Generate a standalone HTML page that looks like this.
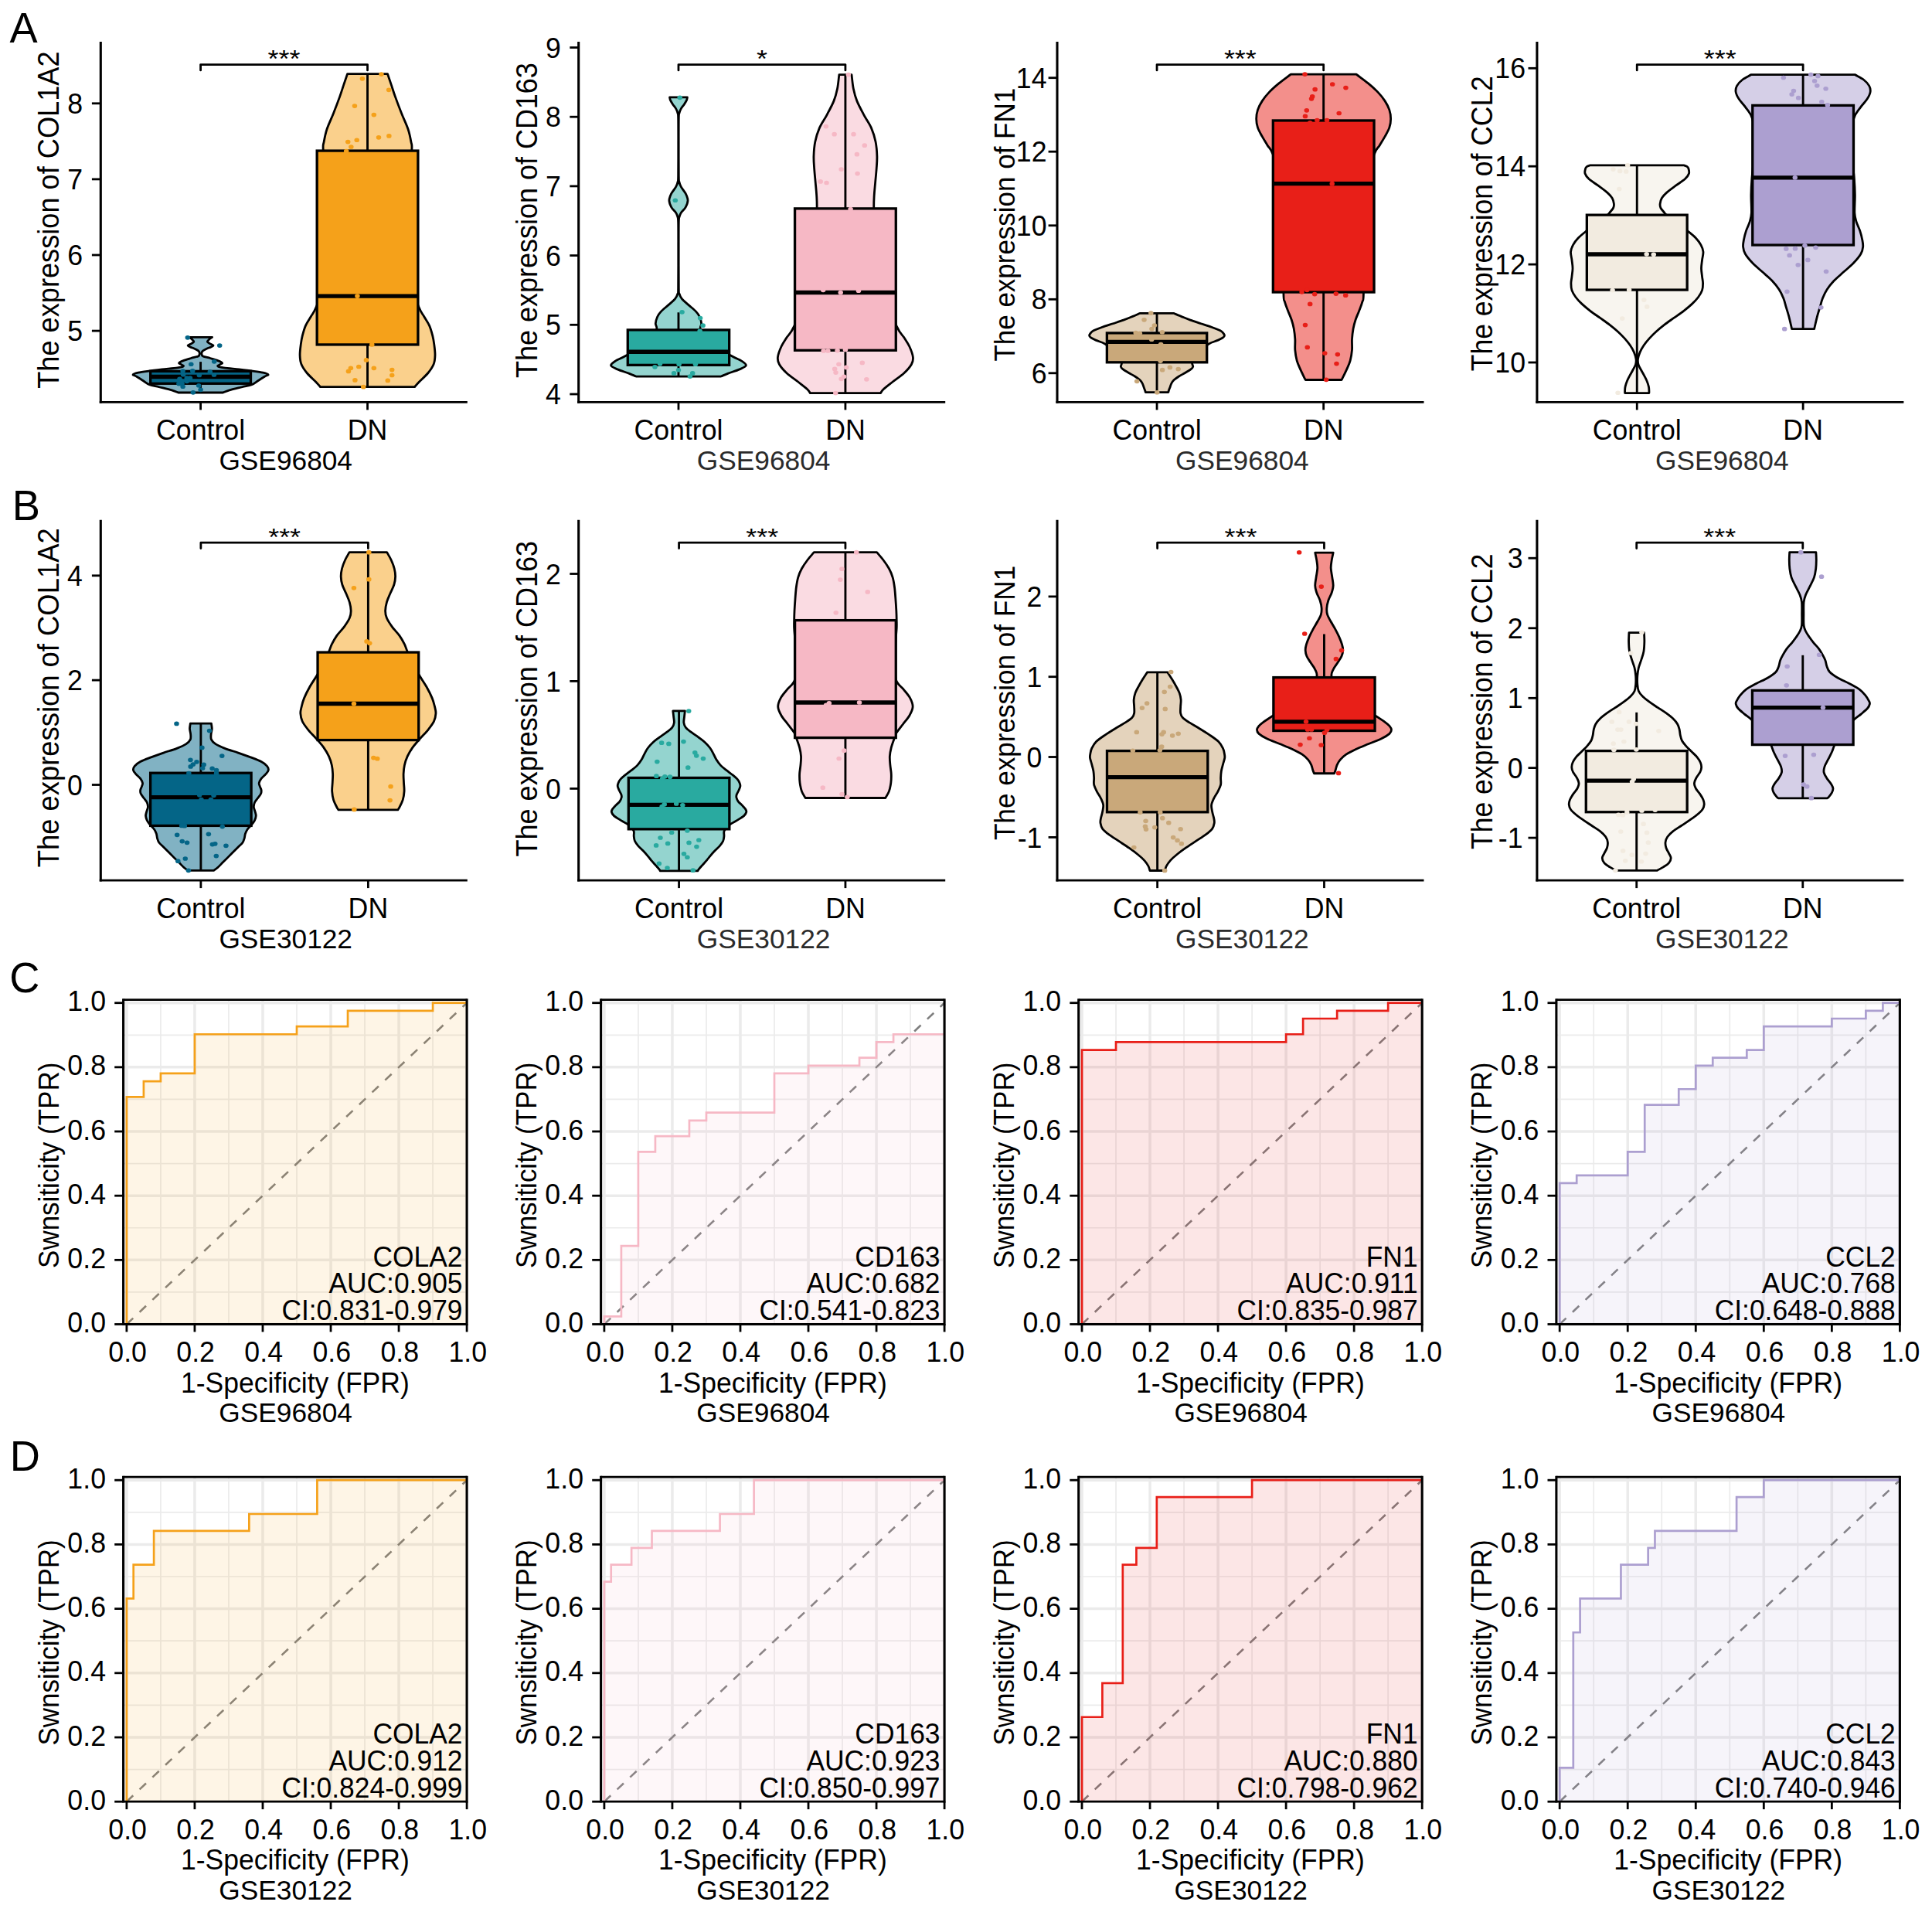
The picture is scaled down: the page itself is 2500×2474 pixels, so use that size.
<!DOCTYPE html>
<html><head><meta charset="utf-8"><title>Figure</title>
<style>html,body{margin:0;padding:0;background:#fff}svg{display:block}text{white-space:pre}</style></head><body>
<svg width="2500" height="2474" viewBox="0 0 2500 2474" font-family="Liberation Sans, Arial, Helvetica, sans-serif">
<rect width="2500" height="2474" fill="#fff"/>
<g id="A1">
<path d="M244.58 436.36 L274.6 436.36 C273.66 436.94 272.53 437.56 271.8 438.12 C271.08 438.67 270.82 438.98 270.25 439.67 C269.68 440.36 268.09 441.39 268.39 442.26 C268.68 443.12 270.71 444.03 272.01 444.84 C273.3 445.66 276.06 446.4 276.15 447.12 C276.24 447.85 273.91 448.54 272.53 449.19 C271.15 449.85 269.59 450.23 267.87 451.06 C266.14 451.88 263.33 453.04 262.17 454.16 C261.02 455.28 260.85 456.66 260.93 457.78 C261.02 458.91 260.85 459.94 262.69 460.89 C264.54 461.84 268.82 462.53 272.01 463.48 C275.2 464.43 279.25 465.55 281.84 466.58 C284.43 467.62 287.1 468.83 287.54 469.69 C287.97 470.55 285.38 471.07 284.43 471.76 C283.48 472.45 280.98 473.14 281.84 473.83 C282.71 474.52 285.03 475.21 289.61 475.9 C294.18 476.59 303.06 477.28 309.28 477.97 C315.49 478.66 321.7 479.35 326.87 480.04 C332.05 480.73 336.97 481.34 340.33 482.11 C343.7 482.89 346.71 483.84 347.06 484.7 C347.41 485.56 344.56 485.99 342.4 487.29 C340.24 488.58 336.88 490.74 334.12 492.46 C331.36 494.19 329.29 496.26 325.84 497.64 C322.39 499.02 318.25 499.54 313.42 500.75 C308.59 501.95 300.99 503.68 296.85 504.89 C292.71 506.09 291.33 506.96 288.57 507.99 L230.6 507.99 C227.84 506.96 226.46 506.09 222.32 504.89 C218.18 503.68 210.59 501.95 205.76 500.75 C200.92 499.54 196.78 499.02 193.33 497.64 C189.88 496.26 187.81 494.19 185.05 492.46 C182.29 490.74 178.93 488.58 176.77 487.29 C174.61 485.99 171.77 485.56 172.11 484.7 C172.46 483.84 175.48 482.89 178.84 482.11 C182.2 481.34 187.12 480.73 192.3 480.04 C197.47 479.35 203.69 478.66 209.9 477.97 C216.11 477.28 224.99 476.59 229.57 475.9 C234.14 475.21 236.47 474.52 237.33 473.83 C238.19 473.14 235.69 472.45 234.74 471.76 C233.79 471.07 231.2 470.55 231.64 469.69 C232.07 468.83 234.74 467.62 237.33 466.58 C239.92 465.55 243.97 464.43 247.16 463.48 C250.36 462.53 254.63 461.84 256.48 460.89 C258.33 459.94 258.15 458.91 258.24 457.78 C258.33 456.66 258.15 455.28 257 454.16 C255.84 453.04 253.03 451.88 251.3 451.06 C249.58 450.23 248.03 449.85 246.65 449.19 C245.27 448.54 242.94 447.85 243.02 447.12 C243.11 446.4 245.87 445.66 247.16 444.84 C248.46 444.03 250.49 443.12 250.79 442.26 C251.08 441.39 249.49 440.36 248.92 439.67 C248.35 438.98 248.1 438.67 247.37 438.12 C246.65 437.56 245.51 436.94 244.58 436.36 Z" fill="#046587" fill-opacity="0.5" stroke="none"/>
<path d="M244.58 436.36 L274.6 436.36 C273.66 436.94 272.53 437.56 271.8 438.12 C271.08 438.67 270.82 438.98 270.25 439.67 C269.68 440.36 268.09 441.39 268.39 442.26 C268.68 443.12 270.71 444.03 272.01 444.84 C273.3 445.66 276.06 446.4 276.15 447.12 C276.24 447.85 273.91 448.54 272.53 449.19 C271.15 449.85 269.59 450.23 267.87 451.06 C266.14 451.88 263.33 453.04 262.17 454.16 C261.02 455.28 260.85 456.66 260.93 457.78 C261.02 458.91 260.85 459.94 262.69 460.89 C264.54 461.84 268.82 462.53 272.01 463.48 C275.2 464.43 279.25 465.55 281.84 466.58 C284.43 467.62 287.1 468.83 287.54 469.69 C287.97 470.55 285.38 471.07 284.43 471.76 C283.48 472.45 280.98 473.14 281.84 473.83 C282.71 474.52 285.03 475.21 289.61 475.9 C294.18 476.59 303.06 477.28 309.28 477.97 C315.49 478.66 321.7 479.35 326.87 480.04 C332.05 480.73 336.97 481.34 340.33 482.11 C343.7 482.89 346.71 483.84 347.06 484.7 C347.41 485.56 344.56 485.99 342.4 487.29 C340.24 488.58 336.88 490.74 334.12 492.46 C331.36 494.19 329.29 496.26 325.84 497.64 C322.39 499.02 318.25 499.54 313.42 500.75 C308.59 501.95 300.99 503.68 296.85 504.89 C292.71 506.09 291.33 506.96 288.57 507.99 L230.6 507.99 C227.84 506.96 226.46 506.09 222.32 504.89 C218.18 503.68 210.59 501.95 205.76 500.75 C200.92 499.54 196.78 499.02 193.33 497.64 C189.88 496.26 187.81 494.19 185.05 492.46 C182.29 490.74 178.93 488.58 176.77 487.29 C174.61 485.99 171.77 485.56 172.11 484.7 C172.46 483.84 175.48 482.89 178.84 482.11 C182.2 481.34 187.12 480.73 192.3 480.04 C197.47 479.35 203.69 478.66 209.9 477.97 C216.11 477.28 224.99 476.59 229.57 475.9 C234.14 475.21 236.47 474.52 237.33 473.83 C238.19 473.14 235.69 472.45 234.74 471.76 C233.79 471.07 231.2 470.55 231.64 469.69 C232.07 468.83 234.74 467.62 237.33 466.58 C239.92 465.55 243.97 464.43 247.16 463.48 C250.36 462.53 254.63 461.84 256.48 460.89 C258.33 459.94 258.15 458.91 258.24 457.78 C258.33 456.66 258.15 455.28 257 454.16 C255.84 453.04 253.03 451.88 251.3 451.06 C249.58 450.23 248.03 449.85 246.65 449.19 C245.27 448.54 242.94 447.85 243.02 447.12 C243.11 446.4 245.87 445.66 247.16 444.84 C248.46 444.03 250.49 443.12 250.79 442.26 C251.08 441.39 249.49 440.36 248.92 439.67 C248.35 438.98 248.1 438.67 247.37 438.12 C246.65 437.56 245.51 436.94 244.58 436.36 Z" fill="none" stroke="#000" stroke-width="2.8" stroke-linejoin="round"/>
<line x1="259.59" y1="468.14" x2="259.59" y2="480.35" stroke="#000" stroke-width="2.9" stroke-linecap="butt" />
<line x1="259.59" y1="496.29" x2="259.59" y2="507.99" stroke="#000" stroke-width="2.9" stroke-linecap="butt" />
<rect x="194.68" y="480.35" width="129.81" height="15.94" fill="#046587" stroke="#000" stroke-width="3.3"/>
<line x1="194.68" y1="487.49" x2="324.49" y2="487.49" stroke="#000" stroke-width="5.3" stroke-linecap="butt" />
<g fill="#046587">
<ellipse cx="242.82" cy="436.87" rx="3.25" ry="2.85"/>
<ellipse cx="284.22" cy="447.12" rx="3.25" ry="2.85"/>
<ellipse cx="277.18" cy="467.83" rx="3.25" ry="2.85"/>
<ellipse cx="247.27" cy="471.24" rx="3.25" ry="2.85"/>
<ellipse cx="236.6" cy="480.04" rx="3.25" ry="2.85"/>
<ellipse cx="249.23" cy="479.83" rx="3.25" ry="2.85"/>
<ellipse cx="271.8" cy="481.08" rx="3.25" ry="2.85"/>
<ellipse cx="237.12" cy="484.7" rx="3.25" ry="2.85"/>
<ellipse cx="257.83" cy="485.42" rx="3.25" ry="2.85"/>
<ellipse cx="276.98" cy="485.01" rx="3.25" ry="2.85"/>
<ellipse cx="232.46" cy="490.39" rx="3.25" ry="2.85"/>
<ellipse cx="241.78" cy="489.15" rx="3.25" ry="2.85"/>
<ellipse cx="245.92" cy="489.15" rx="3.25" ry="2.85"/>
<ellipse cx="234.53" cy="492.98" rx="3.25" ry="2.85"/>
<ellipse cx="241.78" cy="493.29" rx="3.25" ry="2.85"/>
<ellipse cx="231.43" cy="496.6" rx="3.25" ry="2.85"/>
<ellipse cx="235.57" cy="496.6" rx="3.25" ry="2.85"/>
<ellipse cx="236.6" cy="500.23" rx="3.25" ry="2.85"/>
<ellipse cx="257.1" cy="498.88" rx="3.25" ry="2.85"/>
<ellipse cx="259.59" cy="504.37" rx="3.25" ry="2.85"/>
<ellipse cx="249.86" cy="507.78" rx="3.25" ry="2.85"/>
</g>
<path d="M449.53 95.65 L501.54 95.65 C503.15 100.41 504.73 105.01 506.38 109.92 C508.02 114.83 509.21 118.93 511.44 125.11 C513.66 131.29 516.96 139.99 519.72 146.97 C522.49 153.95 525.98 160.9 528.01 167 C530.04 173.1 531.12 178.96 531.92 183.57 C532.73 188.17 533.42 185.02 532.84 194.61 C532.27 204.2 529.77 221.85 528.47 241.1 C527.17 260.36 524.44 289.05 525.02 310.15 C525.59 331.25 529.04 353.03 531.92 367.69 C534.8 382.34 539.48 391.09 542.28 398.07 C545.08 405.05 546.5 405.7 548.72 409.57 C550.95 413.45 553.79 417.17 555.63 421.31 C557.47 425.45 558.73 430.33 559.77 434.43 C560.81 438.53 561.3 441.72 561.84 445.94 C562.38 450.16 563.11 455.53 562.99 459.75 C562.88 463.97 562.69 467.42 561.15 471.25 C559.62 475.09 556.93 478.93 553.79 482.76 C550.64 486.6 545.16 491.28 542.28 494.27 C539.4 497.26 538.44 498.57 536.52 500.71 L414.55 500.71 C412.63 498.57 411.67 497.26 408.79 494.27 C405.91 491.28 400.43 486.6 397.28 482.76 C394.14 478.93 391.45 475.09 389.92 471.25 C388.39 467.42 388.19 463.97 388.08 459.75 C387.96 455.53 388.69 450.16 389.23 445.94 C389.77 441.72 390.26 438.53 391.3 434.43 C392.34 430.33 393.6 425.45 395.44 421.31 C397.28 417.17 400.12 413.45 402.35 409.57 C404.57 405.7 405.99 405.05 408.79 398.07 C411.59 391.09 416.27 382.34 419.15 367.69 C422.03 353.03 425.48 331.25 426.05 310.15 C426.63 289.05 423.9 260.36 422.6 241.1 C421.3 221.85 418.8 204.2 418.23 194.61 C417.65 185.02 418.34 188.17 419.15 183.57 C419.95 178.96 421.03 173.1 423.06 167 C425.09 160.9 428.58 153.95 431.35 146.97 C434.11 139.99 437.41 131.29 439.63 125.11 C441.86 118.93 443.05 114.83 444.7 109.92 C446.34 105.01 447.92 100.41 449.53 95.65 Z" fill="#F5A11A" fill-opacity="0.5" stroke="none"/>
<path d="M449.53 95.65 L501.54 95.65 C503.15 100.41 504.73 105.01 506.38 109.92 C508.02 114.83 509.21 118.93 511.44 125.11 C513.66 131.29 516.96 139.99 519.72 146.97 C522.49 153.95 525.98 160.9 528.01 167 C530.04 173.1 531.12 178.96 531.92 183.57 C532.73 188.17 533.42 185.02 532.84 194.61 C532.27 204.2 529.77 221.85 528.47 241.1 C527.17 260.36 524.44 289.05 525.02 310.15 C525.59 331.25 529.04 353.03 531.92 367.69 C534.8 382.34 539.48 391.09 542.28 398.07 C545.08 405.05 546.5 405.7 548.72 409.57 C550.95 413.45 553.79 417.17 555.63 421.31 C557.47 425.45 558.73 430.33 559.77 434.43 C560.81 438.53 561.3 441.72 561.84 445.94 C562.38 450.16 563.11 455.53 562.99 459.75 C562.88 463.97 562.69 467.42 561.15 471.25 C559.62 475.09 556.93 478.93 553.79 482.76 C550.64 486.6 545.16 491.28 542.28 494.27 C539.4 497.26 538.44 498.57 536.52 500.71 L414.55 500.71 C412.63 498.57 411.67 497.26 408.79 494.27 C405.91 491.28 400.43 486.6 397.28 482.76 C394.14 478.93 391.45 475.09 389.92 471.25 C388.39 467.42 388.19 463.97 388.08 459.75 C387.96 455.53 388.69 450.16 389.23 445.94 C389.77 441.72 390.26 438.53 391.3 434.43 C392.34 430.33 393.6 425.45 395.44 421.31 C397.28 417.17 400.12 413.45 402.35 409.57 C404.57 405.7 405.99 405.05 408.79 398.07 C411.59 391.09 416.27 382.34 419.15 367.69 C422.03 353.03 425.48 331.25 426.05 310.15 C426.63 289.05 423.9 260.36 422.6 241.1 C421.3 221.85 418.8 204.2 418.23 194.61 C417.65 185.02 418.34 188.17 419.15 183.57 C419.95 178.96 421.03 173.1 423.06 167 C425.09 160.9 428.58 153.95 431.35 146.97 C434.11 139.99 437.41 131.29 439.63 125.11 C441.86 118.93 443.05 114.83 444.7 109.92 C446.34 105.01 447.92 100.41 449.53 95.65 Z" fill="none" stroke="#000" stroke-width="2.8" stroke-linejoin="round"/>
<line x1="475.54" y1="95.65" x2="475.54" y2="195.07" stroke="#000" stroke-width="2.9" stroke-linecap="butt" />
<line x1="475.54" y1="445.94" x2="475.54" y2="500.71" stroke="#000" stroke-width="2.9" stroke-linecap="butt" />
<rect x="410.17" y="195.07" width="130.72" height="250.86" fill="#F5A11A" stroke="#000" stroke-width="3.3"/>
<line x1="410.17" y1="383.11" x2="540.9" y2="383.11" stroke="#000" stroke-width="5.3" stroke-linecap="butt" />
<g fill="#F5A11A">
<ellipse cx="468.86" cy="101.86" rx="3.25" ry="2.85"/>
<ellipse cx="493.49" cy="96.11" rx="3.25" ry="2.85"/>
<ellipse cx="503.15" cy="116.36" rx="3.25" ry="2.85"/>
<ellipse cx="458.96" cy="137.08" rx="3.25" ry="2.85"/>
<ellipse cx="483.82" cy="148.58" rx="3.25" ry="2.85"/>
<ellipse cx="503.38" cy="175.97" rx="3.25" ry="2.85"/>
<ellipse cx="490.03" cy="177.81" rx="3.25" ry="2.85"/>
<ellipse cx="461.73" cy="181.27" rx="3.25" ry="2.85"/>
<ellipse cx="450.22" cy="183.57" rx="3.25" ry="2.85"/>
<ellipse cx="454.36" cy="190.01" rx="3.25" ry="2.85"/>
<ellipse cx="448.15" cy="195.54" rx="3.25" ry="2.85"/>
<ellipse cx="462.42" cy="383.11" rx="3.25" ry="2.85"/>
<ellipse cx="481.29" cy="445.94" rx="3.25" ry="2.85"/>
<ellipse cx="473.92" cy="465.96" rx="3.25" ry="2.85"/>
<ellipse cx="464.26" cy="474.48" rx="3.25" ry="2.85"/>
<ellipse cx="453.9" cy="476.32" rx="3.25" ry="2.85"/>
<ellipse cx="450.91" cy="480.46" rx="3.25" ry="2.85"/>
<ellipse cx="483.82" cy="476.32" rx="3.25" ry="2.85"/>
<ellipse cx="507.3" cy="478.62" rx="3.25" ry="2.85"/>
<ellipse cx="507.3" cy="485.52" rx="3.25" ry="2.85"/>
<ellipse cx="459.42" cy="491.97" rx="3.25" ry="2.85"/>
<ellipse cx="501.77" cy="492.43" rx="3.25" ry="2.85"/>
<ellipse cx="470.24" cy="500.71" rx="3.25" ry="2.85"/>
</g>
<line x1="130.3" y1="54.1" x2="130.3" y2="521.8" stroke="#000" stroke-width="3.1" stroke-linecap="butt" />
<line x1="128.75" y1="520.4" x2="604.8" y2="520.4" stroke="#000" stroke-width="2.8" stroke-linecap="butt" />
<line x1="118.9" y1="133.8" x2="130.3" y2="133.8" stroke="#000" stroke-width="2.8" stroke-linecap="butt" />
<text transform="translate(107,146.9) scale(1.02,1.04)" font-size="35" text-anchor="end" fill="#000" >8</text>
<line x1="118.9" y1="231.9" x2="130.3" y2="231.9" stroke="#000" stroke-width="2.8" stroke-linecap="butt" />
<text transform="translate(107,245) scale(1.02,1.04)" font-size="35" text-anchor="end" fill="#000" >7</text>
<line x1="118.9" y1="330" x2="130.3" y2="330" stroke="#000" stroke-width="2.8" stroke-linecap="butt" />
<text transform="translate(107,343.1) scale(1.02,1.04)" font-size="35" text-anchor="end" fill="#000" >6</text>
<line x1="118.9" y1="428.1" x2="130.3" y2="428.1" stroke="#000" stroke-width="2.8" stroke-linecap="butt" />
<text transform="translate(107,441.2) scale(1.02,1.04)" font-size="35" text-anchor="end" fill="#000" >5</text>
<line x1="259.59" y1="520.4" x2="259.59" y2="530.4" stroke="#000" stroke-width="2.8" stroke-linecap="butt" />
<text transform="translate(259.59,569.2) scale(1.02,1.04)" font-size="35" text-anchor="middle" fill="#000" >Control</text>
<line x1="475.54" y1="520.4" x2="475.54" y2="530.4" stroke="#000" stroke-width="2.8" stroke-linecap="butt" />
<text transform="translate(475.54,569.2) scale(1.02,1.04)" font-size="35" text-anchor="middle" fill="#000" >DN</text>
<text transform="translate(76.3,502.8) rotate(-90) scale(1,1.07)" font-size="36.19" text-anchor="start" fill="#000" >The expression of COL1A2</text>
<text transform="translate(369.7,608.2) scale(1.02,1.04)" font-size="34.6" text-anchor="middle" fill="#000" >GSE96804</text>
<path d="M259.59 90.9 V83.6 H475.54 V90.9" fill="none" stroke="#000" stroke-width="2.8" stroke-linecap="round" stroke-linejoin="round"/>
<text transform="translate(367.56,87.1) scale(1.02,0.91)" font-size="35.2" text-anchor="middle" fill="#000" >***</text>
</g>
<g id="A2">
<path d="M866.55 125.92 L889.39 125.92 C889.1 127.17 889.21 128.12 888.51 129.66 C887.82 131.2 886.43 133.32 885.22 135.15 C884.01 136.98 882.29 138.81 881.27 140.64 C880.24 142.47 879.56 144.12 879.07 146.13 C878.57 148.15 878.45 145.77 878.3 152.72 C878.15 159.68 878.19 175.42 878.19 187.87 C878.19 200.32 878.19 219.54 878.3 227.42 C878.41 235.29 878.35 232.73 878.85 235.11 C879.34 237.49 879.87 239.13 881.27 241.7 C882.66 244.26 885.73 247.55 887.2 250.48 C888.66 253.41 890.05 256.34 890.05 259.27 C890.05 262.2 888.62 265.42 887.2 268.06 C885.77 270.69 882.84 273 881.49 275.09 C880.13 277.17 879.6 278.46 879.07 280.58 C878.54 282.7 878.45 281.31 878.3 287.83 C878.15 294.35 878.19 305.59 878.19 319.68 C878.19 333.78 878.15 362.34 878.3 372.41 C878.45 382.48 878.39 377.72 879.07 380.1 C879.75 382.48 880.42 384.31 882.36 386.69 C884.3 389.07 887.67 391.63 890.71 394.38 C893.75 397.12 898.18 400.6 900.6 403.16 C903.01 405.73 904.04 407.19 905.21 409.75 C906.38 412.32 907.41 415.69 907.63 418.54 C907.85 421.4 904.88 422.86 906.53 426.89 C908.18 430.92 910.92 437.14 917.51 442.71 C924.1 448.27 939.12 456.25 946.07 460.28 C953.03 464.31 956.03 464.78 959.25 466.87 C962.48 468.96 965.77 470.97 965.4 472.8 C965.04 474.63 961.01 476.1 957.06 477.86 C953.1 479.61 945.71 481.81 941.68 483.35 C937.65 484.89 935.82 485.84 932.89 487.08 L823.05 487.08 C820.12 485.84 818.29 484.89 814.26 483.35 C810.23 481.81 802.84 479.61 798.88 477.86 C794.93 476.1 790.9 474.63 790.54 472.8 C790.17 470.97 793.47 468.96 796.69 466.87 C799.91 464.78 802.91 464.31 809.87 460.28 C816.82 456.25 831.84 448.27 838.43 442.71 C845.02 437.14 847.76 430.92 849.41 426.89 C851.06 422.86 848.09 421.4 848.31 418.54 C848.53 415.69 849.56 412.32 850.73 409.75 C851.9 407.19 852.93 405.73 855.34 403.16 C857.76 400.6 862.19 397.12 865.23 394.38 C868.27 391.63 871.64 389.07 873.58 386.69 C875.52 384.31 876.19 382.48 876.87 380.1 C877.55 377.72 877.49 382.48 877.64 372.41 C877.79 362.34 877.75 333.78 877.75 319.68 C877.75 305.59 877.79 294.35 877.64 287.83 C877.49 281.31 877.4 282.7 876.87 280.58 C876.34 278.46 875.81 277.17 874.46 275.09 C873.1 273 870.17 270.69 868.74 268.06 C867.32 265.42 865.89 262.2 865.89 259.27 C865.89 256.34 867.28 253.41 868.74 250.48 C870.21 247.55 873.28 244.26 874.67 241.7 C876.07 239.13 876.6 237.49 877.09 235.11 C877.59 232.73 877.53 235.29 877.64 227.42 C877.75 219.54 877.75 200.32 877.75 187.87 C877.75 175.42 877.79 159.68 877.64 152.72 C877.49 145.77 877.37 148.15 876.87 146.13 C876.38 144.12 875.7 142.47 874.67 140.64 C873.65 138.81 871.93 136.98 870.72 135.15 C869.51 133.32 868.12 131.2 867.43 129.66 C866.73 128.12 866.84 127.17 866.55 125.92 Z" fill="#29AAA0" fill-opacity="0.5" stroke="none"/>
<path d="M866.55 125.92 L889.39 125.92 C889.1 127.17 889.21 128.12 888.51 129.66 C887.82 131.2 886.43 133.32 885.22 135.15 C884.01 136.98 882.29 138.81 881.27 140.64 C880.24 142.47 879.56 144.12 879.07 146.13 C878.57 148.15 878.45 145.77 878.3 152.72 C878.15 159.68 878.19 175.42 878.19 187.87 C878.19 200.32 878.19 219.54 878.3 227.42 C878.41 235.29 878.35 232.73 878.85 235.11 C879.34 237.49 879.87 239.13 881.27 241.7 C882.66 244.26 885.73 247.55 887.2 250.48 C888.66 253.41 890.05 256.34 890.05 259.27 C890.05 262.2 888.62 265.42 887.2 268.06 C885.77 270.69 882.84 273 881.49 275.09 C880.13 277.17 879.6 278.46 879.07 280.58 C878.54 282.7 878.45 281.31 878.3 287.83 C878.15 294.35 878.19 305.59 878.19 319.68 C878.19 333.78 878.15 362.34 878.3 372.41 C878.45 382.48 878.39 377.72 879.07 380.1 C879.75 382.48 880.42 384.31 882.36 386.69 C884.3 389.07 887.67 391.63 890.71 394.38 C893.75 397.12 898.18 400.6 900.6 403.16 C903.01 405.73 904.04 407.19 905.21 409.75 C906.38 412.32 907.41 415.69 907.63 418.54 C907.85 421.4 904.88 422.86 906.53 426.89 C908.18 430.92 910.92 437.14 917.51 442.71 C924.1 448.27 939.12 456.25 946.07 460.28 C953.03 464.31 956.03 464.78 959.25 466.87 C962.48 468.96 965.77 470.97 965.4 472.8 C965.04 474.63 961.01 476.1 957.06 477.86 C953.1 479.61 945.71 481.81 941.68 483.35 C937.65 484.89 935.82 485.84 932.89 487.08 L823.05 487.08 C820.12 485.84 818.29 484.89 814.26 483.35 C810.23 481.81 802.84 479.61 798.88 477.86 C794.93 476.1 790.9 474.63 790.54 472.8 C790.17 470.97 793.47 468.96 796.69 466.87 C799.91 464.78 802.91 464.31 809.87 460.28 C816.82 456.25 831.84 448.27 838.43 442.71 C845.02 437.14 847.76 430.92 849.41 426.89 C851.06 422.86 848.09 421.4 848.31 418.54 C848.53 415.69 849.56 412.32 850.73 409.75 C851.9 407.19 852.93 405.73 855.34 403.16 C857.76 400.6 862.19 397.12 865.23 394.38 C868.27 391.63 871.64 389.07 873.58 386.69 C875.52 384.31 876.19 382.48 876.87 380.1 C877.55 377.72 877.49 382.48 877.64 372.41 C877.79 362.34 877.75 333.78 877.75 319.68 C877.75 305.59 877.79 294.35 877.64 287.83 C877.49 281.31 877.4 282.7 876.87 280.58 C876.34 278.46 875.81 277.17 874.46 275.09 C873.1 273 870.17 270.69 868.74 268.06 C867.32 265.42 865.89 262.2 865.89 259.27 C865.89 256.34 867.28 253.41 868.74 250.48 C870.21 247.55 873.28 244.26 874.67 241.7 C876.07 239.13 876.6 237.49 877.09 235.11 C877.59 232.73 877.53 235.29 877.64 227.42 C877.75 219.54 877.75 200.32 877.75 187.87 C877.75 175.42 877.79 159.68 877.64 152.72 C877.49 145.77 877.37 148.15 876.87 146.13 C876.38 144.12 875.7 142.47 874.67 140.64 C873.65 138.81 871.93 136.98 870.72 135.15 C869.51 133.32 868.12 131.2 867.43 129.66 C866.73 128.12 866.84 127.17 866.55 125.92 Z" fill="none" stroke="#000" stroke-width="2.8" stroke-linejoin="round"/>
<line x1="877.97" y1="404.26" x2="877.97" y2="426.89" stroke="#000" stroke-width="2.9" stroke-linecap="butt" />
<line x1="877.97" y1="472.36" x2="877.97" y2="487.08" stroke="#000" stroke-width="2.9" stroke-linecap="butt" />
<rect x="812.28" y="426.89" width="131.37" height="45.47" fill="#29AAA0" stroke="#000" stroke-width="3.3"/>
<line x1="812.28" y1="455.23" x2="943.66" y2="455.23" stroke="#000" stroke-width="5.3" stroke-linecap="butt" />
<g fill="#29AAA0">
<ellipse cx="879.73" cy="126.36" rx="3.25" ry="2.85"/>
<ellipse cx="873.8" cy="259.27" rx="3.25" ry="2.85"/>
<ellipse cx="882.58" cy="403.82" rx="3.25" ry="2.85"/>
<ellipse cx="906.09" cy="411.51" rx="3.25" ry="2.85"/>
<ellipse cx="909.6" cy="421.18" rx="3.25" ry="2.85"/>
<ellipse cx="905.65" cy="428.43" rx="3.25" ry="2.85"/>
<ellipse cx="847.43" cy="474.78" rx="3.25" ry="2.85"/>
<ellipse cx="854.02" cy="470.83" rx="3.25" ry="2.85"/>
<ellipse cx="878.63" cy="471.27" rx="3.25" ry="2.85"/>
<ellipse cx="899.94" cy="471.27" rx="3.25" ry="2.85"/>
<ellipse cx="877.97" cy="478.73" rx="3.25" ry="2.85"/>
<ellipse cx="872.04" cy="482.91" rx="3.25" ry="2.85"/>
<ellipse cx="896.2" cy="482.91" rx="3.25" ry="2.85"/>
<ellipse cx="892.91" cy="487.08" rx="3.25" ry="2.85"/>
</g>
<path d="M1085.87 96.57 L1101.98 96.57 C1102.75 102.55 1103.13 108.85 1104.28 114.52 C1105.43 120.2 1106.58 124.88 1108.88 130.63 C1111.19 136.39 1115.02 143.29 1118.09 149.04 C1121.16 154.8 1124.8 159.4 1127.3 165.16 C1129.79 170.91 1131.78 177.43 1133.05 183.57 C1134.32 189.7 1134.7 196.23 1134.89 201.98 C1135.08 207.73 1134.58 212.34 1134.2 218.09 C1133.82 223.84 1133.09 230.75 1132.59 236.5 C1132.09 242.26 1131.52 247.05 1131.21 252.61 C1130.9 258.17 1130.63 260.28 1130.75 269.87 C1130.86 279.46 1129.6 291.93 1131.9 310.15 C1134.2 328.37 1139.76 360.4 1144.56 379.19 C1149.35 397.99 1156.45 413.33 1160.67 422.92 C1164.89 432.51 1167.19 432.51 1169.87 436.73 C1172.56 440.95 1174.86 444.02 1176.78 448.24 C1178.7 452.46 1180.92 458.21 1181.38 462.05 C1181.84 465.88 1181.46 467.8 1179.54 471.25 C1177.62 474.71 1173.98 478.93 1169.87 482.76 C1165.77 486.6 1159.32 490.82 1154.91 494.27 C1150.5 497.72 1145.98 501.1 1143.41 503.48 C1140.84 505.85 1140.8 506.85 1139.49 508.54 L1048.35 508.54 C1047.05 506.85 1047.01 505.85 1044.44 503.48 C1041.87 501.1 1037.35 497.72 1032.93 494.27 C1028.52 490.82 1022.08 486.6 1017.97 482.76 C1013.87 478.93 1010.23 474.71 1008.31 471.25 C1006.39 467.8 1006.01 465.88 1006.47 462.05 C1006.93 458.21 1009.15 452.46 1011.07 448.24 C1012.99 444.02 1015.29 440.95 1017.97 436.73 C1020.66 432.51 1022.96 432.51 1027.18 422.92 C1031.4 413.33 1038.5 397.99 1043.29 379.19 C1048.09 360.4 1053.65 328.37 1055.95 310.15 C1058.25 291.93 1056.99 279.46 1057.1 269.87 C1057.22 260.28 1056.95 258.17 1056.64 252.61 C1056.33 247.05 1055.76 242.26 1055.26 236.5 C1054.76 230.75 1054.03 223.84 1053.65 218.09 C1053.26 212.34 1052.77 207.73 1052.96 201.98 C1053.15 196.23 1053.53 189.7 1054.8 183.57 C1056.06 177.43 1058.06 170.91 1060.55 165.16 C1063.05 159.4 1066.69 154.8 1069.76 149.04 C1072.83 143.29 1076.66 136.39 1078.96 130.63 C1081.27 124.88 1082.42 120.2 1083.57 114.52 C1084.72 108.85 1085.1 102.55 1085.87 96.57 Z" fill="#F6B8C5" fill-opacity="0.5" stroke="none"/>
<path d="M1085.87 96.57 L1101.98 96.57 C1102.75 102.55 1103.13 108.85 1104.28 114.52 C1105.43 120.2 1106.58 124.88 1108.88 130.63 C1111.19 136.39 1115.02 143.29 1118.09 149.04 C1121.16 154.8 1124.8 159.4 1127.3 165.16 C1129.79 170.91 1131.78 177.43 1133.05 183.57 C1134.32 189.7 1134.7 196.23 1134.89 201.98 C1135.08 207.73 1134.58 212.34 1134.2 218.09 C1133.82 223.84 1133.09 230.75 1132.59 236.5 C1132.09 242.26 1131.52 247.05 1131.21 252.61 C1130.9 258.17 1130.63 260.28 1130.75 269.87 C1130.86 279.46 1129.6 291.93 1131.9 310.15 C1134.2 328.37 1139.76 360.4 1144.56 379.19 C1149.35 397.99 1156.45 413.33 1160.67 422.92 C1164.89 432.51 1167.19 432.51 1169.87 436.73 C1172.56 440.95 1174.86 444.02 1176.78 448.24 C1178.7 452.46 1180.92 458.21 1181.38 462.05 C1181.84 465.88 1181.46 467.8 1179.54 471.25 C1177.62 474.71 1173.98 478.93 1169.87 482.76 C1165.77 486.6 1159.32 490.82 1154.91 494.27 C1150.5 497.72 1145.98 501.1 1143.41 503.48 C1140.84 505.85 1140.8 506.85 1139.49 508.54 L1048.35 508.54 C1047.05 506.85 1047.01 505.85 1044.44 503.48 C1041.87 501.1 1037.35 497.72 1032.93 494.27 C1028.52 490.82 1022.08 486.6 1017.97 482.76 C1013.87 478.93 1010.23 474.71 1008.31 471.25 C1006.39 467.8 1006.01 465.88 1006.47 462.05 C1006.93 458.21 1009.15 452.46 1011.07 448.24 C1012.99 444.02 1015.29 440.95 1017.97 436.73 C1020.66 432.51 1022.96 432.51 1027.18 422.92 C1031.4 413.33 1038.5 397.99 1043.29 379.19 C1048.09 360.4 1053.65 328.37 1055.95 310.15 C1058.25 291.93 1056.99 279.46 1057.1 269.87 C1057.22 260.28 1056.95 258.17 1056.64 252.61 C1056.33 247.05 1055.76 242.26 1055.26 236.5 C1054.76 230.75 1054.03 223.84 1053.65 218.09 C1053.26 212.34 1052.77 207.73 1052.96 201.98 C1053.15 196.23 1053.53 189.7 1054.8 183.57 C1056.06 177.43 1058.06 170.91 1060.55 165.16 C1063.05 159.4 1066.69 154.8 1069.76 149.04 C1072.83 143.29 1076.66 136.39 1078.96 130.63 C1081.27 124.88 1082.42 120.2 1083.57 114.52 C1084.72 108.85 1085.1 102.55 1085.87 96.57 Z" fill="none" stroke="#000" stroke-width="2.8" stroke-linejoin="round"/>
<line x1="1093.92" y1="96.57" x2="1093.92" y2="269.87" stroke="#000" stroke-width="2.9" stroke-linecap="butt" />
<line x1="1093.92" y1="453.3" x2="1093.92" y2="508.54" stroke="#000" stroke-width="2.9" stroke-linecap="butt" />
<rect x="1028.56" y="269.87" width="130.72" height="183.43" fill="#F6B8C5" stroke="#000" stroke-width="3.3"/>
<line x1="1028.56" y1="378.5" x2="1159.29" y2="378.5" stroke="#000" stroke-width="5.3" stroke-linecap="butt" />
<g fill="#F6B8C5">
<ellipse cx="1097.84" cy="96.57" rx="3.25" ry="2.85"/>
<ellipse cx="1068.84" cy="163.54" rx="3.25" ry="2.85"/>
<ellipse cx="1079.65" cy="173.67" rx="3.25" ry="2.85"/>
<ellipse cx="1104.51" cy="173.67" rx="3.25" ry="2.85"/>
<ellipse cx="1118.78" cy="188.17" rx="3.25" ry="2.85"/>
<ellipse cx="1108.88" cy="199.68" rx="3.25" ry="2.85"/>
<ellipse cx="1088.63" cy="219.01" rx="3.25" ry="2.85"/>
<ellipse cx="1109.57" cy="224.53" rx="3.25" ry="2.85"/>
<ellipse cx="1061.7" cy="234.89" rx="3.25" ry="2.85"/>
<ellipse cx="1069.53" cy="236.5" rx="3.25" ry="2.85"/>
<ellipse cx="1100.6" cy="270.56" rx="3.25" ry="2.85"/>
<ellipse cx="1065.16" cy="375.28" rx="3.25" ry="2.85"/>
<ellipse cx="1087.71" cy="378.5" rx="3.25" ry="2.85"/>
<ellipse cx="1110.96" cy="376.2" rx="3.25" ry="2.85"/>
<ellipse cx="1065.62" cy="453.99" rx="3.25" ry="2.85"/>
<ellipse cx="1071.37" cy="453.99" rx="3.25" ry="2.85"/>
<ellipse cx="1083.57" cy="453.53" rx="3.25" ry="2.85"/>
<ellipse cx="1093.92" cy="452.38" rx="3.25" ry="2.85"/>
<ellipse cx="1115.79" cy="469.41" rx="3.25" ry="2.85"/>
<ellipse cx="1085.41" cy="471.25" rx="3.25" ry="2.85"/>
<ellipse cx="1080.12" cy="477.47" rx="3.25" ry="2.85"/>
<ellipse cx="1095.07" cy="475.4" rx="3.25" ry="2.85"/>
<ellipse cx="1081.5" cy="482.07" rx="3.25" ry="2.85"/>
<ellipse cx="1092.08" cy="487.36" rx="3.25" ry="2.85"/>
<ellipse cx="1088.63" cy="490.36" rx="3.25" ry="2.85"/>
<ellipse cx="1121.31" cy="490.82" rx="3.25" ry="2.85"/>
<ellipse cx="1081.27" cy="508.54" rx="3.25" ry="2.85"/>
</g>
<line x1="748.7" y1="54.1" x2="748.7" y2="521.8" stroke="#000" stroke-width="3.1" stroke-linecap="butt" />
<line x1="747.15" y1="520.4" x2="1223.2" y2="520.4" stroke="#000" stroke-width="2.8" stroke-linecap="butt" />
<line x1="737.3" y1="61.5" x2="748.7" y2="61.5" stroke="#000" stroke-width="2.8" stroke-linecap="butt" />
<text transform="translate(725.8,74.6) scale(1.02,1.04)" font-size="35" text-anchor="end" fill="#000" >9</text>
<line x1="737.3" y1="151.2" x2="748.7" y2="151.2" stroke="#000" stroke-width="2.8" stroke-linecap="butt" />
<text transform="translate(725.8,164.3) scale(1.02,1.04)" font-size="35" text-anchor="end" fill="#000" >8</text>
<line x1="737.3" y1="240.9" x2="748.7" y2="240.9" stroke="#000" stroke-width="2.8" stroke-linecap="butt" />
<text transform="translate(725.8,254) scale(1.02,1.04)" font-size="35" text-anchor="end" fill="#000" >7</text>
<line x1="737.3" y1="330.6" x2="748.7" y2="330.6" stroke="#000" stroke-width="2.8" stroke-linecap="butt" />
<text transform="translate(725.8,343.7) scale(1.02,1.04)" font-size="35" text-anchor="end" fill="#000" >6</text>
<line x1="737.3" y1="420.3" x2="748.7" y2="420.3" stroke="#000" stroke-width="2.8" stroke-linecap="butt" />
<text transform="translate(725.8,433.4) scale(1.02,1.04)" font-size="35" text-anchor="end" fill="#000" >5</text>
<line x1="737.3" y1="510" x2="748.7" y2="510" stroke="#000" stroke-width="2.8" stroke-linecap="butt" />
<text transform="translate(725.8,523.1) scale(1.02,1.04)" font-size="35" text-anchor="end" fill="#000" >4</text>
<line x1="877.97" y1="520.4" x2="877.97" y2="530.4" stroke="#000" stroke-width="2.8" stroke-linecap="butt" />
<text transform="translate(877.97,569.2) scale(1.02,1.04)" font-size="35" text-anchor="middle" fill="#000" >Control</text>
<line x1="1093.92" y1="520.4" x2="1093.92" y2="530.4" stroke="#000" stroke-width="2.8" stroke-linecap="butt" />
<text transform="translate(1093.92,569.2) scale(1.02,1.04)" font-size="35" text-anchor="middle" fill="#000" >DN</text>
<text transform="translate(695.2,489) rotate(-90) scale(1,1.07)" font-size="35.97" text-anchor="start" fill="#000" >The expression of CD163</text>
<text transform="translate(988.1,608.2) scale(1.02,1.04)" font-size="34.6" text-anchor="middle" fill="#2b2b2b" >GSE96804</text>
<path d="M877.97 90.9 V83.6 H1093.92 V90.9" fill="none" stroke="#000" stroke-width="2.8" stroke-linecap="round" stroke-linejoin="round"/>
<text transform="translate(985.95,87.1) scale(1.02,0.91)" font-size="35.2" text-anchor="middle" fill="#000" >*</text>
</g>
<g id="A3">
<path d="M1475.4 405.28 L1518.67 405.28 C1522.09 406.72 1525.31 408.13 1528.92 409.61 C1532.53 411.09 1536.13 412.64 1540.31 414.16 C1544.48 415.68 1549.42 417.2 1553.97 418.72 C1558.53 420.23 1563.46 421.75 1567.64 423.27 C1571.81 424.79 1576.46 426.5 1579.02 427.83 C1581.59 429.15 1582.1 430.2 1583.01 431.24 C1583.92 432.28 1584.58 433.14 1584.49 434.09 C1584.39 435.04 1583.92 435.89 1582.44 436.93 C1580.96 437.98 1578.64 439.02 1575.61 440.35 C1572.57 441.68 1568.21 442.63 1564.22 444.91 C1560.23 447.18 1555.11 450.79 1551.69 454.02 C1548.28 457.24 1545.24 461.61 1543.72 464.26 C1542.21 466.92 1542.58 468.25 1542.58 469.96 C1542.58 471.66 1544.01 473.18 1543.72 474.51 C1543.44 475.84 1542.58 476.6 1540.88 477.93 C1539.17 479.26 1536.04 480.96 1533.48 482.48 C1530.91 484 1527.88 485.52 1525.5 487.04 C1523.13 488.56 1520.85 490.07 1519.24 491.59 C1517.63 493.11 1516.68 494.63 1515.83 496.15 C1514.97 497.66 1514.69 499.18 1514.12 500.7 C1513.55 502.22 1512.79 504.12 1512.41 505.26 C1512.03 506.39 1512.03 506.77 1511.84 507.53 L1482.23 507.53 C1482.04 506.77 1482.04 506.39 1481.66 505.26 C1481.29 504.12 1480.53 502.22 1479.96 500.7 C1479.39 499.18 1479.1 497.66 1478.25 496.15 C1477.39 494.63 1476.45 493.11 1474.83 491.59 C1473.22 490.07 1470.94 488.56 1468.57 487.04 C1466.2 485.52 1463.16 484 1460.6 482.48 C1458.04 480.96 1454.91 479.26 1453.2 477.93 C1451.49 476.6 1450.64 475.84 1450.35 474.51 C1450.07 473.18 1451.49 471.66 1451.49 469.96 C1451.49 468.25 1451.87 466.92 1450.35 464.26 C1448.83 461.61 1445.8 457.24 1442.38 454.02 C1438.96 450.79 1433.84 447.18 1429.85 444.91 C1425.87 442.63 1421.5 441.68 1418.47 440.35 C1415.43 439.02 1413.12 437.98 1411.64 436.93 C1410.15 435.89 1409.68 435.04 1409.59 434.09 C1409.49 433.14 1410.15 432.28 1411.07 431.24 C1411.98 430.2 1412.49 429.15 1415.05 427.83 C1417.61 426.5 1422.26 424.79 1426.44 423.27 C1430.61 421.75 1435.55 420.23 1440.1 418.72 C1444.66 417.2 1449.59 415.68 1453.77 414.16 C1457.94 412.64 1461.55 411.09 1465.15 409.61 C1468.76 408.13 1471.99 406.72 1475.4 405.28 Z" fill="#C9A87A" fill-opacity="0.5" stroke="none"/>
<path d="M1475.4 405.28 L1518.67 405.28 C1522.09 406.72 1525.31 408.13 1528.92 409.61 C1532.53 411.09 1536.13 412.64 1540.31 414.16 C1544.48 415.68 1549.42 417.2 1553.97 418.72 C1558.53 420.23 1563.46 421.75 1567.64 423.27 C1571.81 424.79 1576.46 426.5 1579.02 427.83 C1581.59 429.15 1582.1 430.2 1583.01 431.24 C1583.92 432.28 1584.58 433.14 1584.49 434.09 C1584.39 435.04 1583.92 435.89 1582.44 436.93 C1580.96 437.98 1578.64 439.02 1575.61 440.35 C1572.57 441.68 1568.21 442.63 1564.22 444.91 C1560.23 447.18 1555.11 450.79 1551.69 454.02 C1548.28 457.24 1545.24 461.61 1543.72 464.26 C1542.21 466.92 1542.58 468.25 1542.58 469.96 C1542.58 471.66 1544.01 473.18 1543.72 474.51 C1543.44 475.84 1542.58 476.6 1540.88 477.93 C1539.17 479.26 1536.04 480.96 1533.48 482.48 C1530.91 484 1527.88 485.52 1525.5 487.04 C1523.13 488.56 1520.85 490.07 1519.24 491.59 C1517.63 493.11 1516.68 494.63 1515.83 496.15 C1514.97 497.66 1514.69 499.18 1514.12 500.7 C1513.55 502.22 1512.79 504.12 1512.41 505.26 C1512.03 506.39 1512.03 506.77 1511.84 507.53 L1482.23 507.53 C1482.04 506.77 1482.04 506.39 1481.66 505.26 C1481.29 504.12 1480.53 502.22 1479.96 500.7 C1479.39 499.18 1479.1 497.66 1478.25 496.15 C1477.39 494.63 1476.45 493.11 1474.83 491.59 C1473.22 490.07 1470.94 488.56 1468.57 487.04 C1466.2 485.52 1463.16 484 1460.6 482.48 C1458.04 480.96 1454.91 479.26 1453.2 477.93 C1451.49 476.6 1450.64 475.84 1450.35 474.51 C1450.07 473.18 1451.49 471.66 1451.49 469.96 C1451.49 468.25 1451.87 466.92 1450.35 464.26 C1448.83 461.61 1445.8 457.24 1442.38 454.02 C1438.96 450.79 1433.84 447.18 1429.85 444.91 C1425.87 442.63 1421.5 441.68 1418.47 440.35 C1415.43 439.02 1413.12 437.98 1411.64 436.93 C1410.15 435.89 1409.68 435.04 1409.59 434.09 C1409.49 433.14 1410.15 432.28 1411.07 431.24 C1411.98 430.2 1412.49 429.15 1415.05 427.83 C1417.61 426.5 1422.26 424.79 1426.44 423.27 C1430.61 421.75 1435.55 420.23 1440.1 418.72 C1444.66 417.2 1449.59 415.68 1453.77 414.16 C1457.94 412.64 1461.55 411.09 1465.15 409.61 C1468.76 408.13 1471.99 406.72 1475.4 405.28 Z" fill="none" stroke="#000" stroke-width="2.8" stroke-linejoin="round"/>
<line x1="1497.04" y1="405.28" x2="1497.04" y2="430.9" stroke="#000" stroke-width="2.9" stroke-linecap="butt" />
<line x1="1497.04" y1="468.82" x2="1497.04" y2="507.53" stroke="#000" stroke-width="2.9" stroke-linecap="butt" />
<rect x="1432.36" y="430.9" width="129.36" height="37.92" fill="#C9A87A" stroke="#000" stroke-width="3.3"/>
<line x1="1432.36" y1="442.29" x2="1561.71" y2="442.29" stroke="#000" stroke-width="5.3" stroke-linecap="butt" />
<g fill="#C9A87A">
<ellipse cx="1489.29" cy="405.05" rx="3.25" ry="2.85"/>
<ellipse cx="1480.53" cy="413.82" rx="3.25" ry="2.85"/>
<ellipse cx="1493.85" cy="420.99" rx="3.25" ry="2.85"/>
<ellipse cx="1490.43" cy="425.55" rx="3.25" ry="2.85"/>
<ellipse cx="1469.71" cy="430.67" rx="3.25" ry="2.85"/>
<ellipse cx="1474.83" cy="431.24" rx="3.25" ry="2.85"/>
<ellipse cx="1503.87" cy="429.76" rx="3.25" ry="2.85"/>
<ellipse cx="1490.2" cy="439.21" rx="3.25" ry="2.85"/>
<ellipse cx="1502.16" cy="445.7" rx="3.25" ry="2.85"/>
<ellipse cx="1501.59" cy="467.11" rx="3.25" ry="2.85"/>
<ellipse cx="1513.89" cy="475.42" rx="3.25" ry="2.85"/>
<ellipse cx="1504.1" cy="478.72" rx="3.25" ry="2.85"/>
<ellipse cx="1524.71" cy="477.59" rx="3.25" ry="2.85"/>
<ellipse cx="1471.19" cy="493.3" rx="3.25" ry="2.85"/>
<ellipse cx="1497.26" cy="507.76" rx="3.25" ry="2.85"/>
</g>
<path d="M1670.32 96.11 L1755.02 96.11 C1760.08 99.95 1765.57 103.78 1770.21 107.62 C1774.85 111.45 1779.22 115.29 1782.87 119.13 C1786.51 122.96 1789.58 126.8 1792.07 130.63 C1794.56 134.47 1796.56 138.3 1797.83 142.14 C1799.09 145.98 1799.67 149.81 1799.67 153.65 C1799.67 157.48 1799.09 161.32 1797.83 165.16 C1796.56 168.99 1794.18 172.83 1792.07 176.66 C1789.96 180.5 1787.47 184.33 1785.17 188.17 C1782.87 192.01 1781.14 190.86 1778.26 199.68 C1775.39 208.5 1770.21 222.69 1767.91 241.1 C1765.6 259.52 1765.03 287.13 1764.45 310.15 C1763.88 333.16 1764.72 365.77 1764.45 379.19 C1764.18 392.62 1763.8 386.87 1762.84 390.7 C1761.88 394.54 1760.16 398.37 1758.7 402.21 C1757.24 406.05 1755.36 409.88 1754.1 413.72 C1752.83 417.55 1751.87 421 1751.1 425.22 C1750.34 429.44 1749.76 434.43 1749.49 439.03 C1749.23 443.64 1749.88 448.24 1749.49 452.84 C1749.11 457.45 1748.34 462.43 1747.19 466.65 C1746.04 470.87 1744.43 474.02 1742.59 478.16 C1740.75 482.3 1738.29 487.06 1736.14 491.51 L1689.19 491.51 C1687.05 487.06 1684.59 482.3 1682.75 478.16 C1680.91 474.02 1679.3 470.87 1678.15 466.65 C1677 462.43 1676.23 457.45 1675.85 452.84 C1675.46 448.24 1676.11 443.64 1675.85 439.03 C1675.58 434.43 1675 429.44 1674.23 425.22 C1673.47 421 1672.51 417.55 1671.24 413.72 C1669.98 409.88 1668.1 406.05 1666.64 402.21 C1665.18 398.37 1663.46 394.54 1662.5 390.7 C1661.54 386.87 1661.15 392.62 1660.89 379.19 C1660.62 365.77 1661.46 333.16 1660.89 310.15 C1660.31 287.13 1659.74 259.52 1657.43 241.1 C1655.13 222.69 1649.95 208.5 1647.08 199.68 C1644.2 190.86 1642.47 192.01 1640.17 188.17 C1637.87 184.33 1635.38 180.5 1633.27 176.66 C1631.16 172.83 1628.78 168.99 1627.51 165.16 C1626.25 161.32 1625.67 157.48 1625.67 153.65 C1625.67 149.81 1626.25 145.98 1627.51 142.14 C1628.78 138.3 1630.77 134.47 1633.27 130.63 C1635.76 126.8 1638.83 122.96 1642.47 119.13 C1646.12 115.29 1650.49 111.45 1655.13 107.62 C1659.77 103.78 1665.26 99.95 1670.32 96.11 Z" fill="#E81F18" fill-opacity="0.5" stroke="none"/>
<path d="M1670.32 96.11 L1755.02 96.11 C1760.08 99.95 1765.57 103.78 1770.21 107.62 C1774.85 111.45 1779.22 115.29 1782.87 119.13 C1786.51 122.96 1789.58 126.8 1792.07 130.63 C1794.56 134.47 1796.56 138.3 1797.83 142.14 C1799.09 145.98 1799.67 149.81 1799.67 153.65 C1799.67 157.48 1799.09 161.32 1797.83 165.16 C1796.56 168.99 1794.18 172.83 1792.07 176.66 C1789.96 180.5 1787.47 184.33 1785.17 188.17 C1782.87 192.01 1781.14 190.86 1778.26 199.68 C1775.39 208.5 1770.21 222.69 1767.91 241.1 C1765.6 259.52 1765.03 287.13 1764.45 310.15 C1763.88 333.16 1764.72 365.77 1764.45 379.19 C1764.18 392.62 1763.8 386.87 1762.84 390.7 C1761.88 394.54 1760.16 398.37 1758.7 402.21 C1757.24 406.05 1755.36 409.88 1754.1 413.72 C1752.83 417.55 1751.87 421 1751.1 425.22 C1750.34 429.44 1749.76 434.43 1749.49 439.03 C1749.23 443.64 1749.88 448.24 1749.49 452.84 C1749.11 457.45 1748.34 462.43 1747.19 466.65 C1746.04 470.87 1744.43 474.02 1742.59 478.16 C1740.75 482.3 1738.29 487.06 1736.14 491.51 L1689.19 491.51 C1687.05 487.06 1684.59 482.3 1682.75 478.16 C1680.91 474.02 1679.3 470.87 1678.15 466.65 C1677 462.43 1676.23 457.45 1675.85 452.84 C1675.46 448.24 1676.11 443.64 1675.85 439.03 C1675.58 434.43 1675 429.44 1674.23 425.22 C1673.47 421 1672.51 417.55 1671.24 413.72 C1669.98 409.88 1668.1 406.05 1666.64 402.21 C1665.18 398.37 1663.46 394.54 1662.5 390.7 C1661.54 386.87 1661.15 392.62 1660.89 379.19 C1660.62 365.77 1661.46 333.16 1660.89 310.15 C1660.31 287.13 1659.74 259.52 1657.43 241.1 C1655.13 222.69 1649.95 208.5 1647.08 199.68 C1644.2 190.86 1642.47 192.01 1640.17 188.17 C1637.87 184.33 1635.38 180.5 1633.27 176.66 C1631.16 172.83 1628.78 168.99 1627.51 165.16 C1626.25 161.32 1625.67 157.48 1625.67 153.65 C1625.67 149.81 1626.25 145.98 1627.51 142.14 C1628.78 138.3 1630.77 134.47 1633.27 130.63 C1635.76 126.8 1638.83 122.96 1642.47 119.13 C1646.12 115.29 1650.49 111.45 1655.13 107.62 C1659.77 103.78 1665.26 99.95 1670.32 96.11 Z" fill="none" stroke="#000" stroke-width="2.8" stroke-linejoin="round"/>
<line x1="1712.67" y1="96.11" x2="1712.67" y2="155.95" stroke="#000" stroke-width="2.9" stroke-linecap="butt" />
<line x1="1712.67" y1="378.04" x2="1712.67" y2="491.51" stroke="#000" stroke-width="2.9" stroke-linecap="butt" />
<rect x="1647.31" y="155.95" width="130.72" height="222.09" fill="#E81F18" stroke="#000" stroke-width="3.3"/>
<line x1="1647.31" y1="237.65" x2="1778.03" y2="237.65" stroke="#000" stroke-width="5.3" stroke-linecap="butt" />
<g fill="#E81F18">
<ellipse cx="1688.5" cy="96.11" rx="3.25" ry="2.85"/>
<ellipse cx="1724.18" cy="109" rx="3.25" ry="2.85"/>
<ellipse cx="1741.44" cy="113.6" rx="3.25" ry="2.85"/>
<ellipse cx="1701.62" cy="115.67" rx="3.25" ry="2.85"/>
<ellipse cx="1698.17" cy="124.88" rx="3.25" ry="2.85"/>
<ellipse cx="1697.02" cy="127.87" rx="3.25" ry="2.85"/>
<ellipse cx="1690.81" cy="142.83" rx="3.25" ry="2.85"/>
<ellipse cx="1732.69" cy="146.51" rx="3.25" ry="2.85"/>
<ellipse cx="1688.96" cy="150.43" rx="3.25" ry="2.85"/>
<ellipse cx="1704.38" cy="155.49" rx="3.25" ry="2.85"/>
<ellipse cx="1717.04" cy="155.49" rx="3.25" ry="2.85"/>
<ellipse cx="1695.18" cy="158.94" rx="3.25" ry="2.85"/>
<ellipse cx="1723.72" cy="237.65" rx="3.25" ry="2.85"/>
<ellipse cx="1684.59" cy="377.81" rx="3.25" ry="2.85"/>
<ellipse cx="1691.27" cy="375.28" rx="3.25" ry="2.85"/>
<ellipse cx="1701.16" cy="380.58" rx="3.25" ry="2.85"/>
<ellipse cx="1728.78" cy="380.12" rx="3.25" ry="2.85"/>
<ellipse cx="1741.21" cy="382.19" rx="3.25" ry="2.85"/>
<ellipse cx="1695.18" cy="393.46" rx="3.25" ry="2.85"/>
<ellipse cx="1688.96" cy="420.62" rx="3.25" ry="2.85"/>
<ellipse cx="1691.73" cy="449.39" rx="3.25" ry="2.85"/>
<ellipse cx="1714.28" cy="456.99" rx="3.25" ry="2.85"/>
<ellipse cx="1730.85" cy="458.6" rx="3.25" ry="2.85"/>
<ellipse cx="1729.47" cy="470.56" rx="3.25" ry="2.85"/>
<ellipse cx="1716.12" cy="491.28" rx="3.25" ry="2.85"/>
</g>
<line x1="1368" y1="54.1" x2="1368" y2="521.8" stroke="#000" stroke-width="3.1" stroke-linecap="butt" />
<line x1="1366.45" y1="520.4" x2="1842.5" y2="520.4" stroke="#000" stroke-width="2.8" stroke-linecap="butt" />
<line x1="1356.6" y1="100.7" x2="1368" y2="100.7" stroke="#000" stroke-width="2.8" stroke-linecap="butt" />
<text transform="translate(1354.5,113.8) scale(1.02,1.04)" font-size="35" text-anchor="end" fill="#000" >14</text>
<line x1="1356.6" y1="196.2" x2="1368" y2="196.2" stroke="#000" stroke-width="2.8" stroke-linecap="butt" />
<text transform="translate(1354.5,209.3) scale(1.02,1.04)" font-size="35" text-anchor="end" fill="#000" >12</text>
<line x1="1356.6" y1="291.8" x2="1368" y2="291.8" stroke="#000" stroke-width="2.8" stroke-linecap="butt" />
<text transform="translate(1354.5,304.9) scale(1.02,1.04)" font-size="35" text-anchor="end" fill="#000" >10</text>
<line x1="1356.6" y1="387.3" x2="1368" y2="387.3" stroke="#000" stroke-width="2.8" stroke-linecap="butt" />
<text transform="translate(1354.5,400.4) scale(1.02,1.04)" font-size="35" text-anchor="end" fill="#000" >8</text>
<line x1="1356.6" y1="482.8" x2="1368" y2="482.8" stroke="#000" stroke-width="2.8" stroke-linecap="butt" />
<text transform="translate(1354.5,495.9) scale(1.02,1.04)" font-size="35" text-anchor="end" fill="#000" >6</text>
<line x1="1497.04" y1="520.4" x2="1497.04" y2="530.4" stroke="#000" stroke-width="2.8" stroke-linecap="butt" />
<text transform="translate(1497.04,569.2) scale(1.02,1.04)" font-size="35" text-anchor="middle" fill="#000" >Control</text>
<line x1="1712.67" y1="520.4" x2="1712.67" y2="530.4" stroke="#000" stroke-width="2.8" stroke-linecap="butt" />
<text transform="translate(1712.67,569.2) scale(1.02,1.04)" font-size="35" text-anchor="middle" fill="#000" >DN</text>
<text transform="translate(1312.9,467.6) rotate(-90) scale(1,1.07)" font-size="34.99" text-anchor="start" fill="#000" >The expression of FN1</text>
<text transform="translate(1607.4,608.2) scale(1.02,1.04)" font-size="34.6" text-anchor="middle" fill="#2b2b2b" >GSE96804</text>
<path d="M1497.04 90.9 V83.6 H1712.67 V90.9" fill="none" stroke="#000" stroke-width="2.8" stroke-linecap="round" stroke-linejoin="round"/>
<text transform="translate(1604.85,87.1) scale(1.02,0.91)" font-size="35.2" text-anchor="middle" fill="#000" >***</text>
</g>
<g id="A4">
<path d="M2057.79 213.79 L2178.71 213.79 C2180.2 214.38 2182.12 214.82 2183.16 215.57 C2184.2 216.31 2184.55 216.75 2184.94 218.23 C2185.32 219.71 2186.21 222.23 2185.47 224.46 C2184.73 226.68 2183.4 228.9 2180.49 231.57 C2177.59 234.24 2172.05 237.5 2168.04 240.46 C2164.04 243.42 2159.45 246.68 2156.49 249.35 C2153.52 252.02 2151.66 254.09 2150.26 256.46 C2148.87 258.84 2148.37 261.5 2148.13 263.58 C2147.89 265.65 2148.04 267.13 2148.84 268.91 C2149.64 270.69 2151.66 272.71 2152.93 274.25 C2154.2 275.79 2153.67 275.79 2156.49 278.16 C2159.3 280.53 2165.23 284.98 2169.82 288.47 C2174.42 291.97 2179.96 295.88 2184.05 299.14 C2188.14 302.4 2191.55 305.07 2194.36 308.03 C2197.18 311 2199.34 313.96 2200.94 316.93 C2202.54 319.89 2203.7 322.56 2203.97 325.82 C2204.23 329.08 2202.96 332.93 2202.54 336.49 C2202.13 340.04 2201.48 343.6 2201.48 347.16 C2201.48 350.71 2202.19 354.57 2202.54 357.83 C2202.9 361.09 2203.61 363.75 2203.61 366.72 C2203.61 369.68 2203.55 372.64 2202.54 375.61 C2201.54 378.57 2199.76 381.54 2197.56 384.5 C2195.37 387.46 2192.53 390.43 2189.38 393.39 C2186.24 396.35 2182.57 399.32 2178.71 402.28 C2174.86 405.25 2170.42 408.21 2166.27 411.17 C2162.12 414.14 2157.67 417.1 2153.82 420.06 C2149.97 423.03 2146.41 425.99 2143.15 428.96 C2139.89 431.92 2136.93 434.88 2134.26 437.85 C2131.59 440.81 2129.16 443.77 2127.15 446.74 C2125.13 449.7 2123.44 452.67 2122.17 455.63 C2120.89 458.59 2119.85 461.85 2119.5 464.52 C2119.14 467.19 2119.35 469.26 2120.03 471.63 C2120.71 474 2122.34 476.38 2123.59 478.75 C2124.83 481.12 2126.26 483.49 2127.5 485.86 C2128.75 488.23 2130.08 490.6 2131.06 492.97 C2132.04 495.34 2132.89 498.01 2133.37 500.09 C2133.84 502.16 2133.81 504 2133.9 505.42 C2133.99 506.84 2133.9 507.55 2133.9 508.62 L2102.61 508.62 C2102.61 507.55 2102.52 506.84 2102.61 505.42 C2102.69 504 2102.66 502.16 2103.14 500.09 C2103.61 498.01 2104.47 495.34 2105.45 492.97 C2106.43 490.6 2107.76 488.23 2109.01 485.86 C2110.25 483.49 2111.67 481.12 2112.92 478.75 C2114.16 476.38 2115.79 474 2116.48 471.63 C2117.16 469.26 2117.36 467.19 2117.01 464.52 C2116.65 461.85 2115.62 458.59 2114.34 455.63 C2113.07 452.67 2111.38 449.7 2109.36 446.74 C2107.35 443.77 2104.92 440.81 2102.25 437.85 C2099.58 434.88 2096.62 431.92 2093.36 428.96 C2090.1 425.99 2086.54 423.03 2082.69 420.06 C2078.84 417.1 2074.39 414.14 2070.24 411.17 C2066.09 408.21 2061.65 405.25 2057.79 402.28 C2053.94 399.32 2050.27 396.35 2047.12 393.39 C2043.98 390.43 2041.14 387.46 2038.94 384.5 C2036.75 381.54 2034.97 378.57 2033.96 375.61 C2032.96 372.64 2032.9 369.68 2032.9 366.72 C2032.9 363.75 2033.61 361.09 2033.96 357.83 C2034.32 354.57 2035.03 350.71 2035.03 347.16 C2035.03 343.6 2034.38 340.04 2033.96 336.49 C2033.55 332.93 2032.28 329.08 2032.54 325.82 C2032.81 322.56 2033.96 319.89 2035.57 316.93 C2037.17 313.96 2039.33 311 2042.14 308.03 C2044.96 305.07 2048.37 302.4 2052.46 299.14 C2056.55 295.88 2062.09 291.97 2066.68 288.47 C2071.28 284.98 2077.21 280.53 2080.02 278.16 C2082.84 275.79 2082.3 275.79 2083.58 274.25 C2084.85 272.71 2086.87 270.69 2087.67 268.91 C2088.47 267.13 2088.62 265.65 2088.38 263.58 C2088.14 261.5 2087.64 258.84 2086.25 256.46 C2084.85 254.09 2082.99 252.02 2080.02 249.35 C2077.06 246.68 2072.46 243.42 2068.46 240.46 C2064.46 237.5 2058.92 234.24 2056.01 231.57 C2053.11 228.9 2051.78 226.68 2051.04 224.46 C2050.29 222.23 2051.18 219.71 2051.57 218.23 C2051.95 216.75 2052.31 216.31 2053.35 215.57 C2054.38 214.82 2056.31 214.38 2057.79 213.79 Z" fill="#F2EBE0" fill-opacity="0.5" stroke="none"/>
<path d="M2057.79 213.79 L2178.71 213.79 C2180.2 214.38 2182.12 214.82 2183.16 215.57 C2184.2 216.31 2184.55 216.75 2184.94 218.23 C2185.32 219.71 2186.21 222.23 2185.47 224.46 C2184.73 226.68 2183.4 228.9 2180.49 231.57 C2177.59 234.24 2172.05 237.5 2168.04 240.46 C2164.04 243.42 2159.45 246.68 2156.49 249.35 C2153.52 252.02 2151.66 254.09 2150.26 256.46 C2148.87 258.84 2148.37 261.5 2148.13 263.58 C2147.89 265.65 2148.04 267.13 2148.84 268.91 C2149.64 270.69 2151.66 272.71 2152.93 274.25 C2154.2 275.79 2153.67 275.79 2156.49 278.16 C2159.3 280.53 2165.23 284.98 2169.82 288.47 C2174.42 291.97 2179.96 295.88 2184.05 299.14 C2188.14 302.4 2191.55 305.07 2194.36 308.03 C2197.18 311 2199.34 313.96 2200.94 316.93 C2202.54 319.89 2203.7 322.56 2203.97 325.82 C2204.23 329.08 2202.96 332.93 2202.54 336.49 C2202.13 340.04 2201.48 343.6 2201.48 347.16 C2201.48 350.71 2202.19 354.57 2202.54 357.83 C2202.9 361.09 2203.61 363.75 2203.61 366.72 C2203.61 369.68 2203.55 372.64 2202.54 375.61 C2201.54 378.57 2199.76 381.54 2197.56 384.5 C2195.37 387.46 2192.53 390.43 2189.38 393.39 C2186.24 396.35 2182.57 399.32 2178.71 402.28 C2174.86 405.25 2170.42 408.21 2166.27 411.17 C2162.12 414.14 2157.67 417.1 2153.82 420.06 C2149.97 423.03 2146.41 425.99 2143.15 428.96 C2139.89 431.92 2136.93 434.88 2134.26 437.85 C2131.59 440.81 2129.16 443.77 2127.15 446.74 C2125.13 449.7 2123.44 452.67 2122.17 455.63 C2120.89 458.59 2119.85 461.85 2119.5 464.52 C2119.14 467.19 2119.35 469.26 2120.03 471.63 C2120.71 474 2122.34 476.38 2123.59 478.75 C2124.83 481.12 2126.26 483.49 2127.5 485.86 C2128.75 488.23 2130.08 490.6 2131.06 492.97 C2132.04 495.34 2132.89 498.01 2133.37 500.09 C2133.84 502.16 2133.81 504 2133.9 505.42 C2133.99 506.84 2133.9 507.55 2133.9 508.62 L2102.61 508.62 C2102.61 507.55 2102.52 506.84 2102.61 505.42 C2102.69 504 2102.66 502.16 2103.14 500.09 C2103.61 498.01 2104.47 495.34 2105.45 492.97 C2106.43 490.6 2107.76 488.23 2109.01 485.86 C2110.25 483.49 2111.67 481.12 2112.92 478.75 C2114.16 476.38 2115.79 474 2116.48 471.63 C2117.16 469.26 2117.36 467.19 2117.01 464.52 C2116.65 461.85 2115.62 458.59 2114.34 455.63 C2113.07 452.67 2111.38 449.7 2109.36 446.74 C2107.35 443.77 2104.92 440.81 2102.25 437.85 C2099.58 434.88 2096.62 431.92 2093.36 428.96 C2090.1 425.99 2086.54 423.03 2082.69 420.06 C2078.84 417.1 2074.39 414.14 2070.24 411.17 C2066.09 408.21 2061.65 405.25 2057.79 402.28 C2053.94 399.32 2050.27 396.35 2047.12 393.39 C2043.98 390.43 2041.14 387.46 2038.94 384.5 C2036.75 381.54 2034.97 378.57 2033.96 375.61 C2032.96 372.64 2032.9 369.68 2032.9 366.72 C2032.9 363.75 2033.61 361.09 2033.96 357.83 C2034.32 354.57 2035.03 350.71 2035.03 347.16 C2035.03 343.6 2034.38 340.04 2033.96 336.49 C2033.55 332.93 2032.28 329.08 2032.54 325.82 C2032.81 322.56 2033.96 319.89 2035.57 316.93 C2037.17 313.96 2039.33 311 2042.14 308.03 C2044.96 305.07 2048.37 302.4 2052.46 299.14 C2056.55 295.88 2062.09 291.97 2066.68 288.47 C2071.28 284.98 2077.21 280.53 2080.02 278.16 C2082.84 275.79 2082.3 275.79 2083.58 274.25 C2084.85 272.71 2086.87 270.69 2087.67 268.91 C2088.47 267.13 2088.62 265.65 2088.38 263.58 C2088.14 261.5 2087.64 258.84 2086.25 256.46 C2084.85 254.09 2082.99 252.02 2080.02 249.35 C2077.06 246.68 2072.46 243.42 2068.46 240.46 C2064.46 237.5 2058.92 234.24 2056.01 231.57 C2053.11 228.9 2051.78 226.68 2051.04 224.46 C2050.29 222.23 2051.18 219.71 2051.57 218.23 C2051.95 216.75 2052.31 216.31 2053.35 215.57 C2054.38 214.82 2056.31 214.38 2057.79 213.79 Z" fill="none" stroke="#000" stroke-width="2.8" stroke-linejoin="round"/>
<line x1="2118.25" y1="213.79" x2="2118.25" y2="278.16" stroke="#000" stroke-width="2.9" stroke-linecap="butt" />
<line x1="2118.25" y1="375.07" x2="2118.25" y2="508.62" stroke="#000" stroke-width="2.9" stroke-linecap="butt" />
<rect x="2053.35" y="278.16" width="129.81" height="96.91" fill="#F2EBE0" stroke="#000" stroke-width="3.3"/>
<line x1="2053.35" y1="329.02" x2="2183.16" y2="329.02" stroke="#000" stroke-width="5.3" stroke-linecap="butt" />
<g fill="#F2EBE0">
<ellipse cx="2106.16" cy="213.79" rx="3.25" ry="2.85"/>
<ellipse cx="2087.49" cy="219.12" rx="3.25" ry="2.85"/>
<ellipse cx="2096.2" cy="221.43" rx="3.25" ry="2.85"/>
<ellipse cx="2104.21" cy="221.97" rx="3.25" ry="2.85"/>
<ellipse cx="2095.31" cy="244.55" rx="3.25" ry="2.85"/>
<ellipse cx="2130.7" cy="328.84" rx="3.25" ry="2.85"/>
<ellipse cx="2139.77" cy="329.37" rx="3.25" ry="2.85"/>
<ellipse cx="2086.6" cy="375.61" rx="3.25" ry="2.85"/>
<ellipse cx="2108.12" cy="375.07" rx="3.25" ry="2.85"/>
<ellipse cx="2127.32" cy="388.06" rx="3.25" ry="2.85"/>
<ellipse cx="2131.23" cy="396.95" rx="3.25" ry="2.85"/>
<ellipse cx="2099.23" cy="412.06" rx="3.25" ry="2.85"/>
<ellipse cx="2093.54" cy="508.27" rx="3.25" ry="2.85"/>
</g>
<path d="M2266.16 96.57 L2400.1 96.57 C2403.86 98.72 2408.27 100.6 2411.38 103.01 C2414.49 105.43 2417.29 108.39 2418.75 111.07 C2420.2 113.76 2420.59 116.25 2420.13 119.13 C2419.67 122 2418.21 124.88 2415.98 128.33 C2413.76 131.78 2409.65 135.62 2406.78 139.84 C2403.9 144.06 2400.64 146.36 2398.72 153.65 C2396.8 160.94 2395.16 170.53 2395.27 183.57 C2395.39 196.61 2398.57 220.39 2399.41 231.9 C2400.26 243.41 2400.26 245.32 2400.33 252.61 C2400.41 259.9 2399.57 269.87 2399.87 275.63 C2400.18 281.38 2401.02 283.3 2402.17 287.13 C2403.33 290.97 2405.51 294.81 2406.78 298.64 C2408.04 302.48 2409.12 306.7 2409.77 310.15 C2410.42 313.6 2411 316.29 2410.69 319.36 C2410.38 322.42 2409.92 325.11 2407.93 328.56 C2405.93 332.01 2402.37 336.23 2398.72 340.07 C2395.08 343.9 2390.28 347.74 2386.06 351.58 C2381.85 355.41 2377.05 359.25 2373.41 363.08 C2369.76 366.92 2366.69 370.76 2364.2 374.59 C2361.71 378.43 2359.98 382.26 2358.45 386.1 C2356.91 389.93 2356.14 393.77 2354.99 397.61 C2353.84 401.44 2352.58 405.28 2351.54 409.11 C2350.51 412.95 2349.43 417.86 2348.78 420.62 C2348.13 423.38 2348.01 424 2347.63 425.68 L2318.63 425.68 C2318.25 424 2318.13 423.38 2317.48 420.62 C2316.83 417.86 2315.75 412.95 2314.72 409.11 C2313.68 405.28 2312.42 401.44 2311.27 397.61 C2310.12 393.77 2309.35 389.93 2307.81 386.1 C2306.28 382.26 2304.55 378.43 2302.06 374.59 C2299.57 370.76 2296.5 366.92 2292.85 363.08 C2289.21 359.25 2284.42 355.41 2280.2 351.58 C2275.98 347.74 2271.18 343.9 2267.54 340.07 C2263.89 336.23 2260.33 332.01 2258.33 328.56 C2256.34 325.11 2255.88 322.42 2255.57 319.36 C2255.26 316.29 2255.84 313.6 2256.49 310.15 C2257.14 306.7 2258.22 302.48 2259.48 298.64 C2260.75 294.81 2262.93 290.97 2264.09 287.13 C2265.24 283.3 2266.08 281.38 2266.39 275.63 C2266.69 269.87 2265.85 259.9 2265.93 252.61 C2266 245.32 2266 243.41 2266.85 231.9 C2267.69 220.39 2270.87 196.61 2270.99 183.57 C2271.1 170.53 2269.46 160.94 2267.54 153.65 C2265.62 146.36 2262.36 144.06 2259.48 139.84 C2256.61 135.62 2252.5 131.78 2250.28 128.33 C2248.05 124.88 2246.59 122 2246.13 119.13 C2245.67 116.25 2246.06 113.76 2247.51 111.07 C2248.97 108.39 2251.77 105.43 2254.88 103.01 C2257.99 100.6 2262.4 98.72 2266.16 96.57 Z" fill="#AC9FD0" fill-opacity="0.5" stroke="none"/>
<path d="M2266.16 96.57 L2400.1 96.57 C2403.86 98.72 2408.27 100.6 2411.38 103.01 C2414.49 105.43 2417.29 108.39 2418.75 111.07 C2420.2 113.76 2420.59 116.25 2420.13 119.13 C2419.67 122 2418.21 124.88 2415.98 128.33 C2413.76 131.78 2409.65 135.62 2406.78 139.84 C2403.9 144.06 2400.64 146.36 2398.72 153.65 C2396.8 160.94 2395.16 170.53 2395.27 183.57 C2395.39 196.61 2398.57 220.39 2399.41 231.9 C2400.26 243.41 2400.26 245.32 2400.33 252.61 C2400.41 259.9 2399.57 269.87 2399.87 275.63 C2400.18 281.38 2401.02 283.3 2402.17 287.13 C2403.33 290.97 2405.51 294.81 2406.78 298.64 C2408.04 302.48 2409.12 306.7 2409.77 310.15 C2410.42 313.6 2411 316.29 2410.69 319.36 C2410.38 322.42 2409.92 325.11 2407.93 328.56 C2405.93 332.01 2402.37 336.23 2398.72 340.07 C2395.08 343.9 2390.28 347.74 2386.06 351.58 C2381.85 355.41 2377.05 359.25 2373.41 363.08 C2369.76 366.92 2366.69 370.76 2364.2 374.59 C2361.71 378.43 2359.98 382.26 2358.45 386.1 C2356.91 389.93 2356.14 393.77 2354.99 397.61 C2353.84 401.44 2352.58 405.28 2351.54 409.11 C2350.51 412.95 2349.43 417.86 2348.78 420.62 C2348.13 423.38 2348.01 424 2347.63 425.68 L2318.63 425.68 C2318.25 424 2318.13 423.38 2317.48 420.62 C2316.83 417.86 2315.75 412.95 2314.72 409.11 C2313.68 405.28 2312.42 401.44 2311.27 397.61 C2310.12 393.77 2309.35 389.93 2307.81 386.1 C2306.28 382.26 2304.55 378.43 2302.06 374.59 C2299.57 370.76 2296.5 366.92 2292.85 363.08 C2289.21 359.25 2284.42 355.41 2280.2 351.58 C2275.98 347.74 2271.18 343.9 2267.54 340.07 C2263.89 336.23 2260.33 332.01 2258.33 328.56 C2256.34 325.11 2255.88 322.42 2255.57 319.36 C2255.26 316.29 2255.84 313.6 2256.49 310.15 C2257.14 306.7 2258.22 302.48 2259.48 298.64 C2260.75 294.81 2262.93 290.97 2264.09 287.13 C2265.24 283.3 2266.08 281.38 2266.39 275.63 C2266.69 269.87 2265.85 259.9 2265.93 252.61 C2266 245.32 2266 243.41 2266.85 231.9 C2267.69 220.39 2270.87 196.61 2270.99 183.57 C2271.1 170.53 2269.46 160.94 2267.54 153.65 C2265.62 146.36 2262.36 144.06 2259.48 139.84 C2256.61 135.62 2252.5 131.78 2250.28 128.33 C2248.05 124.88 2246.59 122 2246.13 119.13 C2245.67 116.25 2246.06 113.76 2247.51 111.07 C2248.97 108.39 2251.77 105.43 2254.88 103.01 C2257.99 100.6 2262.4 98.72 2266.16 96.57 Z" fill="none" stroke="#000" stroke-width="2.8" stroke-linejoin="round"/>
<line x1="2333.13" y1="96.57" x2="2333.13" y2="136.39" stroke="#000" stroke-width="2.9" stroke-linecap="butt" />
<line x1="2333.13" y1="317.05" x2="2333.13" y2="425.68" stroke="#000" stroke-width="2.9" stroke-linecap="butt" />
<rect x="2267.77" y="136.39" width="130.72" height="180.67" fill="#AC9FD0" stroke="#000" stroke-width="3.3"/>
<line x1="2267.77" y1="229.83" x2="2398.49" y2="229.83" stroke="#000" stroke-width="5.3" stroke-linecap="butt" />
<g fill="#AC9FD0">
<ellipse cx="2307.81" cy="100.48" rx="3.25" ry="2.85"/>
<ellipse cx="2343.26" cy="96.57" rx="3.25" ry="2.85"/>
<ellipse cx="2352.46" cy="98.41" rx="3.25" ry="2.85"/>
<ellipse cx="2348.09" cy="104.86" rx="3.25" ry="2.85"/>
<ellipse cx="2351.31" cy="110.84" rx="3.25" ry="2.85"/>
<ellipse cx="2362.59" cy="114.75" rx="3.25" ry="2.85"/>
<ellipse cx="2320.93" cy="117.51" rx="3.25" ry="2.85"/>
<ellipse cx="2318.63" cy="122.12" rx="3.25" ry="2.85"/>
<ellipse cx="2327.15" cy="126.72" rx="3.25" ry="2.85"/>
<ellipse cx="2357.3" cy="131.78" rx="3.25" ry="2.85"/>
<ellipse cx="2364.89" cy="135.93" rx="3.25" ry="2.85"/>
<ellipse cx="2322.77" cy="229.83" rx="3.25" ry="2.85"/>
<ellipse cx="2335.43" cy="317.74" rx="3.25" ry="2.85"/>
<ellipse cx="2311.27" cy="321.89" rx="3.25" ry="2.85"/>
<ellipse cx="2323" cy="321.66" rx="3.25" ry="2.85"/>
<ellipse cx="2349.47" cy="320.28" rx="3.25" ry="2.85"/>
<ellipse cx="2315.64" cy="330.4" rx="3.25" ry="2.85"/>
<ellipse cx="2339.34" cy="336.39" rx="3.25" ry="2.85"/>
<ellipse cx="2326.69" cy="342.83" rx="3.25" ry="2.85"/>
<ellipse cx="2363.05" cy="351.35" rx="3.25" ry="2.85"/>
<ellipse cx="2312.42" cy="377.35" rx="3.25" ry="2.85"/>
<ellipse cx="2356.38" cy="397.84" rx="3.25" ry="2.85"/>
<ellipse cx="2309.19" cy="425.68" rx="3.25" ry="2.85"/>
</g>
<line x1="1988.9" y1="54.1" x2="1988.9" y2="521.8" stroke="#000" stroke-width="3.1" stroke-linecap="butt" />
<line x1="1987.35" y1="520.4" x2="2463.4" y2="520.4" stroke="#000" stroke-width="2.8" stroke-linecap="butt" />
<line x1="1977.5" y1="88.3" x2="1988.9" y2="88.3" stroke="#000" stroke-width="2.8" stroke-linecap="butt" />
<text transform="translate(1974,101.4) scale(1.02,1.04)" font-size="35" text-anchor="end" fill="#000" >16</text>
<line x1="1977.5" y1="215.2" x2="1988.9" y2="215.2" stroke="#000" stroke-width="2.8" stroke-linecap="butt" />
<text transform="translate(1974,228.3) scale(1.02,1.04)" font-size="35" text-anchor="end" fill="#000" >14</text>
<line x1="1977.5" y1="342.1" x2="1988.9" y2="342.1" stroke="#000" stroke-width="2.8" stroke-linecap="butt" />
<text transform="translate(1974,355.2) scale(1.02,1.04)" font-size="35" text-anchor="end" fill="#000" >12</text>
<line x1="1977.5" y1="469" x2="1988.9" y2="469" stroke="#000" stroke-width="2.8" stroke-linecap="butt" />
<text transform="translate(1974,482.1) scale(1.02,1.04)" font-size="35" text-anchor="end" fill="#000" >10</text>
<line x1="2118.25" y1="520.4" x2="2118.25" y2="530.4" stroke="#000" stroke-width="2.8" stroke-linecap="butt" />
<text transform="translate(2118.25,569.2) scale(1.02,1.04)" font-size="35" text-anchor="middle" fill="#000" >Control</text>
<line x1="2333.13" y1="520.4" x2="2333.13" y2="530.4" stroke="#000" stroke-width="2.8" stroke-linecap="butt" />
<text transform="translate(2333.13,569.2) scale(1.02,1.04)" font-size="35" text-anchor="middle" fill="#000" >DN</text>
<text transform="translate(1931,480.2) rotate(-90) scale(1,1.07)" font-size="35.44" text-anchor="start" fill="#000" >The expression of CCL2</text>
<text transform="translate(2228.3,608.2) scale(1.02,1.04)" font-size="34.6" text-anchor="middle" fill="#2b2b2b" >GSE96804</text>
<path d="M2118.25 90.9 V83.6 H2333.13 V90.9" fill="none" stroke="#000" stroke-width="2.8" stroke-linecap="round" stroke-linejoin="round"/>
<text transform="translate(2225.69,87.1) scale(1.02,0.91)" font-size="35.2" text-anchor="middle" fill="#000" >***</text>
</g>
<g id="B1">
<path d="M246.31 936.11 L273.46 936.11 C273.73 938.41 274.32 940.71 274.27 943.01 C274.21 945.31 273.25 947.61 273.12 949.92 C272.98 952.22 272.5 954.71 273.46 956.82 C274.42 958.93 275.95 960.66 278.87 962.57 C281.78 964.49 286.06 966.41 290.95 968.33 C295.84 970.24 302.65 972.16 308.21 974.08 C313.77 976 319.33 977.91 324.32 979.83 C329.3 981.75 334.58 983.67 338.13 985.59 C341.67 987.5 344.07 989.52 345.6 991.34 C347.14 993.16 347.62 994.79 347.33 996.52 C347.04 998.24 345.41 999.87 343.88 1001.69 C342.34 1003.52 339.56 1005.53 338.13 1007.45 C336.69 1009.36 335.54 1011.47 335.25 1013.2 C334.96 1014.93 335.92 1016.27 336.4 1017.8 C336.88 1019.34 337.93 1020.87 338.13 1022.4 C338.32 1023.94 338.32 1025.28 337.55 1027.01 C336.78 1028.73 334.87 1030.84 333.52 1032.76 C332.18 1034.68 330.36 1036.6 329.5 1038.51 C328.63 1040.43 328.25 1042.35 328.35 1044.27 C328.44 1046.18 329.59 1048.1 330.07 1050.02 C330.55 1051.94 331.32 1053.85 331.22 1055.77 C331.13 1057.69 330.45 1059.61 329.5 1061.53 C328.54 1063.44 327 1065.36 325.47 1067.28 C323.93 1069.2 321.63 1071.11 320.29 1073.03 C318.95 1074.95 318.09 1076.87 317.41 1078.78 C316.74 1080.7 316.84 1082.62 316.26 1084.54 C315.69 1086.46 315.31 1088.37 313.96 1090.29 C312.62 1092.21 310.51 1093.74 308.21 1096.04 C305.91 1098.35 303.42 1100.84 300.16 1104.1 C296.9 1107.36 291.72 1112.54 288.65 1115.6 C285.58 1118.67 283.76 1120.72 281.75 1122.51 C279.73 1124.29 278.29 1125.04 276.57 1126.31 L243.2 1126.31 C241.47 1125.04 240.04 1124.29 238.02 1122.51 C236.01 1120.72 234.19 1118.67 231.12 1115.6 C228.05 1112.54 222.87 1107.36 219.61 1104.1 C216.35 1100.84 213.86 1098.35 211.56 1096.04 C209.26 1093.74 207.15 1092.21 205.8 1090.29 C204.46 1088.37 204.08 1086.46 203.5 1084.54 C202.93 1082.62 203.02 1080.7 202.35 1078.78 C201.68 1076.87 200.82 1074.95 199.48 1073.03 C198.13 1071.11 195.83 1069.2 194.3 1067.28 C192.76 1065.36 191.23 1063.44 190.27 1061.53 C189.31 1059.61 188.64 1057.69 188.55 1055.77 C188.45 1053.85 189.22 1051.94 189.7 1050.02 C190.18 1048.1 191.33 1046.18 191.42 1044.27 C191.52 1042.35 191.13 1040.43 190.27 1038.51 C189.41 1036.6 187.59 1034.68 186.24 1032.76 C184.9 1030.84 182.98 1028.73 182.22 1027.01 C181.45 1025.28 181.45 1023.94 181.64 1022.4 C181.83 1020.87 182.89 1019.34 183.37 1017.8 C183.85 1016.27 184.81 1014.93 184.52 1013.2 C184.23 1011.47 183.08 1009.36 181.64 1007.45 C180.2 1005.53 177.42 1003.52 175.89 1001.69 C174.35 999.87 172.72 998.24 172.44 996.52 C172.15 994.79 172.63 993.16 174.16 991.34 C175.7 989.52 178.09 987.5 181.64 985.59 C185.19 983.67 190.46 981.75 195.45 979.83 C200.44 977.91 206 976 211.56 974.08 C217.12 972.16 223.93 970.24 228.82 968.33 C233.71 966.41 237.98 964.49 240.9 962.57 C243.81 960.66 245.35 958.93 246.31 956.82 C247.27 954.71 246.79 952.22 246.65 949.92 C246.52 947.61 245.56 945.31 245.5 943.01 C245.44 940.71 246.04 938.41 246.31 936.11 Z" fill="#046587" fill-opacity="0.5" stroke="none"/>
<path d="M246.31 936.11 L273.46 936.11 C273.73 938.41 274.32 940.71 274.27 943.01 C274.21 945.31 273.25 947.61 273.12 949.92 C272.98 952.22 272.5 954.71 273.46 956.82 C274.42 958.93 275.95 960.66 278.87 962.57 C281.78 964.49 286.06 966.41 290.95 968.33 C295.84 970.24 302.65 972.16 308.21 974.08 C313.77 976 319.33 977.91 324.32 979.83 C329.3 981.75 334.58 983.67 338.13 985.59 C341.67 987.5 344.07 989.52 345.6 991.34 C347.14 993.16 347.62 994.79 347.33 996.52 C347.04 998.24 345.41 999.87 343.88 1001.69 C342.34 1003.52 339.56 1005.53 338.13 1007.45 C336.69 1009.36 335.54 1011.47 335.25 1013.2 C334.96 1014.93 335.92 1016.27 336.4 1017.8 C336.88 1019.34 337.93 1020.87 338.13 1022.4 C338.32 1023.94 338.32 1025.28 337.55 1027.01 C336.78 1028.73 334.87 1030.84 333.52 1032.76 C332.18 1034.68 330.36 1036.6 329.5 1038.51 C328.63 1040.43 328.25 1042.35 328.35 1044.27 C328.44 1046.18 329.59 1048.1 330.07 1050.02 C330.55 1051.94 331.32 1053.85 331.22 1055.77 C331.13 1057.69 330.45 1059.61 329.5 1061.53 C328.54 1063.44 327 1065.36 325.47 1067.28 C323.93 1069.2 321.63 1071.11 320.29 1073.03 C318.95 1074.95 318.09 1076.87 317.41 1078.78 C316.74 1080.7 316.84 1082.62 316.26 1084.54 C315.69 1086.46 315.31 1088.37 313.96 1090.29 C312.62 1092.21 310.51 1093.74 308.21 1096.04 C305.91 1098.35 303.42 1100.84 300.16 1104.1 C296.9 1107.36 291.72 1112.54 288.65 1115.6 C285.58 1118.67 283.76 1120.72 281.75 1122.51 C279.73 1124.29 278.29 1125.04 276.57 1126.31 L243.2 1126.31 C241.47 1125.04 240.04 1124.29 238.02 1122.51 C236.01 1120.72 234.19 1118.67 231.12 1115.6 C228.05 1112.54 222.87 1107.36 219.61 1104.1 C216.35 1100.84 213.86 1098.35 211.56 1096.04 C209.26 1093.74 207.15 1092.21 205.8 1090.29 C204.46 1088.37 204.08 1086.46 203.5 1084.54 C202.93 1082.62 203.02 1080.7 202.35 1078.78 C201.68 1076.87 200.82 1074.95 199.48 1073.03 C198.13 1071.11 195.83 1069.2 194.3 1067.28 C192.76 1065.36 191.23 1063.44 190.27 1061.53 C189.31 1059.61 188.64 1057.69 188.55 1055.77 C188.45 1053.85 189.22 1051.94 189.7 1050.02 C190.18 1048.1 191.33 1046.18 191.42 1044.27 C191.52 1042.35 191.13 1040.43 190.27 1038.51 C189.41 1036.6 187.59 1034.68 186.24 1032.76 C184.9 1030.84 182.98 1028.73 182.22 1027.01 C181.45 1025.28 181.45 1023.94 181.64 1022.4 C181.83 1020.87 182.89 1019.34 183.37 1017.8 C183.85 1016.27 184.81 1014.93 184.52 1013.2 C184.23 1011.47 183.08 1009.36 181.64 1007.45 C180.2 1005.53 177.42 1003.52 175.89 1001.69 C174.35 999.87 172.72 998.24 172.44 996.52 C172.15 994.79 172.63 993.16 174.16 991.34 C175.7 989.52 178.09 987.5 181.64 985.59 C185.19 983.67 190.46 981.75 195.45 979.83 C200.44 977.91 206 976 211.56 974.08 C217.12 972.16 223.93 970.24 228.82 968.33 C233.71 966.41 237.98 964.49 240.9 962.57 C243.81 960.66 245.35 958.93 246.31 956.82 C247.27 954.71 246.79 952.22 246.65 949.92 C246.52 947.61 245.56 945.31 245.5 943.01 C245.44 940.71 246.04 938.41 246.31 936.11 Z" fill="none" stroke="#000" stroke-width="2.8" stroke-linejoin="round"/>
<line x1="259.88" y1="936.11" x2="259.88" y2="1000.2" stroke="#000" stroke-width="2.9" stroke-linecap="butt" />
<line x1="259.88" y1="1068.43" x2="259.88" y2="1126.31" stroke="#000" stroke-width="2.9" stroke-linecap="butt" />
<rect x="194.64" y="1000.2" width="130.48" height="68.23" fill="#046587" stroke="#000" stroke-width="3.3"/>
<line x1="194.64" y1="1031.72" x2="325.12" y2="1031.72" stroke="#000" stroke-width="5.3" stroke-linecap="butt" />
<g fill="#046587">
<ellipse cx="228.47" cy="936.45" rx="3.25" ry="2.85"/>
<ellipse cx="271.04" cy="945.54" rx="3.25" ry="2.85"/>
<ellipse cx="261.38" cy="967.41" rx="3.25" ry="2.85"/>
<ellipse cx="287.27" cy="978.11" rx="3.25" ry="2.85"/>
<ellipse cx="246.42" cy="983.28" rx="3.25" ry="2.85"/>
<ellipse cx="254.48" cy="985.82" rx="3.25" ry="2.85"/>
<ellipse cx="249.87" cy="989.04" rx="3.25" ry="2.85"/>
<ellipse cx="246.65" cy="991.91" rx="3.25" ry="2.85"/>
<ellipse cx="263.68" cy="989.38" rx="3.25" ry="2.85"/>
<ellipse cx="262.19" cy="993.98" rx="3.25" ry="2.85"/>
<ellipse cx="274.61" cy="994.44" rx="3.25" ry="2.85"/>
<ellipse cx="280.02" cy="996.52" rx="3.25" ry="2.85"/>
<ellipse cx="280.02" cy="1000.54" rx="3.25" ry="2.85"/>
<ellipse cx="244.35" cy="1000.54" rx="3.25" ry="2.85"/>
<ellipse cx="258.16" cy="1028.73" rx="3.25" ry="2.85"/>
<ellipse cx="276.57" cy="1029.31" rx="3.25" ry="2.85"/>
<ellipse cx="260.46" cy="1034.49" rx="3.25" ry="2.85"/>
<ellipse cx="272.89" cy="1034.49" rx="3.25" ry="2.85"/>
<ellipse cx="235.15" cy="1068.43" rx="3.25" ry="2.85"/>
<ellipse cx="238.83" cy="1068.66" rx="3.25" ry="2.85"/>
<ellipse cx="287.73" cy="1069.58" rx="3.25" ry="2.85"/>
<ellipse cx="229.16" cy="1080.28" rx="3.25" ry="2.85"/>
<ellipse cx="269.89" cy="1079.36" rx="3.25" ry="2.85"/>
<ellipse cx="235.72" cy="1088.57" rx="3.25" ry="2.85"/>
<ellipse cx="242.05" cy="1090.29" rx="3.25" ry="2.85"/>
<ellipse cx="274.84" cy="1092.59" rx="3.25" ry="2.85"/>
<ellipse cx="278.29" cy="1091.79" rx="3.25" ry="2.85"/>
<ellipse cx="292.45" cy="1094.32" rx="3.25" ry="2.85"/>
<ellipse cx="279.79" cy="1107.55" rx="3.25" ry="2.85"/>
<ellipse cx="239.75" cy="1111" rx="3.25" ry="2.85"/>
<ellipse cx="230.31" cy="1114.22" rx="3.25" ry="2.85"/>
<ellipse cx="243.89" cy="1126.31" rx="3.25" ry="2.85"/>
</g>
<path d="M452.09 714.69 L500.67 714.69 C502.49 717.95 504.53 720.96 506.13 724.48 C507.73 727.99 509.36 732.17 510.27 735.77 C511.18 739.38 511.66 742.68 511.59 746.13 C511.53 749.58 511 752.88 509.9 756.49 C508.8 760.1 506.57 764.02 505 767.78 C503.43 771.55 501.55 775.32 500.48 779.08 C499.42 782.85 498.6 786.93 498.6 790.38 C498.6 793.83 499.01 796.34 500.48 799.79 C501.96 803.24 504.72 807.32 507.45 811.09 C510.18 814.86 514.2 818.62 516.86 822.39 C519.53 826.15 521.67 830.08 523.46 833.68 C525.24 837.29 525.56 839.65 527.6 844.04 C529.64 848.43 533.25 855.18 535.69 860.05 C538.14 864.91 539.62 868.52 542.28 873.23 C544.95 877.93 548.87 883.27 551.7 888.29 C554.52 893.31 557.41 898.96 559.23 903.35 C561.05 907.74 561.83 911.35 562.62 914.65 C563.4 917.94 564.13 919.98 563.94 923.12 C563.75 926.26 563.22 929.87 561.49 933.48 C559.76 937.09 556.63 941.01 553.58 944.77 C550.54 948.54 546.52 952.31 543.23 956.07 C539.93 959.84 536.48 963.6 533.81 967.37 C531.14 971.14 528.95 974.9 527.22 978.67 C525.49 982.43 524.3 986.2 523.46 989.96 C522.61 993.73 522.29 997.5 522.14 1001.26 C521.98 1005.03 522.36 1008.79 522.51 1012.56 C522.67 1016.32 523.3 1020.09 523.08 1023.86 C522.86 1027.62 522.23 1031.7 521.2 1035.15 C520.16 1038.61 517.93 1042.43 516.86 1044.57 C515.8 1046.7 515.48 1046.83 514.79 1047.96 L437.97 1047.96 C437.28 1046.83 436.97 1046.7 435.9 1044.57 C434.83 1042.43 432.61 1038.61 431.57 1035.15 C430.53 1031.7 429.91 1027.62 429.69 1023.86 C429.47 1020.09 430.1 1016.32 430.25 1012.56 C430.41 1008.79 430.79 1005.03 430.63 1001.26 C430.47 997.5 430.16 993.73 429.31 989.96 C428.46 986.2 427.27 982.43 425.55 978.67 C423.82 974.9 421.62 971.14 418.95 967.37 C416.29 963.6 412.84 959.84 409.54 956.07 C406.25 952.31 402.23 948.54 399.18 944.77 C396.14 941.01 393 937.09 391.28 933.48 C389.55 929.87 389.02 926.26 388.83 923.12 C388.64 919.98 389.36 917.94 390.15 914.65 C390.93 911.35 391.72 907.74 393.54 903.35 C395.36 898.96 398.24 893.31 401.07 888.29 C403.89 883.27 407.81 877.93 410.48 873.23 C413.15 868.52 414.62 864.91 417.07 860.05 C419.52 855.18 423.13 848.43 425.17 844.04 C427.21 839.65 427.52 837.29 429.31 833.68 C431.1 830.08 433.23 826.15 435.9 822.39 C438.57 818.62 442.59 814.86 445.32 811.09 C448.05 807.32 450.81 803.24 452.28 799.79 C453.76 796.34 454.16 793.83 454.16 790.38 C454.16 786.93 453.35 782.85 452.28 779.08 C451.22 775.32 449.33 771.55 447.76 767.78 C446.19 764.02 443.97 760.1 442.87 756.49 C441.77 752.88 441.24 749.58 441.17 746.13 C441.11 742.68 441.58 739.38 442.49 735.77 C443.4 732.17 445.03 727.99 446.63 724.48 C448.23 720.96 450.27 717.95 452.09 714.69 Z" fill="#F5A11A" fill-opacity="0.5" stroke="none"/>
<path d="M452.09 714.69 L500.67 714.69 C502.49 717.95 504.53 720.96 506.13 724.48 C507.73 727.99 509.36 732.17 510.27 735.77 C511.18 739.38 511.66 742.68 511.59 746.13 C511.53 749.58 511 752.88 509.9 756.49 C508.8 760.1 506.57 764.02 505 767.78 C503.43 771.55 501.55 775.32 500.48 779.08 C499.42 782.85 498.6 786.93 498.6 790.38 C498.6 793.83 499.01 796.34 500.48 799.79 C501.96 803.24 504.72 807.32 507.45 811.09 C510.18 814.86 514.2 818.62 516.86 822.39 C519.53 826.15 521.67 830.08 523.46 833.68 C525.24 837.29 525.56 839.65 527.6 844.04 C529.64 848.43 533.25 855.18 535.69 860.05 C538.14 864.91 539.62 868.52 542.28 873.23 C544.95 877.93 548.87 883.27 551.7 888.29 C554.52 893.31 557.41 898.96 559.23 903.35 C561.05 907.74 561.83 911.35 562.62 914.65 C563.4 917.94 564.13 919.98 563.94 923.12 C563.75 926.26 563.22 929.87 561.49 933.48 C559.76 937.09 556.63 941.01 553.58 944.77 C550.54 948.54 546.52 952.31 543.23 956.07 C539.93 959.84 536.48 963.6 533.81 967.37 C531.14 971.14 528.95 974.9 527.22 978.67 C525.49 982.43 524.3 986.2 523.46 989.96 C522.61 993.73 522.29 997.5 522.14 1001.26 C521.98 1005.03 522.36 1008.79 522.51 1012.56 C522.67 1016.32 523.3 1020.09 523.08 1023.86 C522.86 1027.62 522.23 1031.7 521.2 1035.15 C520.16 1038.61 517.93 1042.43 516.86 1044.57 C515.8 1046.7 515.48 1046.83 514.79 1047.96 L437.97 1047.96 C437.28 1046.83 436.97 1046.7 435.9 1044.57 C434.83 1042.43 432.61 1038.61 431.57 1035.15 C430.53 1031.7 429.91 1027.62 429.69 1023.86 C429.47 1020.09 430.1 1016.32 430.25 1012.56 C430.41 1008.79 430.79 1005.03 430.63 1001.26 C430.47 997.5 430.16 993.73 429.31 989.96 C428.46 986.2 427.27 982.43 425.55 978.67 C423.82 974.9 421.62 971.14 418.95 967.37 C416.29 963.6 412.84 959.84 409.54 956.07 C406.25 952.31 402.23 948.54 399.18 944.77 C396.14 941.01 393 937.09 391.28 933.48 C389.55 929.87 389.02 926.26 388.83 923.12 C388.64 919.98 389.36 917.94 390.15 914.65 C390.93 911.35 391.72 907.74 393.54 903.35 C395.36 898.96 398.24 893.31 401.07 888.29 C403.89 883.27 407.81 877.93 410.48 873.23 C413.15 868.52 414.62 864.91 417.07 860.05 C419.52 855.18 423.13 848.43 425.17 844.04 C427.21 839.65 427.52 837.29 429.31 833.68 C431.1 830.08 433.23 826.15 435.9 822.39 C438.57 818.62 442.59 814.86 445.32 811.09 C448.05 807.32 450.81 803.24 452.28 799.79 C453.76 796.34 454.16 793.83 454.16 790.38 C454.16 786.93 453.35 782.85 452.28 779.08 C451.22 775.32 449.33 771.55 447.76 767.78 C446.19 764.02 443.97 760.1 442.87 756.49 C441.77 752.88 441.24 749.58 441.17 746.13 C441.11 742.68 441.58 739.38 442.49 735.77 C443.4 732.17 445.03 727.99 446.63 724.48 C448.23 720.96 450.27 717.95 452.09 714.69 Z" fill="none" stroke="#000" stroke-width="2.8" stroke-linejoin="round"/>
<line x1="476.38" y1="714.69" x2="476.38" y2="844.04" stroke="#000" stroke-width="2.9" stroke-linecap="butt" />
<line x1="476.38" y1="957.58" x2="476.38" y2="1047.96" stroke="#000" stroke-width="2.9" stroke-linecap="butt" />
<rect x="411.05" y="844.04" width="130.67" height="113.54" fill="#F5A11A" stroke="#000" stroke-width="3.3"/>
<line x1="411.05" y1="910.51" x2="541.72" y2="910.51" stroke="#000" stroke-width="5.3" stroke-linecap="butt" />
<g fill="#F5A11A">
<ellipse cx="477.32" cy="714.69" rx="3.25" ry="2.85"/>
<ellipse cx="477.32" cy="749.71" rx="3.25" ry="2.85"/>
<ellipse cx="457.93" cy="760.82" rx="3.25" ry="2.85"/>
<ellipse cx="474.5" cy="829.92" rx="3.25" ry="2.85"/>
<ellipse cx="478.27" cy="832.37" rx="3.25" ry="2.85"/>
<ellipse cx="457.93" cy="910.51" rx="3.25" ry="2.85"/>
<ellipse cx="483.35" cy="980.55" rx="3.25" ry="2.85"/>
<ellipse cx="488.25" cy="981.68" rx="3.25" ry="2.85"/>
<ellipse cx="505.57" cy="1017.64" rx="3.25" ry="2.85"/>
<ellipse cx="504.63" cy="1035.53" rx="3.25" ry="2.85"/>
<ellipse cx="458.31" cy="1047.39" rx="3.25" ry="2.85"/>
</g>
<line x1="130.3" y1="672.7" x2="130.3" y2="1140.5" stroke="#000" stroke-width="3.1" stroke-linecap="butt" />
<line x1="128.75" y1="1139.1" x2="604.8" y2="1139.1" stroke="#000" stroke-width="2.8" stroke-linecap="butt" />
<line x1="118.9" y1="744.8" x2="130.3" y2="744.8" stroke="#000" stroke-width="2.8" stroke-linecap="butt" />
<text transform="translate(106.9,757.9) scale(1.02,1.04)" font-size="35" text-anchor="end" fill="#000" >4</text>
<line x1="118.9" y1="880.1" x2="130.3" y2="880.1" stroke="#000" stroke-width="2.8" stroke-linecap="butt" />
<text transform="translate(106.9,893.2) scale(1.02,1.04)" font-size="35" text-anchor="end" fill="#000" >2</text>
<line x1="118.9" y1="1015.5" x2="130.3" y2="1015.5" stroke="#000" stroke-width="2.8" stroke-linecap="butt" />
<text transform="translate(106.9,1028.6) scale(1.02,1.04)" font-size="35" text-anchor="end" fill="#000" >0</text>
<line x1="259.88" y1="1139.1" x2="259.88" y2="1149.1" stroke="#000" stroke-width="2.8" stroke-linecap="butt" />
<text transform="translate(259.88,1187.9) scale(1.02,1.04)" font-size="35" text-anchor="middle" fill="#000" >Control</text>
<line x1="476.38" y1="1139.1" x2="476.38" y2="1149.1" stroke="#000" stroke-width="2.8" stroke-linecap="butt" />
<text transform="translate(476.38,1187.9) scale(1.02,1.04)" font-size="35" text-anchor="middle" fill="#000" >DN</text>
<text transform="translate(76.3,1122.3) rotate(-90) scale(1,1.07)" font-size="36.4" text-anchor="start" fill="#000" >The expression of COL1A2</text>
<text transform="translate(369.7,1226.9) scale(1.02,1.04)" font-size="34.6" text-anchor="middle" fill="#000" >GSE30122</text>
<path d="M259.88 709.5 V702.2 H476.38 V709.5" fill="none" stroke="#000" stroke-width="2.8" stroke-linecap="round" stroke-linejoin="round"/>
<text transform="translate(368.13,705.7) scale(1.02,0.91)" font-size="35.2" text-anchor="middle" fill="#000" >***</text>
</g>
<g id="B2">
<path d="M870.79 919.83 L886.35 919.83 C886.06 922.43 885.73 925.06 885.48 927.61 C885.23 930.17 884.53 932.84 884.85 935.14 C885.16 937.45 885.69 939.33 887.36 941.42 C889.03 943.51 892.17 945.6 894.89 947.7 C897.61 949.79 900.85 951.88 903.68 953.97 C906.5 956.06 909.32 957.95 911.84 960.25 C914.35 962.55 916.86 965.27 918.74 967.78 C920.62 970.29 921.77 972.8 923.13 975.31 C924.49 977.82 925.33 980.33 926.9 982.84 C928.47 985.35 930.35 988.07 932.55 990.37 C934.74 992.67 937.46 994.56 940.08 996.65 C942.69 998.74 945.93 1001.04 948.24 1002.92 C950.54 1004.81 952.42 1006.27 953.88 1007.95 C955.35 1009.62 956.35 1011.4 957.02 1012.97 C957.69 1014.53 958.11 1015.69 957.9 1017.36 C957.69 1019.03 956.54 1021.23 955.77 1023.01 C954.99 1024.79 953.74 1026.56 953.26 1028.03 C952.77 1029.49 952.57 1030.33 952.88 1031.79 C953.19 1033.26 953.93 1035.14 955.14 1036.81 C956.35 1038.49 958.59 1040.16 960.16 1041.84 C961.73 1043.51 963.61 1045.39 964.55 1046.86 C965.49 1048.32 966.12 1049.16 965.81 1050.62 C965.49 1052.09 964.45 1053.97 962.67 1055.64 C960.89 1057.32 957.86 1058.99 955.14 1060.66 C952.42 1062.34 948.86 1064.01 946.35 1065.68 C943.84 1067.36 941.65 1069.03 940.08 1070.7 C938.51 1072.38 937.46 1073.84 936.94 1075.72 C936.42 1077.61 937.15 1079.91 936.94 1082 C936.73 1084.09 936.62 1086.18 935.68 1088.28 C934.74 1090.37 933.07 1092.46 931.29 1094.55 C929.51 1096.64 927 1098.74 925.01 1100.83 C923.03 1102.92 921.14 1105.01 919.37 1107.1 C917.59 1109.2 916.12 1111.29 914.35 1113.38 C912.57 1115.47 910.37 1117.77 908.7 1119.66 C907.02 1121.54 905.29 1123.46 904.3 1124.68 C903.32 1125.89 903.3 1126.18 902.8 1126.94 L854.35 1126.94 C853.85 1126.18 853.82 1125.89 852.84 1124.68 C851.86 1123.46 850.12 1121.54 848.45 1119.66 C846.78 1117.77 844.58 1115.47 842.8 1113.38 C841.02 1111.29 839.56 1109.2 837.78 1107.1 C836 1105.01 834.12 1102.92 832.13 1100.83 C830.14 1098.74 827.63 1096.64 825.86 1094.55 C824.08 1092.46 822.4 1090.37 821.46 1088.28 C820.52 1086.18 820.42 1084.09 820.21 1082 C820 1079.91 820.73 1077.61 820.21 1075.72 C819.68 1073.84 818.64 1072.38 817.07 1070.7 C815.5 1069.03 813.3 1067.36 810.79 1065.68 C808.28 1064.01 804.73 1062.34 802.01 1060.66 C799.29 1058.99 796.25 1057.32 794.48 1055.64 C792.7 1053.97 791.65 1052.09 791.34 1050.62 C791.02 1049.16 791.65 1048.32 792.59 1046.86 C793.53 1045.39 795.42 1043.51 796.99 1041.84 C798.56 1040.16 800.79 1038.49 802.01 1036.81 C803.22 1035.14 803.95 1033.26 804.27 1031.79 C804.58 1030.33 804.37 1029.49 803.89 1028.03 C803.41 1026.56 802.15 1024.79 801.38 1023.01 C800.61 1021.23 799.45 1019.03 799.25 1017.36 C799.04 1015.69 799.45 1014.53 800.12 1012.97 C800.79 1011.4 801.8 1009.62 803.26 1007.95 C804.73 1006.27 806.61 1004.81 808.91 1002.92 C811.21 1001.04 814.45 998.74 817.07 996.65 C819.68 994.56 822.4 992.67 824.6 990.37 C826.8 988.07 828.68 985.35 830.25 982.84 C831.82 980.33 832.65 977.82 834.01 975.31 C835.37 972.8 836.52 970.29 838.41 967.78 C840.29 965.27 842.8 962.55 845.31 960.25 C847.82 957.95 850.65 956.06 853.47 953.97 C856.29 951.88 859.54 949.79 862.26 947.7 C864.98 945.6 868.11 943.51 869.79 941.42 C871.46 939.33 871.98 937.45 872.3 935.14 C872.61 932.84 871.92 930.17 871.67 927.61 C871.42 925.06 871.08 922.43 870.79 919.83 Z" fill="#29AAA0" fill-opacity="0.5" stroke="none"/>
<path d="M870.79 919.83 L886.35 919.83 C886.06 922.43 885.73 925.06 885.48 927.61 C885.23 930.17 884.53 932.84 884.85 935.14 C885.16 937.45 885.69 939.33 887.36 941.42 C889.03 943.51 892.17 945.6 894.89 947.7 C897.61 949.79 900.85 951.88 903.68 953.97 C906.5 956.06 909.32 957.95 911.84 960.25 C914.35 962.55 916.86 965.27 918.74 967.78 C920.62 970.29 921.77 972.8 923.13 975.31 C924.49 977.82 925.33 980.33 926.9 982.84 C928.47 985.35 930.35 988.07 932.55 990.37 C934.74 992.67 937.46 994.56 940.08 996.65 C942.69 998.74 945.93 1001.04 948.24 1002.92 C950.54 1004.81 952.42 1006.27 953.88 1007.95 C955.35 1009.62 956.35 1011.4 957.02 1012.97 C957.69 1014.53 958.11 1015.69 957.9 1017.36 C957.69 1019.03 956.54 1021.23 955.77 1023.01 C954.99 1024.79 953.74 1026.56 953.26 1028.03 C952.77 1029.49 952.57 1030.33 952.88 1031.79 C953.19 1033.26 953.93 1035.14 955.14 1036.81 C956.35 1038.49 958.59 1040.16 960.16 1041.84 C961.73 1043.51 963.61 1045.39 964.55 1046.86 C965.49 1048.32 966.12 1049.16 965.81 1050.62 C965.49 1052.09 964.45 1053.97 962.67 1055.64 C960.89 1057.32 957.86 1058.99 955.14 1060.66 C952.42 1062.34 948.86 1064.01 946.35 1065.68 C943.84 1067.36 941.65 1069.03 940.08 1070.7 C938.51 1072.38 937.46 1073.84 936.94 1075.72 C936.42 1077.61 937.15 1079.91 936.94 1082 C936.73 1084.09 936.62 1086.18 935.68 1088.28 C934.74 1090.37 933.07 1092.46 931.29 1094.55 C929.51 1096.64 927 1098.74 925.01 1100.83 C923.03 1102.92 921.14 1105.01 919.37 1107.1 C917.59 1109.2 916.12 1111.29 914.35 1113.38 C912.57 1115.47 910.37 1117.77 908.7 1119.66 C907.02 1121.54 905.29 1123.46 904.3 1124.68 C903.32 1125.89 903.3 1126.18 902.8 1126.94 L854.35 1126.94 C853.85 1126.18 853.82 1125.89 852.84 1124.68 C851.86 1123.46 850.12 1121.54 848.45 1119.66 C846.78 1117.77 844.58 1115.47 842.8 1113.38 C841.02 1111.29 839.56 1109.2 837.78 1107.1 C836 1105.01 834.12 1102.92 832.13 1100.83 C830.14 1098.74 827.63 1096.64 825.86 1094.55 C824.08 1092.46 822.4 1090.37 821.46 1088.28 C820.52 1086.18 820.42 1084.09 820.21 1082 C820 1079.91 820.73 1077.61 820.21 1075.72 C819.68 1073.84 818.64 1072.38 817.07 1070.7 C815.5 1069.03 813.3 1067.36 810.79 1065.68 C808.28 1064.01 804.73 1062.34 802.01 1060.66 C799.29 1058.99 796.25 1057.32 794.48 1055.64 C792.7 1053.97 791.65 1052.09 791.34 1050.62 C791.02 1049.16 791.65 1048.32 792.59 1046.86 C793.53 1045.39 795.42 1043.51 796.99 1041.84 C798.56 1040.16 800.79 1038.49 802.01 1036.81 C803.22 1035.14 803.95 1033.26 804.27 1031.79 C804.58 1030.33 804.37 1029.49 803.89 1028.03 C803.41 1026.56 802.15 1024.79 801.38 1023.01 C800.61 1021.23 799.45 1019.03 799.25 1017.36 C799.04 1015.69 799.45 1014.53 800.12 1012.97 C800.79 1011.4 801.8 1009.62 803.26 1007.95 C804.73 1006.27 806.61 1004.81 808.91 1002.92 C811.21 1001.04 814.45 998.74 817.07 996.65 C819.68 994.56 822.4 992.67 824.6 990.37 C826.8 988.07 828.68 985.35 830.25 982.84 C831.82 980.33 832.65 977.82 834.01 975.31 C835.37 972.8 836.52 970.29 838.41 967.78 C840.29 965.27 842.8 962.55 845.31 960.25 C847.82 957.95 850.65 956.06 853.47 953.97 C856.29 951.88 859.54 949.79 862.26 947.7 C864.98 945.6 868.11 943.51 869.79 941.42 C871.46 939.33 871.98 937.45 872.3 935.14 C872.61 932.84 871.92 930.17 871.67 927.61 C871.42 925.06 871.08 922.43 870.79 919.83 Z" fill="none" stroke="#000" stroke-width="2.8" stroke-linejoin="round"/>
<line x1="878.57" y1="919.83" x2="878.57" y2="1006.44" stroke="#000" stroke-width="2.9" stroke-linecap="butt" />
<line x1="878.57" y1="1072.84" x2="878.57" y2="1126.94" stroke="#000" stroke-width="2.9" stroke-linecap="butt" />
<rect x="813.3" y="1006.44" width="130.54" height="66.4" fill="#29AAA0" stroke="#000" stroke-width="3.3"/>
<line x1="813.3" y1="1041.46" x2="943.84" y2="1041.46" stroke="#000" stroke-width="5.3" stroke-linecap="butt" />
<g fill="#29AAA0">
<ellipse cx="891.25" cy="920.08" rx="3.25" ry="2.85"/>
<ellipse cx="856.11" cy="961.13" rx="3.25" ry="2.85"/>
<ellipse cx="865.39" cy="962.38" rx="3.25" ry="2.85"/>
<ellipse cx="884.47" cy="959.62" rx="3.25" ry="2.85"/>
<ellipse cx="899.28" cy="973.8" rx="3.25" ry="2.85"/>
<ellipse cx="901.17" cy="977.82" rx="3.25" ry="2.85"/>
<ellipse cx="909.95" cy="981.59" rx="3.25" ry="2.85"/>
<ellipse cx="850.33" cy="985.6" rx="3.25" ry="2.85"/>
<ellipse cx="890.25" cy="993.13" rx="3.25" ry="2.85"/>
<ellipse cx="849.33" cy="1004.18" rx="3.25" ry="2.85"/>
<ellipse cx="860.37" cy="1004.81" rx="3.25" ry="2.85"/>
<ellipse cx="867.03" cy="1005.18" rx="3.25" ry="2.85"/>
<ellipse cx="857.23" cy="1007.32" rx="3.25" ry="2.85"/>
<ellipse cx="859.75" cy="1040.83" rx="3.25" ry="2.85"/>
<ellipse cx="875.18" cy="1039.95" rx="3.25" ry="2.85"/>
<ellipse cx="883.34" cy="1041.84" rx="3.25" ry="2.85"/>
<ellipse cx="856.61" cy="1043.72" rx="3.25" ry="2.85"/>
<ellipse cx="889.37" cy="1074.85" rx="3.25" ry="2.85"/>
<ellipse cx="869.16" cy="1077.23" rx="3.25" ry="2.85"/>
<ellipse cx="854.47" cy="1084.01" rx="3.25" ry="2.85"/>
<ellipse cx="904.3" cy="1087.02" rx="3.25" ry="2.85"/>
<ellipse cx="891.5" cy="1090.41" rx="3.25" ry="2.85"/>
<ellipse cx="864.14" cy="1091.41" rx="3.25" ry="2.85"/>
<ellipse cx="849.08" cy="1093.92" rx="3.25" ry="2.85"/>
<ellipse cx="901.42" cy="1095.56" rx="3.25" ry="2.85"/>
<ellipse cx="884.97" cy="1104.84" rx="3.25" ry="2.85"/>
<ellipse cx="889.37" cy="1109.24" rx="3.25" ry="2.85"/>
<ellipse cx="852.84" cy="1117.4" rx="3.25" ry="2.85"/>
<ellipse cx="863.51" cy="1123.05" rx="3.25" ry="2.85"/>
<ellipse cx="896.77" cy="1126.18" rx="3.25" ry="2.85"/>
</g>
<path d="M1053.26 714.69 L1134.61 714.69 C1137.37 717.95 1140.25 720.96 1142.89 724.48 C1145.53 727.99 1148.38 732.01 1150.42 735.77 C1152.46 739.54 1153.94 742.99 1155.13 747.07 C1156.32 751.15 1156.95 755.55 1157.58 760.25 C1158.2 764.96 1158.52 770.29 1158.89 775.32 C1159.27 780.34 1159.62 785.83 1159.84 790.38 C1160.06 794.93 1160.15 798.85 1160.21 802.62 C1160.28 806.38 1160.43 808.11 1160.21 812.97 C1159.99 817.84 1159.21 823.96 1158.89 831.8 C1158.58 839.65 1158.17 851.89 1158.33 860.05 C1158.49 868.2 1158.02 875.42 1159.84 880.76 C1161.66 886.09 1166.27 888.29 1169.25 892.05 C1172.23 895.82 1175.75 899.59 1177.72 903.35 C1179.7 907.12 1181.27 910.88 1181.11 914.65 C1180.96 918.41 1178.92 922.18 1176.78 925.95 C1174.65 929.71 1171.13 933.48 1168.31 937.24 C1165.48 941.01 1161.72 945.4 1159.84 948.54 C1157.95 951.68 1158.11 952.93 1157.01 956.07 C1155.91 959.21 1154.19 963.6 1153.25 967.37 C1152.3 971.14 1151.58 974.9 1151.36 978.67 C1151.14 982.43 1151.61 986.2 1151.93 989.96 C1152.24 993.73 1153.09 997.5 1153.25 1001.26 C1153.4 1005.03 1153.34 1008.79 1152.87 1012.56 C1152.4 1016.32 1151.61 1020.53 1150.42 1023.86 C1149.23 1027.18 1147.28 1029.63 1145.71 1032.52 L1042.16 1032.52 C1040.59 1029.63 1038.64 1027.18 1037.45 1023.86 C1036.26 1020.53 1035.47 1016.32 1035 1012.56 C1034.53 1008.79 1034.47 1005.03 1034.62 1001.26 C1034.78 997.5 1035.63 993.73 1035.94 989.96 C1036.26 986.2 1036.73 982.43 1036.51 978.67 C1036.29 974.9 1035.57 971.14 1034.62 967.37 C1033.68 963.6 1031.96 959.21 1030.86 956.07 C1029.76 952.93 1029.92 951.68 1028.03 948.54 C1026.15 945.4 1022.39 941.01 1019.56 937.24 C1016.74 933.48 1013.22 929.71 1011.09 925.95 C1008.95 922.18 1006.91 918.41 1006.76 914.65 C1006.6 910.88 1008.17 907.12 1010.15 903.35 C1012.12 899.59 1015.64 895.82 1018.62 892.05 C1021.6 888.29 1026.21 886.09 1028.03 880.76 C1029.85 875.42 1029.38 868.2 1029.54 860.05 C1029.7 851.89 1029.29 839.65 1028.98 831.8 C1028.66 823.96 1027.88 817.84 1027.66 812.97 C1027.44 808.11 1027.59 806.38 1027.66 802.62 C1027.72 798.85 1027.81 794.93 1028.03 790.38 C1028.25 785.83 1028.6 780.34 1028.98 775.32 C1029.35 770.29 1029.67 764.96 1030.29 760.25 C1030.92 755.55 1031.55 751.15 1032.74 747.07 C1033.93 742.99 1035.41 739.54 1037.45 735.77 C1039.49 732.01 1042.34 727.99 1044.98 724.48 C1047.62 720.96 1050.5 717.95 1053.26 714.69 Z" fill="#F6B8C5" fill-opacity="0.5" stroke="none"/>
<path d="M1053.26 714.69 L1134.61 714.69 C1137.37 717.95 1140.25 720.96 1142.89 724.48 C1145.53 727.99 1148.38 732.01 1150.42 735.77 C1152.46 739.54 1153.94 742.99 1155.13 747.07 C1156.32 751.15 1156.95 755.55 1157.58 760.25 C1158.2 764.96 1158.52 770.29 1158.89 775.32 C1159.27 780.34 1159.62 785.83 1159.84 790.38 C1160.06 794.93 1160.15 798.85 1160.21 802.62 C1160.28 806.38 1160.43 808.11 1160.21 812.97 C1159.99 817.84 1159.21 823.96 1158.89 831.8 C1158.58 839.65 1158.17 851.89 1158.33 860.05 C1158.49 868.2 1158.02 875.42 1159.84 880.76 C1161.66 886.09 1166.27 888.29 1169.25 892.05 C1172.23 895.82 1175.75 899.59 1177.72 903.35 C1179.7 907.12 1181.27 910.88 1181.11 914.65 C1180.96 918.41 1178.92 922.18 1176.78 925.95 C1174.65 929.71 1171.13 933.48 1168.31 937.24 C1165.48 941.01 1161.72 945.4 1159.84 948.54 C1157.95 951.68 1158.11 952.93 1157.01 956.07 C1155.91 959.21 1154.19 963.6 1153.25 967.37 C1152.3 971.14 1151.58 974.9 1151.36 978.67 C1151.14 982.43 1151.61 986.2 1151.93 989.96 C1152.24 993.73 1153.09 997.5 1153.25 1001.26 C1153.4 1005.03 1153.34 1008.79 1152.87 1012.56 C1152.4 1016.32 1151.61 1020.53 1150.42 1023.86 C1149.23 1027.18 1147.28 1029.63 1145.71 1032.52 L1042.16 1032.52 C1040.59 1029.63 1038.64 1027.18 1037.45 1023.86 C1036.26 1020.53 1035.47 1016.32 1035 1012.56 C1034.53 1008.79 1034.47 1005.03 1034.62 1001.26 C1034.78 997.5 1035.63 993.73 1035.94 989.96 C1036.26 986.2 1036.73 982.43 1036.51 978.67 C1036.29 974.9 1035.57 971.14 1034.62 967.37 C1033.68 963.6 1031.96 959.21 1030.86 956.07 C1029.76 952.93 1029.92 951.68 1028.03 948.54 C1026.15 945.4 1022.39 941.01 1019.56 937.24 C1016.74 933.48 1013.22 929.71 1011.09 925.95 C1008.95 922.18 1006.91 918.41 1006.76 914.65 C1006.6 910.88 1008.17 907.12 1010.15 903.35 C1012.12 899.59 1015.64 895.82 1018.62 892.05 C1021.6 888.29 1026.21 886.09 1028.03 880.76 C1029.85 875.42 1029.38 868.2 1029.54 860.05 C1029.7 851.89 1029.29 839.65 1028.98 831.8 C1028.66 823.96 1027.88 817.84 1027.66 812.97 C1027.44 808.11 1027.59 806.38 1027.66 802.62 C1027.72 798.85 1027.81 794.93 1028.03 790.38 C1028.25 785.83 1028.6 780.34 1028.98 775.32 C1029.35 770.29 1029.67 764.96 1030.29 760.25 C1030.92 755.55 1031.55 751.15 1032.74 747.07 C1033.93 742.99 1035.41 739.54 1037.45 735.77 C1039.49 732.01 1042.34 727.99 1044.98 724.48 C1047.62 720.96 1050.5 717.95 1053.26 714.69 Z" fill="none" stroke="#000" stroke-width="2.8" stroke-linejoin="round"/>
<line x1="1093.94" y1="714.69" x2="1093.94" y2="802.62" stroke="#000" stroke-width="2.9" stroke-linecap="butt" />
<line x1="1093.94" y1="954.57" x2="1093.94" y2="1032.52" stroke="#000" stroke-width="2.9" stroke-linecap="butt" />
<rect x="1028.6" y="802.62" width="130.67" height="151.95" fill="#F6B8C5" stroke="#000" stroke-width="3.3"/>
<line x1="1028.6" y1="909" x2="1159.27" y2="909" stroke="#000" stroke-width="5.3" stroke-linecap="butt" />
<g fill="#F6B8C5">
<ellipse cx="1108.25" cy="714.69" rx="3.25" ry="2.85"/>
<ellipse cx="1089.42" cy="736.15" rx="3.25" ry="2.85"/>
<ellipse cx="1087.35" cy="750.08" rx="3.25" ry="2.85"/>
<ellipse cx="1122.74" cy="765.9" rx="3.25" ry="2.85"/>
<ellipse cx="1081.7" cy="792.83" rx="3.25" ry="2.85"/>
<ellipse cx="1072.85" cy="909.94" rx="3.25" ry="2.85"/>
<ellipse cx="1069.08" cy="912.39" rx="3.25" ry="2.85"/>
<ellipse cx="1112.01" cy="909" rx="3.25" ry="2.85"/>
<ellipse cx="1092.24" cy="971.14" rx="3.25" ry="2.85"/>
<ellipse cx="1085.65" cy="981.49" rx="3.25" ry="2.85"/>
<ellipse cx="1064.75" cy="1019.15" rx="3.25" ry="2.85"/>
<ellipse cx="1089.42" cy="1027.62" rx="3.25" ry="2.85"/>
<ellipse cx="1096.38" cy="1031.39" rx="3.25" ry="2.85"/>
</g>
<line x1="748.7" y1="672.7" x2="748.7" y2="1140.5" stroke="#000" stroke-width="3.1" stroke-linecap="butt" />
<line x1="747.15" y1="1139.1" x2="1223.2" y2="1139.1" stroke="#000" stroke-width="2.8" stroke-linecap="butt" />
<line x1="737.3" y1="742.5" x2="748.7" y2="742.5" stroke="#000" stroke-width="2.8" stroke-linecap="butt" />
<text transform="translate(725.8,755.6) scale(1.02,1.04)" font-size="35" text-anchor="end" fill="#000" >2</text>
<line x1="737.3" y1="881.4" x2="748.7" y2="881.4" stroke="#000" stroke-width="2.8" stroke-linecap="butt" />
<text transform="translate(725.8,894.5) scale(1.02,1.04)" font-size="35" text-anchor="end" fill="#000" >1</text>
<line x1="737.3" y1="1020.4" x2="748.7" y2="1020.4" stroke="#000" stroke-width="2.8" stroke-linecap="butt" />
<text transform="translate(725.8,1033.5) scale(1.02,1.04)" font-size="35" text-anchor="end" fill="#000" >0</text>
<line x1="878.57" y1="1139.1" x2="878.57" y2="1149.1" stroke="#000" stroke-width="2.8" stroke-linecap="butt" />
<text transform="translate(878.57,1187.9) scale(1.02,1.04)" font-size="35" text-anchor="middle" fill="#000" >Control</text>
<line x1="1093.94" y1="1139.1" x2="1093.94" y2="1149.1" stroke="#000" stroke-width="2.8" stroke-linecap="butt" />
<text transform="translate(1093.94,1187.9) scale(1.02,1.04)" font-size="35" text-anchor="middle" fill="#000" >DN</text>
<text transform="translate(695.2,1108.5) rotate(-90) scale(1,1.07)" font-size="36.04" text-anchor="start" fill="#000" >The expression of CD163</text>
<text transform="translate(988.1,1226.9) scale(1.02,1.04)" font-size="34.6" text-anchor="middle" fill="#2b2b2b" >GSE30122</text>
<path d="M878.57 709.5 V702.2 H1093.94 V709.5" fill="none" stroke="#000" stroke-width="2.8" stroke-linecap="round" stroke-linejoin="round"/>
<text transform="translate(986.25,705.7) scale(1.02,0.91)" font-size="35.2" text-anchor="middle" fill="#000" >***</text>
</g>
<g id="B3">
<path d="M1484.45 869.96 L1510.81 869.96 C1512.76 872.98 1514.84 876.06 1516.67 879.04 C1518.5 882.01 1520.2 884.89 1521.79 887.82 C1523.38 890.75 1525.13 893.68 1526.18 896.61 C1527.23 899.54 1527.84 902.47 1528.09 905.39 C1528.33 908.32 1527.72 911.25 1527.65 914.18 C1527.58 917.11 1527.16 920.53 1527.65 922.97 C1528.14 925.41 1528.75 926.87 1530.58 928.82 C1532.41 930.78 1535.21 932.48 1538.63 934.68 C1542.05 936.88 1546.68 939.32 1551.08 942 C1555.47 944.69 1560.72 947.86 1564.99 950.79 C1569.26 953.72 1573.78 956.65 1576.7 959.58 C1579.63 962.5 1581.27 965.68 1582.56 968.36 C1583.85 971.05 1584.1 973.61 1584.46 975.68 C1584.83 977.76 1585.07 978.61 1584.76 980.81 C1584.44 983 1583.29 986.06 1582.56 988.86 C1581.83 991.67 1580.85 994.72 1580.36 997.65 C1579.88 1000.58 1579.75 1003.51 1579.63 1006.43 C1579.51 1009.36 1580.24 1012.29 1579.63 1015.22 C1579.02 1018.15 1577.44 1021.08 1575.97 1024.01 C1574.51 1026.94 1572.24 1029.86 1570.85 1032.79 C1569.46 1035.72 1567.99 1038.65 1567.62 1041.58 C1567.26 1044.51 1568.11 1047.44 1568.65 1050.36 C1569.19 1053.29 1570.41 1056.71 1570.85 1059.15 C1571.29 1061.59 1571.65 1062.81 1571.29 1065.01 C1570.92 1067.2 1570.43 1069.89 1568.65 1072.33 C1566.87 1074.77 1564.13 1076.97 1560.6 1079.65 C1557.06 1082.34 1551.81 1085.51 1547.42 1088.44 C1543.02 1091.37 1538.39 1094.29 1534.24 1097.22 C1530.09 1100.15 1525.82 1103.33 1522.52 1106.01 C1519.23 1108.69 1516.67 1110.89 1514.47 1113.33 C1512.27 1115.77 1510.54 1118.46 1509.34 1120.65 C1508.15 1122.85 1507.98 1124.56 1507.29 1126.51 L1487.96 1126.51 C1487.28 1124.56 1487.11 1122.85 1485.91 1120.65 C1484.72 1118.46 1482.99 1115.77 1480.79 1113.33 C1478.59 1110.89 1476.03 1108.69 1472.74 1106.01 C1469.44 1103.33 1465.17 1100.15 1461.02 1097.22 C1456.87 1094.29 1452.23 1091.37 1447.84 1088.44 C1443.45 1085.51 1438.2 1082.34 1434.66 1079.65 C1431.12 1076.97 1428.39 1074.77 1426.61 1072.33 C1424.83 1069.89 1424.34 1067.2 1423.97 1065.01 C1423.61 1062.81 1423.97 1061.59 1424.41 1059.15 C1424.85 1056.71 1426.07 1053.29 1426.61 1050.36 C1427.15 1047.44 1428 1044.51 1427.63 1041.58 C1427.27 1038.65 1425.8 1035.72 1424.41 1032.79 C1423.02 1029.86 1420.75 1026.94 1419.29 1024.01 C1417.82 1021.08 1416.24 1018.15 1415.63 1015.22 C1415.02 1012.29 1415.75 1009.36 1415.63 1006.43 C1415.5 1003.51 1415.38 1000.58 1414.89 997.65 C1414.41 994.72 1413.43 991.67 1412.7 988.86 C1411.97 986.06 1410.82 983 1410.5 980.81 C1410.18 978.61 1410.43 977.76 1410.79 975.68 C1411.16 973.61 1411.4 971.05 1412.7 968.36 C1413.99 965.68 1415.63 962.5 1418.55 959.58 C1421.48 956.65 1426 953.72 1430.27 950.79 C1434.54 947.86 1439.79 944.69 1444.18 942 C1448.57 939.32 1453.21 936.88 1456.63 934.68 C1460.04 932.48 1462.85 930.78 1464.68 928.82 C1466.51 926.87 1467.12 925.41 1467.61 922.97 C1468.1 920.53 1467.68 917.11 1467.61 914.18 C1467.54 911.25 1466.93 908.32 1467.17 905.39 C1467.41 902.47 1468.03 899.54 1469.07 896.61 C1470.12 893.68 1471.88 890.75 1473.47 887.82 C1475.05 884.89 1476.76 882.01 1478.59 879.04 C1480.42 876.06 1482.5 872.98 1484.45 869.96 Z" fill="#C9A87A" fill-opacity="0.5" stroke="none"/>
<path d="M1484.45 869.96 L1510.81 869.96 C1512.76 872.98 1514.84 876.06 1516.67 879.04 C1518.5 882.01 1520.2 884.89 1521.79 887.82 C1523.38 890.75 1525.13 893.68 1526.18 896.61 C1527.23 899.54 1527.84 902.47 1528.09 905.39 C1528.33 908.32 1527.72 911.25 1527.65 914.18 C1527.58 917.11 1527.16 920.53 1527.65 922.97 C1528.14 925.41 1528.75 926.87 1530.58 928.82 C1532.41 930.78 1535.21 932.48 1538.63 934.68 C1542.05 936.88 1546.68 939.32 1551.08 942 C1555.47 944.69 1560.72 947.86 1564.99 950.79 C1569.26 953.72 1573.78 956.65 1576.7 959.58 C1579.63 962.5 1581.27 965.68 1582.56 968.36 C1583.85 971.05 1584.1 973.61 1584.46 975.68 C1584.83 977.76 1585.07 978.61 1584.76 980.81 C1584.44 983 1583.29 986.06 1582.56 988.86 C1581.83 991.67 1580.85 994.72 1580.36 997.65 C1579.88 1000.58 1579.75 1003.51 1579.63 1006.43 C1579.51 1009.36 1580.24 1012.29 1579.63 1015.22 C1579.02 1018.15 1577.44 1021.08 1575.97 1024.01 C1574.51 1026.94 1572.24 1029.86 1570.85 1032.79 C1569.46 1035.72 1567.99 1038.65 1567.62 1041.58 C1567.26 1044.51 1568.11 1047.44 1568.65 1050.36 C1569.19 1053.29 1570.41 1056.71 1570.85 1059.15 C1571.29 1061.59 1571.65 1062.81 1571.29 1065.01 C1570.92 1067.2 1570.43 1069.89 1568.65 1072.33 C1566.87 1074.77 1564.13 1076.97 1560.6 1079.65 C1557.06 1082.34 1551.81 1085.51 1547.42 1088.44 C1543.02 1091.37 1538.39 1094.29 1534.24 1097.22 C1530.09 1100.15 1525.82 1103.33 1522.52 1106.01 C1519.23 1108.69 1516.67 1110.89 1514.47 1113.33 C1512.27 1115.77 1510.54 1118.46 1509.34 1120.65 C1508.15 1122.85 1507.98 1124.56 1507.29 1126.51 L1487.96 1126.51 C1487.28 1124.56 1487.11 1122.85 1485.91 1120.65 C1484.72 1118.46 1482.99 1115.77 1480.79 1113.33 C1478.59 1110.89 1476.03 1108.69 1472.74 1106.01 C1469.44 1103.33 1465.17 1100.15 1461.02 1097.22 C1456.87 1094.29 1452.23 1091.37 1447.84 1088.44 C1443.45 1085.51 1438.2 1082.34 1434.66 1079.65 C1431.12 1076.97 1428.39 1074.77 1426.61 1072.33 C1424.83 1069.89 1424.34 1067.2 1423.97 1065.01 C1423.61 1062.81 1423.97 1061.59 1424.41 1059.15 C1424.85 1056.71 1426.07 1053.29 1426.61 1050.36 C1427.15 1047.44 1428 1044.51 1427.63 1041.58 C1427.27 1038.65 1425.8 1035.72 1424.41 1032.79 C1423.02 1029.86 1420.75 1026.94 1419.29 1024.01 C1417.82 1021.08 1416.24 1018.15 1415.63 1015.22 C1415.02 1012.29 1415.75 1009.36 1415.63 1006.43 C1415.5 1003.51 1415.38 1000.58 1414.89 997.65 C1414.41 994.72 1413.43 991.67 1412.7 988.86 C1411.97 986.06 1410.82 983 1410.5 980.81 C1410.18 978.61 1410.43 977.76 1410.79 975.68 C1411.16 973.61 1411.4 971.05 1412.7 968.36 C1413.99 965.68 1415.63 962.5 1418.55 959.58 C1421.48 956.65 1426 953.72 1430.27 950.79 C1434.54 947.86 1439.79 944.69 1444.18 942 C1448.57 939.32 1453.21 936.88 1456.63 934.68 C1460.04 932.48 1462.85 930.78 1464.68 928.82 C1466.51 926.87 1467.12 925.41 1467.61 922.97 C1468.1 920.53 1467.68 917.11 1467.61 914.18 C1467.54 911.25 1466.93 908.32 1467.17 905.39 C1467.41 902.47 1468.03 899.54 1469.07 896.61 C1470.12 893.68 1471.88 890.75 1473.47 887.82 C1475.05 884.89 1476.76 882.01 1478.59 879.04 C1480.42 876.06 1482.5 872.98 1484.45 869.96 Z" fill="none" stroke="#000" stroke-width="2.8" stroke-linejoin="round"/>
<line x1="1497.63" y1="869.96" x2="1497.63" y2="971.58" stroke="#000" stroke-width="2.9" stroke-linecap="butt" />
<line x1="1497.63" y1="1050.8" x2="1497.63" y2="1126.51" stroke="#000" stroke-width="2.9" stroke-linecap="butt" />
<rect x="1432.47" y="971.58" width="130.33" height="79.22" fill="#C9A87A" stroke="#000" stroke-width="3.3"/>
<line x1="1432.47" y1="1005.7" x2="1562.79" y2="1005.7" stroke="#000" stroke-width="5.3" stroke-linecap="butt" />
<g fill="#C9A87A">
<ellipse cx="1515.2" cy="869.52" rx="3.25" ry="2.85"/>
<ellipse cx="1514.18" cy="888.55" rx="3.25" ry="2.85"/>
<ellipse cx="1506.71" cy="895.29" rx="3.25" ry="2.85"/>
<ellipse cx="1484.16" cy="910.08" rx="3.25" ry="2.85"/>
<ellipse cx="1477.86" cy="916.08" rx="3.25" ry="2.85"/>
<ellipse cx="1507.73" cy="917.4" rx="3.25" ry="2.85"/>
<ellipse cx="1470.83" cy="947.42" rx="3.25" ry="2.85"/>
<ellipse cx="1505.68" cy="947.42" rx="3.25" ry="2.85"/>
<ellipse cx="1503.49" cy="950.06" rx="3.25" ry="2.85"/>
<ellipse cx="1517.1" cy="951.81" rx="3.25" ry="2.85"/>
<ellipse cx="1524.72" cy="949.32" rx="3.25" ry="2.85"/>
<ellipse cx="1503.19" cy="966.16" rx="3.25" ry="2.85"/>
<ellipse cx="1465.85" cy="971.29" rx="3.25" ry="2.85"/>
<ellipse cx="1500.85" cy="970.85" rx="3.25" ry="2.85"/>
<ellipse cx="1475.37" cy="1051.1" rx="3.25" ry="2.85"/>
<ellipse cx="1501.29" cy="1051.1" rx="3.25" ry="2.85"/>
<ellipse cx="1504.22" cy="1058.71" rx="3.25" ry="2.85"/>
<ellipse cx="1482.55" cy="1062.37" rx="3.25" ry="2.85"/>
<ellipse cx="1512.27" cy="1064.72" rx="3.25" ry="2.85"/>
<ellipse cx="1481.96" cy="1069.4" rx="3.25" ry="2.85"/>
<ellipse cx="1494.26" cy="1070.57" rx="3.25" ry="2.85"/>
<ellipse cx="1482.99" cy="1073.06" rx="3.25" ry="2.85"/>
<ellipse cx="1527.65" cy="1072.77" rx="3.25" ry="2.85"/>
<ellipse cx="1518.13" cy="1083.61" rx="3.25" ry="2.85"/>
<ellipse cx="1523.55" cy="1087.41" rx="3.25" ry="2.85"/>
<ellipse cx="1528.82" cy="1091.66" rx="3.25" ry="2.85"/>
<ellipse cx="1467.32" cy="1096.49" rx="3.25" ry="2.85"/>
<ellipse cx="1507.15" cy="1126.51" rx="3.25" ry="2.85"/>
</g>
<path d="M1701.76 715.06 L1725.19 715.06 C1724.52 718.41 1723.68 721.76 1723.18 725.1 C1722.68 728.45 1722.06 731.52 1722.18 735.15 C1722.29 738.77 1723.35 743.1 1723.85 746.86 C1724.35 750.63 1725.3 754.39 1725.19 757.74 C1725.08 761.09 1724.24 763.74 1723.18 766.95 C1722.12 770.15 1719.89 773.64 1718.83 776.99 C1717.77 780.33 1717.02 783.96 1716.82 787.03 C1716.62 790.1 1716.82 792.61 1717.66 795.4 C1718.49 798.19 1720.17 800.7 1721.84 803.77 C1723.51 806.83 1725.89 810.46 1727.7 813.81 C1729.51 817.15 1731.24 820.5 1732.72 823.85 C1734.2 827.2 1735.73 830.96 1736.57 833.89 C1737.41 836.82 1737.82 838.91 1737.74 841.42 C1737.66 843.93 1737.18 846.3 1736.07 848.95 C1734.95 851.6 1732.8 854.53 1731.05 857.32 C1729.29 860.11 1726.83 862.62 1725.52 865.69 C1724.21 868.76 1721.84 871.27 1723.18 875.73 C1724.52 880.2 1728.2 886.89 1733.56 892.47 C1738.91 898.05 1747.64 903.63 1755.31 909.21 C1762.98 914.78 1773.44 921.76 1779.58 925.94 C1785.72 930.13 1789.07 932.08 1792.13 934.31 C1795.2 936.54 1796.6 937.66 1797.99 939.33 C1799.39 941 1800.5 942.68 1800.5 944.35 C1800.5 946.03 1800.22 947.42 1797.99 949.37 C1795.76 951.32 1791.72 953.84 1787.11 956.07 C1782.51 958.3 1775.82 960.53 1770.38 962.76 C1764.94 964.99 1759.22 967.22 1754.48 969.46 C1749.74 971.69 1745.27 973.92 1741.92 976.15 C1738.58 978.38 1736.35 980.61 1734.39 982.85 C1732.44 985.08 1731.24 987.31 1730.21 989.54 C1729.18 991.77 1728.81 994.37 1728.2 996.23 C1727.59 998.1 1727.09 999.25 1726.53 1000.75 L1700.42 1000.75 C1699.86 999.25 1699.36 998.1 1698.74 996.23 C1698.13 994.37 1697.77 991.77 1696.74 989.54 C1695.7 987.31 1694.5 985.08 1692.55 982.85 C1690.6 980.61 1688.37 978.38 1685.02 976.15 C1681.67 973.92 1677.21 971.69 1672.47 969.46 C1667.73 967.22 1662.01 964.99 1656.57 962.76 C1651.13 960.53 1644.44 958.3 1639.83 956.07 C1635.23 953.84 1631.19 951.32 1628.95 949.37 C1626.72 947.42 1626.44 946.03 1626.44 944.35 C1626.44 942.68 1627.56 941 1628.95 939.33 C1630.35 937.66 1631.74 936.54 1634.81 934.31 C1637.88 932.08 1641.23 930.13 1647.36 925.94 C1653.5 921.76 1663.96 914.78 1671.63 909.21 C1679.3 903.63 1688.03 898.05 1693.39 892.47 C1698.74 886.89 1702.43 880.2 1703.77 875.73 C1705.1 871.27 1702.73 868.76 1701.42 865.69 C1700.11 862.62 1697.66 860.11 1695.9 857.32 C1694.14 854.53 1691.99 851.6 1690.88 848.95 C1689.76 846.3 1689.29 843.93 1689.21 841.42 C1689.12 838.91 1689.54 836.82 1690.38 833.89 C1691.21 830.96 1692.75 827.2 1694.23 823.85 C1695.7 820.5 1697.43 817.15 1699.25 813.81 C1701.06 810.46 1703.43 806.83 1705.1 803.77 C1706.78 800.7 1708.45 798.19 1709.29 795.4 C1710.13 792.61 1710.32 790.1 1710.13 787.03 C1709.93 783.96 1709.18 780.33 1708.12 776.99 C1707.06 773.64 1704.83 770.15 1703.77 766.95 C1702.71 763.74 1701.87 761.09 1701.76 757.74 C1701.65 754.39 1702.59 750.63 1703.1 746.86 C1703.6 743.1 1704.66 738.77 1704.77 735.15 C1704.88 731.52 1704.27 728.45 1703.77 725.1 C1703.26 721.76 1702.43 718.41 1701.76 715.06 Z" fill="#E81F18" fill-opacity="0.5" stroke="none"/>
<path d="M1701.76 715.06 L1725.19 715.06 C1724.52 718.41 1723.68 721.76 1723.18 725.1 C1722.68 728.45 1722.06 731.52 1722.18 735.15 C1722.29 738.77 1723.35 743.1 1723.85 746.86 C1724.35 750.63 1725.3 754.39 1725.19 757.74 C1725.08 761.09 1724.24 763.74 1723.18 766.95 C1722.12 770.15 1719.89 773.64 1718.83 776.99 C1717.77 780.33 1717.02 783.96 1716.82 787.03 C1716.62 790.1 1716.82 792.61 1717.66 795.4 C1718.49 798.19 1720.17 800.7 1721.84 803.77 C1723.51 806.83 1725.89 810.46 1727.7 813.81 C1729.51 817.15 1731.24 820.5 1732.72 823.85 C1734.2 827.2 1735.73 830.96 1736.57 833.89 C1737.41 836.82 1737.82 838.91 1737.74 841.42 C1737.66 843.93 1737.18 846.3 1736.07 848.95 C1734.95 851.6 1732.8 854.53 1731.05 857.32 C1729.29 860.11 1726.83 862.62 1725.52 865.69 C1724.21 868.76 1721.84 871.27 1723.18 875.73 C1724.52 880.2 1728.2 886.89 1733.56 892.47 C1738.91 898.05 1747.64 903.63 1755.31 909.21 C1762.98 914.78 1773.44 921.76 1779.58 925.94 C1785.72 930.13 1789.07 932.08 1792.13 934.31 C1795.2 936.54 1796.6 937.66 1797.99 939.33 C1799.39 941 1800.5 942.68 1800.5 944.35 C1800.5 946.03 1800.22 947.42 1797.99 949.37 C1795.76 951.32 1791.72 953.84 1787.11 956.07 C1782.51 958.3 1775.82 960.53 1770.38 962.76 C1764.94 964.99 1759.22 967.22 1754.48 969.46 C1749.74 971.69 1745.27 973.92 1741.92 976.15 C1738.58 978.38 1736.35 980.61 1734.39 982.85 C1732.44 985.08 1731.24 987.31 1730.21 989.54 C1729.18 991.77 1728.81 994.37 1728.2 996.23 C1727.59 998.1 1727.09 999.25 1726.53 1000.75 L1700.42 1000.75 C1699.86 999.25 1699.36 998.1 1698.74 996.23 C1698.13 994.37 1697.77 991.77 1696.74 989.54 C1695.7 987.31 1694.5 985.08 1692.55 982.85 C1690.6 980.61 1688.37 978.38 1685.02 976.15 C1681.67 973.92 1677.21 971.69 1672.47 969.46 C1667.73 967.22 1662.01 964.99 1656.57 962.76 C1651.13 960.53 1644.44 958.3 1639.83 956.07 C1635.23 953.84 1631.19 951.32 1628.95 949.37 C1626.72 947.42 1626.44 946.03 1626.44 944.35 C1626.44 942.68 1627.56 941 1628.95 939.33 C1630.35 937.66 1631.74 936.54 1634.81 934.31 C1637.88 932.08 1641.23 930.13 1647.36 925.94 C1653.5 921.76 1663.96 914.78 1671.63 909.21 C1679.3 903.63 1688.03 898.05 1693.39 892.47 C1698.74 886.89 1702.43 880.2 1703.77 875.73 C1705.1 871.27 1702.73 868.76 1701.42 865.69 C1700.11 862.62 1697.66 860.11 1695.9 857.32 C1694.14 854.53 1691.99 851.6 1690.88 848.95 C1689.76 846.3 1689.29 843.93 1689.21 841.42 C1689.12 838.91 1689.54 836.82 1690.38 833.89 C1691.21 830.96 1692.75 827.2 1694.23 823.85 C1695.7 820.5 1697.43 817.15 1699.25 813.81 C1701.06 810.46 1703.43 806.83 1705.1 803.77 C1706.78 800.7 1708.45 798.19 1709.29 795.4 C1710.13 792.61 1710.32 790.1 1710.13 787.03 C1709.93 783.96 1709.18 780.33 1708.12 776.99 C1707.06 773.64 1704.83 770.15 1703.77 766.95 C1702.71 763.74 1701.87 761.09 1701.76 757.74 C1701.65 754.39 1702.59 750.63 1703.1 746.86 C1703.6 743.1 1704.66 738.77 1704.77 735.15 C1704.88 731.52 1704.27 728.45 1703.77 725.1 C1703.26 721.76 1702.43 718.41 1701.76 715.06 Z" fill="none" stroke="#000" stroke-width="2.8" stroke-linejoin="round"/>
<line x1="1713.47" y1="820.5" x2="1713.47" y2="876.57" stroke="#000" stroke-width="2.9" stroke-linecap="butt" />
<line x1="1713.47" y1="945.52" x2="1713.47" y2="1000.75" stroke="#000" stroke-width="2.9" stroke-linecap="butt" />
<rect x="1647.87" y="876.57" width="131.21" height="68.95" fill="#E81F18" stroke="#000" stroke-width="3.3"/>
<line x1="1647.87" y1="933.81" x2="1779.08" y2="933.81" stroke="#000" stroke-width="5.3" stroke-linecap="butt" />
<g fill="#E81F18">
<ellipse cx="1681.17" cy="714.73" rx="3.25" ry="2.85"/>
<ellipse cx="1709.79" cy="759.08" rx="3.25" ry="2.85"/>
<ellipse cx="1688.2" cy="820" rx="3.25" ry="2.85"/>
<ellipse cx="1736.07" cy="841.59" rx="3.25" ry="2.85"/>
<ellipse cx="1728.87" cy="852.64" rx="3.25" ry="2.85"/>
<ellipse cx="1690.04" cy="933.81" rx="3.25" ry="2.85"/>
<ellipse cx="1692.05" cy="944.02" rx="3.25" ry="2.85"/>
<ellipse cx="1697.07" cy="944.02" rx="3.25" ry="2.85"/>
<ellipse cx="1717.15" cy="944.35" rx="3.25" ry="2.85"/>
<ellipse cx="1713.97" cy="948.2" rx="3.25" ry="2.85"/>
<ellipse cx="1694.39" cy="955.23" rx="3.25" ry="2.85"/>
<ellipse cx="1682.51" cy="963.6" rx="3.25" ry="2.85"/>
<ellipse cx="1709.62" cy="964.1" rx="3.25" ry="2.85"/>
<ellipse cx="1732.05" cy="1000.42" rx="3.25" ry="2.85"/>
</g>
<line x1="1368" y1="672.7" x2="1368" y2="1140.5" stroke="#000" stroke-width="3.1" stroke-linecap="butt" />
<line x1="1366.45" y1="1139.1" x2="1842.5" y2="1139.1" stroke="#000" stroke-width="2.8" stroke-linecap="butt" />
<line x1="1356.6" y1="771.9" x2="1368" y2="771.9" stroke="#000" stroke-width="2.8" stroke-linecap="butt" />
<text transform="translate(1348.4,785) scale(1.02,1.04)" font-size="35" text-anchor="end" fill="#000" >2</text>
<line x1="1356.6" y1="875.7" x2="1368" y2="875.7" stroke="#000" stroke-width="2.8" stroke-linecap="butt" />
<text transform="translate(1348.4,888.8) scale(1.02,1.04)" font-size="35" text-anchor="end" fill="#000" >1</text>
<line x1="1356.6" y1="979.5" x2="1368" y2="979.5" stroke="#000" stroke-width="2.8" stroke-linecap="butt" />
<text transform="translate(1348.4,992.6) scale(1.02,1.04)" font-size="35" text-anchor="end" fill="#000" >0</text>
<line x1="1356.6" y1="1083.4" x2="1368" y2="1083.4" stroke="#000" stroke-width="2.8" stroke-linecap="butt" />
<text transform="translate(1348.4,1096.5) scale(1.02,1.04)" font-size="35" text-anchor="end" fill="#000" >-1</text>
<line x1="1497.63" y1="1139.1" x2="1497.63" y2="1149.1" stroke="#000" stroke-width="2.8" stroke-linecap="butt" />
<text transform="translate(1497.63,1187.9) scale(1.02,1.04)" font-size="35" text-anchor="middle" fill="#000" >Control</text>
<line x1="1713.47" y1="1139.1" x2="1713.47" y2="1149.1" stroke="#000" stroke-width="2.8" stroke-linecap="butt" />
<text transform="translate(1713.47,1187.9) scale(1.02,1.04)" font-size="35" text-anchor="middle" fill="#000" >DN</text>
<text transform="translate(1312.9,1087.1) rotate(-90) scale(1,1.07)" font-size="35.14" text-anchor="start" fill="#000" >The expression of FN1</text>
<text transform="translate(1607.4,1226.9) scale(1.02,1.04)" font-size="34.6" text-anchor="middle" fill="#2b2b2b" >GSE30122</text>
<path d="M1497.63 709.5 V702.2 H1713.47 V709.5" fill="none" stroke="#000" stroke-width="2.8" stroke-linecap="round" stroke-linejoin="round"/>
<text transform="translate(1605.55,705.7) scale(1.02,0.91)" font-size="35.2" text-anchor="middle" fill="#000" >***</text>
</g>
<g id="B4">
<path d="M2107.94 818.67 L2127.5 818.67 C2127.62 822.52 2127.95 826.23 2127.86 830.23 C2127.77 834.23 2127.62 838.83 2126.97 842.68 C2126.32 846.53 2125.04 849.79 2123.94 853.35 C2122.85 856.9 2121.25 860.46 2120.39 864.02 C2119.53 867.57 2119.05 871.13 2118.79 874.69 C2118.52 878.24 2118.52 882.1 2118.79 885.36 C2119.05 888.62 2119.23 891.58 2120.39 894.25 C2121.54 896.91 2123.35 898.99 2125.72 901.36 C2128.09 903.73 2131.35 906.1 2134.61 908.47 C2137.87 910.84 2141.73 913.22 2145.28 915.59 C2148.84 917.96 2152.69 920.33 2155.95 922.7 C2159.21 925.07 2162.38 927.44 2164.84 929.81 C2167.3 932.18 2169.32 934.55 2170.71 936.93 C2172.11 939.3 2172.61 941.67 2173.2 944.04 C2173.79 946.41 2173.74 948.78 2174.27 951.15 C2174.8 953.52 2175.16 955.89 2176.4 958.26 C2177.65 960.64 2179.66 963.01 2181.74 965.38 C2183.81 967.75 2186.48 970.12 2188.85 972.49 C2191.22 974.86 2194.04 977.23 2195.96 979.6 C2197.89 981.97 2199.46 984.49 2200.41 986.72 C2201.36 988.94 2201.74 990.87 2201.65 992.94 C2201.56 995.01 2200.97 996.94 2199.88 999.16 C2198.78 1001.39 2196.32 1003.91 2195.07 1006.28 C2193.83 1008.65 2192.5 1011.02 2192.41 1013.39 C2192.32 1015.76 2193.3 1018.13 2194.54 1020.5 C2195.79 1022.87 2198.3 1025.25 2199.88 1027.62 C2201.45 1029.99 2203.08 1032.51 2203.97 1034.73 C2204.85 1036.95 2205.36 1038.88 2205.21 1040.95 C2205.06 1043.03 2204.62 1044.95 2203.08 1047.18 C2201.54 1049.4 2198.78 1051.92 2195.96 1054.29 C2193.15 1056.66 2189.59 1059.03 2186.18 1061.4 C2182.77 1063.77 2179.07 1066.15 2175.51 1068.52 C2171.96 1070.89 2167.81 1073.26 2164.84 1075.63 C2161.88 1078 2159.36 1080.37 2157.73 1082.74 C2156.1 1085.11 2155.36 1087.48 2155.06 1089.86 C2154.77 1092.23 2155.21 1094.6 2155.95 1096.97 C2156.69 1099.34 2158.47 1101.86 2159.51 1104.08 C2160.55 1106.3 2162.18 1108.23 2162.18 1110.3 C2162.18 1112.38 2161.14 1114.6 2159.51 1116.53 C2157.88 1118.46 2154.92 1120.23 2152.4 1121.86 C2149.88 1123.49 2147.06 1124.83 2144.39 1126.31 L2091.05 1126.31 C2088.38 1124.83 2085.56 1123.49 2083.04 1121.86 C2080.53 1120.23 2077.56 1118.46 2075.93 1116.53 C2074.3 1114.6 2073.26 1112.38 2073.26 1110.3 C2073.26 1108.23 2074.89 1106.3 2075.93 1104.08 C2076.97 1101.86 2078.75 1099.34 2079.49 1096.97 C2080.23 1094.6 2080.67 1092.23 2080.38 1089.86 C2080.08 1087.48 2079.34 1085.11 2077.71 1082.74 C2076.08 1080.37 2073.56 1078 2070.6 1075.63 C2067.63 1073.26 2063.48 1070.89 2059.93 1068.52 C2056.37 1066.15 2052.67 1063.77 2049.26 1061.4 C2045.85 1059.03 2042.29 1056.66 2039.48 1054.29 C2036.66 1051.92 2033.91 1049.4 2032.36 1047.18 C2030.82 1044.95 2030.38 1043.03 2030.23 1040.95 C2030.08 1038.88 2030.59 1036.95 2031.48 1034.73 C2032.36 1032.51 2033.99 1029.99 2035.57 1027.62 C2037.14 1025.25 2039.66 1022.87 2040.9 1020.5 C2042.14 1018.13 2043.12 1015.76 2043.03 1013.39 C2042.94 1011.02 2041.61 1008.65 2040.37 1006.28 C2039.12 1003.91 2036.66 1001.39 2035.57 999.16 C2034.47 996.94 2033.88 995.01 2033.79 992.94 C2033.7 990.87 2034.08 988.94 2035.03 986.72 C2035.98 984.49 2037.55 981.97 2039.48 979.6 C2041.4 977.23 2044.22 974.86 2046.59 972.49 C2048.96 970.12 2051.63 967.75 2053.7 965.38 C2055.78 963.01 2057.79 960.64 2059.04 958.26 C2060.28 955.89 2060.64 953.52 2061.17 951.15 C2061.71 948.78 2061.65 946.41 2062.24 944.04 C2062.83 941.67 2063.34 939.3 2064.73 936.93 C2066.12 934.55 2068.14 932.18 2070.6 929.81 C2073.06 927.44 2076.23 925.07 2079.49 922.7 C2082.75 920.33 2086.6 917.96 2090.16 915.59 C2093.71 913.22 2097.57 910.84 2100.83 908.47 C2104.09 906.1 2107.35 903.73 2109.72 901.36 C2112.09 898.99 2113.9 896.91 2115.05 894.25 C2116.21 891.58 2116.39 888.62 2116.65 885.36 C2116.92 882.1 2116.92 878.24 2116.65 874.69 C2116.39 871.13 2115.91 867.57 2115.05 864.02 C2114.19 860.46 2112.59 856.9 2111.5 853.35 C2110.4 849.79 2109.13 846.53 2108.47 842.68 C2107.82 838.83 2107.67 834.23 2107.58 830.23 C2107.5 826.23 2107.82 822.52 2107.94 818.67 Z" fill="#F2EBE0" fill-opacity="0.5" stroke="none"/>
<path d="M2107.94 818.67 L2127.5 818.67 C2127.62 822.52 2127.95 826.23 2127.86 830.23 C2127.77 834.23 2127.62 838.83 2126.97 842.68 C2126.32 846.53 2125.04 849.79 2123.94 853.35 C2122.85 856.9 2121.25 860.46 2120.39 864.02 C2119.53 867.57 2119.05 871.13 2118.79 874.69 C2118.52 878.24 2118.52 882.1 2118.79 885.36 C2119.05 888.62 2119.23 891.58 2120.39 894.25 C2121.54 896.91 2123.35 898.99 2125.72 901.36 C2128.09 903.73 2131.35 906.1 2134.61 908.47 C2137.87 910.84 2141.73 913.22 2145.28 915.59 C2148.84 917.96 2152.69 920.33 2155.95 922.7 C2159.21 925.07 2162.38 927.44 2164.84 929.81 C2167.3 932.18 2169.32 934.55 2170.71 936.93 C2172.11 939.3 2172.61 941.67 2173.2 944.04 C2173.79 946.41 2173.74 948.78 2174.27 951.15 C2174.8 953.52 2175.16 955.89 2176.4 958.26 C2177.65 960.64 2179.66 963.01 2181.74 965.38 C2183.81 967.75 2186.48 970.12 2188.85 972.49 C2191.22 974.86 2194.04 977.23 2195.96 979.6 C2197.89 981.97 2199.46 984.49 2200.41 986.72 C2201.36 988.94 2201.74 990.87 2201.65 992.94 C2201.56 995.01 2200.97 996.94 2199.88 999.16 C2198.78 1001.39 2196.32 1003.91 2195.07 1006.28 C2193.83 1008.65 2192.5 1011.02 2192.41 1013.39 C2192.32 1015.76 2193.3 1018.13 2194.54 1020.5 C2195.79 1022.87 2198.3 1025.25 2199.88 1027.62 C2201.45 1029.99 2203.08 1032.51 2203.97 1034.73 C2204.85 1036.95 2205.36 1038.88 2205.21 1040.95 C2205.06 1043.03 2204.62 1044.95 2203.08 1047.18 C2201.54 1049.4 2198.78 1051.92 2195.96 1054.29 C2193.15 1056.66 2189.59 1059.03 2186.18 1061.4 C2182.77 1063.77 2179.07 1066.15 2175.51 1068.52 C2171.96 1070.89 2167.81 1073.26 2164.84 1075.63 C2161.88 1078 2159.36 1080.37 2157.73 1082.74 C2156.1 1085.11 2155.36 1087.48 2155.06 1089.86 C2154.77 1092.23 2155.21 1094.6 2155.95 1096.97 C2156.69 1099.34 2158.47 1101.86 2159.51 1104.08 C2160.55 1106.3 2162.18 1108.23 2162.18 1110.3 C2162.18 1112.38 2161.14 1114.6 2159.51 1116.53 C2157.88 1118.46 2154.92 1120.23 2152.4 1121.86 C2149.88 1123.49 2147.06 1124.83 2144.39 1126.31 L2091.05 1126.31 C2088.38 1124.83 2085.56 1123.49 2083.04 1121.86 C2080.53 1120.23 2077.56 1118.46 2075.93 1116.53 C2074.3 1114.6 2073.26 1112.38 2073.26 1110.3 C2073.26 1108.23 2074.89 1106.3 2075.93 1104.08 C2076.97 1101.86 2078.75 1099.34 2079.49 1096.97 C2080.23 1094.6 2080.67 1092.23 2080.38 1089.86 C2080.08 1087.48 2079.34 1085.11 2077.71 1082.74 C2076.08 1080.37 2073.56 1078 2070.6 1075.63 C2067.63 1073.26 2063.48 1070.89 2059.93 1068.52 C2056.37 1066.15 2052.67 1063.77 2049.26 1061.4 C2045.85 1059.03 2042.29 1056.66 2039.48 1054.29 C2036.66 1051.92 2033.91 1049.4 2032.36 1047.18 C2030.82 1044.95 2030.38 1043.03 2030.23 1040.95 C2030.08 1038.88 2030.59 1036.95 2031.48 1034.73 C2032.36 1032.51 2033.99 1029.99 2035.57 1027.62 C2037.14 1025.25 2039.66 1022.87 2040.9 1020.5 C2042.14 1018.13 2043.12 1015.76 2043.03 1013.39 C2042.94 1011.02 2041.61 1008.65 2040.37 1006.28 C2039.12 1003.91 2036.66 1001.39 2035.57 999.16 C2034.47 996.94 2033.88 995.01 2033.79 992.94 C2033.7 990.87 2034.08 988.94 2035.03 986.72 C2035.98 984.49 2037.55 981.97 2039.48 979.6 C2041.4 977.23 2044.22 974.86 2046.59 972.49 C2048.96 970.12 2051.63 967.75 2053.7 965.38 C2055.78 963.01 2057.79 960.64 2059.04 958.26 C2060.28 955.89 2060.64 953.52 2061.17 951.15 C2061.71 948.78 2061.65 946.41 2062.24 944.04 C2062.83 941.67 2063.34 939.3 2064.73 936.93 C2066.12 934.55 2068.14 932.18 2070.6 929.81 C2073.06 927.44 2076.23 925.07 2079.49 922.7 C2082.75 920.33 2086.6 917.96 2090.16 915.59 C2093.71 913.22 2097.57 910.84 2100.83 908.47 C2104.09 906.1 2107.35 903.73 2109.72 901.36 C2112.09 898.99 2113.9 896.91 2115.05 894.25 C2116.21 891.58 2116.39 888.62 2116.65 885.36 C2116.92 882.1 2116.92 878.24 2116.65 874.69 C2116.39 871.13 2115.91 867.57 2115.05 864.02 C2114.19 860.46 2112.59 856.9 2111.5 853.35 C2110.4 849.79 2109.13 846.53 2108.47 842.68 C2107.82 838.83 2107.67 834.23 2107.58 830.23 C2107.5 826.23 2107.82 822.52 2107.94 818.67 Z" fill="none" stroke="#000" stroke-width="2.8" stroke-linejoin="round"/>
<line x1="2117.72" y1="921.81" x2="2117.72" y2="971.6" stroke="#000" stroke-width="2.9" stroke-linecap="butt" />
<line x1="2117.72" y1="1050.73" x2="2117.72" y2="1126.31" stroke="#000" stroke-width="2.9" stroke-linecap="butt" />
<rect x="2052.28" y="971.6" width="130.88" height="79.13" fill="#F2EBE0" stroke="#000" stroke-width="3.3"/>
<line x1="2052.28" y1="1010.19" x2="2183.16" y2="1010.19" stroke="#000" stroke-width="5.3" stroke-linecap="butt" />
<g fill="#F2EBE0">
<ellipse cx="2124.48" cy="818.32" rx="3.25" ry="2.85"/>
<ellipse cx="2110.25" cy="844.99" rx="3.25" ry="2.85"/>
<ellipse cx="2095.14" cy="921.45" rx="3.25" ry="2.85"/>
<ellipse cx="2085.71" cy="933.9" rx="3.25" ry="2.85"/>
<ellipse cx="2107.94" cy="933.9" rx="3.25" ry="2.85"/>
<ellipse cx="2117.01" cy="936.57" rx="3.25" ry="2.85"/>
<ellipse cx="2093.36" cy="944.04" rx="3.25" ry="2.85"/>
<ellipse cx="2097.45" cy="944.04" rx="3.25" ry="2.85"/>
<ellipse cx="2146.35" cy="945.82" rx="3.25" ry="2.85"/>
<ellipse cx="2101.36" cy="959.51" rx="3.25" ry="2.85"/>
<ellipse cx="2087.67" cy="962.18" rx="3.25" ry="2.85"/>
<ellipse cx="2088.38" cy="970.18" rx="3.25" ry="2.85"/>
<ellipse cx="2117.36" cy="969.82" rx="3.25" ry="2.85"/>
<ellipse cx="2113.81" cy="1008.06" rx="3.25" ry="2.85"/>
<ellipse cx="2112.03" cy="1011.61" rx="3.25" ry="2.85"/>
<ellipse cx="2094.25" cy="1054.29" rx="3.25" ry="2.85"/>
<ellipse cx="2099.94" cy="1054.65" rx="3.25" ry="2.85"/>
<ellipse cx="2105.27" cy="1051.09" rx="3.25" ry="2.85"/>
<ellipse cx="2124.48" cy="1048.96" rx="3.25" ry="2.85"/>
<ellipse cx="2141.73" cy="1048.07" rx="3.25" ry="2.85"/>
<ellipse cx="2126.61" cy="1066.2" rx="3.25" ry="2.85"/>
<ellipse cx="2097.27" cy="1075.98" rx="3.25" ry="2.85"/>
<ellipse cx="2131.06" cy="1077.41" rx="3.25" ry="2.85"/>
<ellipse cx="2132.84" cy="1090.21" rx="3.25" ry="2.85"/>
<ellipse cx="2100.12" cy="1100.88" rx="3.25" ry="2.85"/>
<ellipse cx="2111.67" cy="1106.21" rx="3.25" ry="2.85"/>
<ellipse cx="2129.46" cy="1104.61" rx="3.25" ry="2.85"/>
<ellipse cx="2103.14" cy="1113.86" rx="3.25" ry="2.85"/>
<ellipse cx="2123.94" cy="1114.75" rx="3.25" ry="2.85"/>
<ellipse cx="2090.34" cy="1126.31" rx="3.25" ry="2.85"/>
</g>
<path d="M2315.65 714.69 L2349.92 714.69 C2350.04 717.95 2350.33 720.96 2350.3 724.48 C2350.26 727.99 2350.2 732.01 2349.73 735.77 C2349.26 739.54 2348.73 743.31 2347.47 747.07 C2346.22 750.84 2344.02 754.6 2342.2 758.37 C2340.38 762.14 2337.9 766.21 2336.55 769.67 C2335.2 773.12 2334.54 775 2334.1 779.08 C2333.66 783.16 2333.91 789.12 2333.91 794.14 C2333.91 799.17 2333.66 805.44 2334.1 809.21 C2334.54 812.97 2335.36 814.23 2336.55 816.74 C2337.74 819.25 2339.53 821.76 2341.26 824.27 C2342.98 826.78 2344.87 829.29 2346.91 831.8 C2348.95 834.31 2351.61 836.82 2353.5 839.33 C2355.38 841.84 2356.79 844.35 2358.2 846.86 C2359.62 849.38 2361.03 851.89 2361.97 854.4 C2362.91 856.91 2362.91 859.42 2363.85 861.93 C2364.79 864.44 2365.26 866.95 2367.62 869.46 C2369.97 871.97 2373.74 874.48 2377.97 876.99 C2382.21 879.5 2388.33 882.01 2393.04 884.52 C2397.74 887.03 2402.77 889.54 2406.22 892.05 C2409.67 894.56 2411.71 897.08 2413.75 899.59 C2415.79 902.1 2417.51 905.23 2418.46 907.12 C2419.4 909 2419.71 909.31 2419.4 910.88 C2419.08 912.45 2418.46 914.34 2416.57 916.53 C2414.69 918.73 2411.08 921.55 2408.1 924.06 C2405.12 926.57 2402.14 928.14 2398.69 931.59 C2395.23 935.05 2391 940.38 2387.39 944.77 C2383.78 949.17 2379.39 954.5 2377.03 957.96 C2374.68 961.41 2374.37 962.98 2373.27 965.49 C2372.17 968 2371.7 970.19 2370.44 973.02 C2369.19 975.84 2367.3 979.29 2365.74 982.43 C2364.17 985.57 2361.97 989.02 2361.03 991.85 C2360.09 994.67 2359.62 996.87 2360.09 999.38 C2360.56 1001.89 2362.28 1004.4 2363.85 1006.91 C2365.42 1009.42 2368.15 1012.25 2369.5 1014.44 C2370.85 1016.64 2371.79 1018.21 2371.95 1020.09 C2372.11 1021.97 2371.38 1023.86 2370.44 1025.74 C2369.5 1027.62 2367.34 1030.2 2366.3 1031.39 C2365.26 1032.58 2364.92 1032.39 2364.23 1032.89 L2301.34 1032.89 C2300.65 1032.39 2300.31 1032.58 2299.27 1031.39 C2298.23 1030.2 2296.07 1027.62 2295.13 1025.74 C2294.19 1023.86 2293.46 1021.97 2293.62 1020.09 C2293.78 1018.21 2294.72 1016.64 2296.07 1014.44 C2297.42 1012.25 2300.15 1009.42 2301.72 1006.91 C2303.29 1004.4 2305.01 1001.89 2305.48 999.38 C2305.95 996.87 2305.48 994.67 2304.54 991.85 C2303.6 989.02 2301.4 985.57 2299.83 982.43 C2298.27 979.29 2296.38 975.84 2295.13 973.02 C2293.87 970.19 2293.4 968 2292.3 965.49 C2291.2 962.98 2290.89 961.41 2288.54 957.96 C2286.18 954.5 2281.79 949.17 2278.18 944.77 C2274.57 940.38 2270.34 935.05 2266.88 931.59 C2263.43 928.14 2260.45 926.57 2257.47 924.06 C2254.49 921.55 2250.88 918.73 2249 916.53 C2247.11 914.34 2246.49 912.45 2246.17 910.88 C2245.86 909.31 2246.17 909 2247.11 907.12 C2248.05 905.23 2249.78 902.1 2251.82 899.59 C2253.86 897.08 2255.9 894.56 2259.35 892.05 C2262.8 889.54 2267.83 887.03 2272.53 884.52 C2277.24 882.01 2283.36 879.5 2287.6 876.99 C2291.83 874.48 2295.6 871.97 2297.95 869.46 C2300.31 866.95 2300.78 864.44 2301.72 861.93 C2302.66 859.42 2302.66 856.91 2303.6 854.4 C2304.54 851.89 2305.95 849.38 2307.37 846.86 C2308.78 844.35 2310.19 841.84 2312.07 839.33 C2313.96 836.82 2316.62 834.31 2318.66 831.8 C2320.7 829.29 2322.59 826.78 2324.31 824.27 C2326.04 821.76 2327.83 819.25 2329.02 816.74 C2330.21 814.23 2331.03 812.97 2331.47 809.21 C2331.91 805.44 2331.66 799.17 2331.66 794.14 C2331.66 789.12 2331.91 783.16 2331.47 779.08 C2331.03 775 2330.37 773.12 2329.02 769.67 C2327.67 766.21 2325.19 762.14 2323.37 758.37 C2321.55 754.6 2319.35 750.84 2318.1 747.07 C2316.84 743.31 2316.31 739.54 2315.84 735.77 C2315.37 732.01 2315.31 727.99 2315.27 724.48 C2315.24 720.96 2315.53 717.95 2315.65 714.69 Z" fill="#AC9FD0" fill-opacity="0.5" stroke="none"/>
<path d="M2315.65 714.69 L2349.92 714.69 C2350.04 717.95 2350.33 720.96 2350.3 724.48 C2350.26 727.99 2350.2 732.01 2349.73 735.77 C2349.26 739.54 2348.73 743.31 2347.47 747.07 C2346.22 750.84 2344.02 754.6 2342.2 758.37 C2340.38 762.14 2337.9 766.21 2336.55 769.67 C2335.2 773.12 2334.54 775 2334.1 779.08 C2333.66 783.16 2333.91 789.12 2333.91 794.14 C2333.91 799.17 2333.66 805.44 2334.1 809.21 C2334.54 812.97 2335.36 814.23 2336.55 816.74 C2337.74 819.25 2339.53 821.76 2341.26 824.27 C2342.98 826.78 2344.87 829.29 2346.91 831.8 C2348.95 834.31 2351.61 836.82 2353.5 839.33 C2355.38 841.84 2356.79 844.35 2358.2 846.86 C2359.62 849.38 2361.03 851.89 2361.97 854.4 C2362.91 856.91 2362.91 859.42 2363.85 861.93 C2364.79 864.44 2365.26 866.95 2367.62 869.46 C2369.97 871.97 2373.74 874.48 2377.97 876.99 C2382.21 879.5 2388.33 882.01 2393.04 884.52 C2397.74 887.03 2402.77 889.54 2406.22 892.05 C2409.67 894.56 2411.71 897.08 2413.75 899.59 C2415.79 902.1 2417.51 905.23 2418.46 907.12 C2419.4 909 2419.71 909.31 2419.4 910.88 C2419.08 912.45 2418.46 914.34 2416.57 916.53 C2414.69 918.73 2411.08 921.55 2408.1 924.06 C2405.12 926.57 2402.14 928.14 2398.69 931.59 C2395.23 935.05 2391 940.38 2387.39 944.77 C2383.78 949.17 2379.39 954.5 2377.03 957.96 C2374.68 961.41 2374.37 962.98 2373.27 965.49 C2372.17 968 2371.7 970.19 2370.44 973.02 C2369.19 975.84 2367.3 979.29 2365.74 982.43 C2364.17 985.57 2361.97 989.02 2361.03 991.85 C2360.09 994.67 2359.62 996.87 2360.09 999.38 C2360.56 1001.89 2362.28 1004.4 2363.85 1006.91 C2365.42 1009.42 2368.15 1012.25 2369.5 1014.44 C2370.85 1016.64 2371.79 1018.21 2371.95 1020.09 C2372.11 1021.97 2371.38 1023.86 2370.44 1025.74 C2369.5 1027.62 2367.34 1030.2 2366.3 1031.39 C2365.26 1032.58 2364.92 1032.39 2364.23 1032.89 L2301.34 1032.89 C2300.65 1032.39 2300.31 1032.58 2299.27 1031.39 C2298.23 1030.2 2296.07 1027.62 2295.13 1025.74 C2294.19 1023.86 2293.46 1021.97 2293.62 1020.09 C2293.78 1018.21 2294.72 1016.64 2296.07 1014.44 C2297.42 1012.25 2300.15 1009.42 2301.72 1006.91 C2303.29 1004.4 2305.01 1001.89 2305.48 999.38 C2305.95 996.87 2305.48 994.67 2304.54 991.85 C2303.6 989.02 2301.4 985.57 2299.83 982.43 C2298.27 979.29 2296.38 975.84 2295.13 973.02 C2293.87 970.19 2293.4 968 2292.3 965.49 C2291.2 962.98 2290.89 961.41 2288.54 957.96 C2286.18 954.5 2281.79 949.17 2278.18 944.77 C2274.57 940.38 2270.34 935.05 2266.88 931.59 C2263.43 928.14 2260.45 926.57 2257.47 924.06 C2254.49 921.55 2250.88 918.73 2249 916.53 C2247.11 914.34 2246.49 912.45 2246.17 910.88 C2245.86 909.31 2246.17 909 2247.11 907.12 C2248.05 905.23 2249.78 902.1 2251.82 899.59 C2253.86 897.08 2255.9 894.56 2259.35 892.05 C2262.8 889.54 2267.83 887.03 2272.53 884.52 C2277.24 882.01 2283.36 879.5 2287.6 876.99 C2291.83 874.48 2295.6 871.97 2297.95 869.46 C2300.31 866.95 2300.78 864.44 2301.72 861.93 C2302.66 859.42 2302.66 856.91 2303.6 854.4 C2304.54 851.89 2305.95 849.38 2307.37 846.86 C2308.78 844.35 2310.19 841.84 2312.07 839.33 C2313.96 836.82 2316.62 834.31 2318.66 831.8 C2320.7 829.29 2322.59 826.78 2324.31 824.27 C2326.04 821.76 2327.83 819.25 2329.02 816.74 C2330.21 814.23 2331.03 812.97 2331.47 809.21 C2331.91 805.44 2331.66 799.17 2331.66 794.14 C2331.66 789.12 2331.91 783.16 2331.47 779.08 C2331.03 775 2330.37 773.12 2329.02 769.67 C2327.67 766.21 2325.19 762.14 2323.37 758.37 C2321.55 754.6 2319.35 750.84 2318.1 747.07 C2316.84 743.31 2316.31 739.54 2315.84 735.77 C2315.37 732.01 2315.31 727.99 2315.27 724.48 C2315.24 720.96 2315.53 717.95 2315.65 714.69 Z" fill="none" stroke="#000" stroke-width="2.8" stroke-linejoin="round"/>
<line x1="2332.78" y1="847.81" x2="2332.78" y2="893.37" stroke="#000" stroke-width="2.9" stroke-linecap="butt" />
<line x1="2332.78" y1="963.6" x2="2332.78" y2="1032.89" stroke="#000" stroke-width="2.9" stroke-linecap="butt" />
<rect x="2267.45" y="893.37" width="130.67" height="70.23" fill="#AC9FD0" stroke="#000" stroke-width="3.3"/>
<line x1="2267.45" y1="915.59" x2="2398.12" y2="915.59" stroke="#000" stroke-width="5.3" stroke-linecap="butt" />
<g fill="#AC9FD0">
<ellipse cx="2330.34" cy="714.69" rx="3.25" ry="2.85"/>
<ellipse cx="2357.07" cy="746.13" rx="3.25" ry="2.85"/>
<ellipse cx="2354.06" cy="847.24" rx="3.25" ry="2.85"/>
<ellipse cx="2312.64" cy="862.3" rx="3.25" ry="2.85"/>
<ellipse cx="2311.7" cy="886.78" rx="3.25" ry="2.85"/>
<ellipse cx="2358.96" cy="915.59" rx="3.25" ry="2.85"/>
<ellipse cx="2310" cy="978.1" rx="3.25" ry="2.85"/>
<ellipse cx="2346.91" cy="976.6" rx="3.25" ry="2.85"/>
<ellipse cx="2333.73" cy="1015.19" rx="3.25" ry="2.85"/>
<ellipse cx="2338.25" cy="1017.64" rx="3.25" ry="2.85"/>
<ellipse cx="2343.89" cy="1032.71" rx="3.25" ry="2.85"/>
</g>
<line x1="1988.9" y1="672.7" x2="1988.9" y2="1140.5" stroke="#000" stroke-width="3.1" stroke-linecap="butt" />
<line x1="1987.35" y1="1139.1" x2="2463.4" y2="1139.1" stroke="#000" stroke-width="2.8" stroke-linecap="butt" />
<line x1="1977.5" y1="722.2" x2="1988.9" y2="722.2" stroke="#000" stroke-width="2.8" stroke-linecap="butt" />
<text transform="translate(1970.5,735.3) scale(1.02,1.04)" font-size="35" text-anchor="end" fill="#000" >3</text>
<line x1="1977.5" y1="812.8" x2="1988.9" y2="812.8" stroke="#000" stroke-width="2.8" stroke-linecap="butt" />
<text transform="translate(1970.5,825.9) scale(1.02,1.04)" font-size="35" text-anchor="end" fill="#000" >2</text>
<line x1="1977.5" y1="903.3" x2="1988.9" y2="903.3" stroke="#000" stroke-width="2.8" stroke-linecap="butt" />
<text transform="translate(1970.5,916.4) scale(1.02,1.04)" font-size="35" text-anchor="end" fill="#000" >1</text>
<line x1="1977.5" y1="993.6" x2="1988.9" y2="993.6" stroke="#000" stroke-width="2.8" stroke-linecap="butt" />
<text transform="translate(1970.5,1006.7) scale(1.02,1.04)" font-size="35" text-anchor="end" fill="#000" >0</text>
<line x1="1977.5" y1="1084.1" x2="1988.9" y2="1084.1" stroke="#000" stroke-width="2.8" stroke-linecap="butt" />
<text transform="translate(1970.5,1097.2) scale(1.02,1.04)" font-size="35" text-anchor="end" fill="#000" >-1</text>
<line x1="2117.72" y1="1139.1" x2="2117.72" y2="1149.1" stroke="#000" stroke-width="2.8" stroke-linecap="butt" />
<text transform="translate(2117.72,1187.9) scale(1.02,1.04)" font-size="35" text-anchor="middle" fill="#000" >Control</text>
<line x1="2332.78" y1="1139.1" x2="2332.78" y2="1149.1" stroke="#000" stroke-width="2.8" stroke-linecap="butt" />
<text transform="translate(2332.78,1187.9) scale(1.02,1.04)" font-size="35" text-anchor="middle" fill="#000" >DN</text>
<text transform="translate(1931,1098.9) rotate(-90) scale(1,1.07)" font-size="35.47" text-anchor="start" fill="#000" >The expression of CCL2</text>
<text transform="translate(2228.3,1226.9) scale(1.02,1.04)" font-size="34.6" text-anchor="middle" fill="#2b2b2b" >GSE30122</text>
<path d="M2117.72 709.5 V702.2 H2332.78 V709.5" fill="none" stroke="#000" stroke-width="2.8" stroke-linecap="round" stroke-linejoin="round"/>
<text transform="translate(2225.25,705.7) scale(1.02,0.91)" font-size="35.2" text-anchor="middle" fill="#000" >***</text>
</g>
<g id="C1">
<clipPath id="cpC1"><rect x="159.6" y="1293.7" width="444.5" height="419.8"/></clipPath>
<g clip-path="url(#cpC1)">
<line x1="163.9" y1="1293.7" x2="163.9" y2="1713.5" stroke="#EBEBEB" stroke-width="3.5" stroke-linecap="butt" />
<line x1="159.6" y1="1713.5" x2="604.1" y2="1713.5" stroke="#EBEBEB" stroke-width="3.5" stroke-linecap="butt" />
<line x1="207.92" y1="1293.7" x2="207.92" y2="1713.5" stroke="#EBEBEB" stroke-width="1.7" stroke-linecap="butt" />
<line x1="159.6" y1="1671.92" x2="604.1" y2="1671.92" stroke="#EBEBEB" stroke-width="1.7" stroke-linecap="butt" />
<line x1="251.94" y1="1293.7" x2="251.94" y2="1713.5" stroke="#EBEBEB" stroke-width="3.5" stroke-linecap="butt" />
<line x1="159.6" y1="1630.34" x2="604.1" y2="1630.34" stroke="#EBEBEB" stroke-width="3.5" stroke-linecap="butt" />
<line x1="295.96" y1="1293.7" x2="295.96" y2="1713.5" stroke="#EBEBEB" stroke-width="1.7" stroke-linecap="butt" />
<line x1="159.6" y1="1588.76" x2="604.1" y2="1588.76" stroke="#EBEBEB" stroke-width="1.7" stroke-linecap="butt" />
<line x1="339.98" y1="1293.7" x2="339.98" y2="1713.5" stroke="#EBEBEB" stroke-width="3.5" stroke-linecap="butt" />
<line x1="159.6" y1="1547.18" x2="604.1" y2="1547.18" stroke="#EBEBEB" stroke-width="3.5" stroke-linecap="butt" />
<line x1="384" y1="1293.7" x2="384" y2="1713.5" stroke="#EBEBEB" stroke-width="1.7" stroke-linecap="butt" />
<line x1="159.6" y1="1505.6" x2="604.1" y2="1505.6" stroke="#EBEBEB" stroke-width="1.7" stroke-linecap="butt" />
<line x1="428.02" y1="1293.7" x2="428.02" y2="1713.5" stroke="#EBEBEB" stroke-width="3.5" stroke-linecap="butt" />
<line x1="159.6" y1="1464.02" x2="604.1" y2="1464.02" stroke="#EBEBEB" stroke-width="3.5" stroke-linecap="butt" />
<line x1="472.04" y1="1293.7" x2="472.04" y2="1713.5" stroke="#EBEBEB" stroke-width="1.7" stroke-linecap="butt" />
<line x1="159.6" y1="1422.44" x2="604.1" y2="1422.44" stroke="#EBEBEB" stroke-width="1.7" stroke-linecap="butt" />
<line x1="516.06" y1="1293.7" x2="516.06" y2="1713.5" stroke="#EBEBEB" stroke-width="3.5" stroke-linecap="butt" />
<line x1="159.6" y1="1380.86" x2="604.1" y2="1380.86" stroke="#EBEBEB" stroke-width="3.5" stroke-linecap="butt" />
<line x1="560.08" y1="1293.7" x2="560.08" y2="1713.5" stroke="#EBEBEB" stroke-width="1.7" stroke-linecap="butt" />
<line x1="159.6" y1="1339.28" x2="604.1" y2="1339.28" stroke="#EBEBEB" stroke-width="1.7" stroke-linecap="butt" />
<line x1="604.1" y1="1293.7" x2="604.1" y2="1713.5" stroke="#EBEBEB" stroke-width="3.5" stroke-linecap="butt" />
<line x1="159.6" y1="1297.7" x2="604.1" y2="1297.7" stroke="#EBEBEB" stroke-width="3.5" stroke-linecap="butt" />
<line x1="163.9" y1="1713.5" x2="604.1" y2="1297.7" stroke="#7f7f7f" stroke-width="2.6" stroke-linecap="butt" stroke-dasharray="11.5 11.5"/>
<path d="M163.9 1713.5 L163.9 1419.4 L185.91 1419.4 L185.91 1399.11 L207.92 1399.11 L207.92 1388.97 L251.94 1388.97 L251.94 1338.27 L384 1338.27 L384 1328.12 L450.03 1328.12 L450.03 1307.84 L560.08 1307.84 L560.08 1297.7 L604.1 1297.7 L604.1 1713.5 L163.9 1713.5 Z" fill="#F5A11A" fill-opacity="0.11" stroke="none"/>
<path d="M163.9 1713.5 L163.9 1419.4 L185.91 1419.4 L185.91 1399.11 L207.92 1399.11 L207.92 1388.97 L251.94 1388.97 L251.94 1338.27 L384 1338.27 L384 1328.12 L450.03 1328.12 L450.03 1307.84 L560.08 1307.84 L560.08 1297.7 L604.1 1297.7" fill="none" stroke="#F5A11A" stroke-width="2.7" stroke-linejoin="miter"/>
</g>
<line x1="159.6" y1="1292.35" x2="159.6" y2="1714.9" stroke="#000" stroke-width="3.1" stroke-linecap="butt" />
<line x1="604.1" y1="1292.35" x2="604.1" y2="1714.9" stroke="#000" stroke-width="3.1" stroke-linecap="butt" />
<line x1="159.6" y1="1293.7" x2="604.1" y2="1293.7" stroke="#000" stroke-width="2.7" stroke-linecap="butt" />
<line x1="159.6" y1="1713.5" x2="604.1" y2="1713.5" stroke="#000" stroke-width="2.8" stroke-linecap="butt" />
<line x1="163.9" y1="1713.5" x2="163.9" y2="1723.4" stroke="#000" stroke-width="2.8" stroke-linecap="butt" />
<text transform="translate(165.1,1762.1) scale(1.02,1.04)" font-size="35" text-anchor="middle" fill="#000" >0.0</text>
<line x1="148.2" y1="1713.5" x2="159.6" y2="1713.5" stroke="#000" stroke-width="2.8" stroke-linecap="butt" />
<text transform="translate(137,1724.1) scale(1.02,1.04)" font-size="35" text-anchor="end" fill="#000" >0.0</text>
<line x1="251.94" y1="1713.5" x2="251.94" y2="1723.4" stroke="#000" stroke-width="2.8" stroke-linecap="butt" />
<text transform="translate(253.14,1762.1) scale(1.02,1.04)" font-size="35" text-anchor="middle" fill="#000" >0.2</text>
<line x1="148.2" y1="1630.34" x2="159.6" y2="1630.34" stroke="#000" stroke-width="2.8" stroke-linecap="butt" />
<text transform="translate(137,1640.94) scale(1.02,1.04)" font-size="35" text-anchor="end" fill="#000" >0.2</text>
<line x1="339.98" y1="1713.5" x2="339.98" y2="1723.4" stroke="#000" stroke-width="2.8" stroke-linecap="butt" />
<text transform="translate(341.18,1762.1) scale(1.02,1.04)" font-size="35" text-anchor="middle" fill="#000" >0.4</text>
<line x1="148.2" y1="1547.18" x2="159.6" y2="1547.18" stroke="#000" stroke-width="2.8" stroke-linecap="butt" />
<text transform="translate(137,1557.78) scale(1.02,1.04)" font-size="35" text-anchor="end" fill="#000" >0.4</text>
<line x1="428.02" y1="1713.5" x2="428.02" y2="1723.4" stroke="#000" stroke-width="2.8" stroke-linecap="butt" />
<text transform="translate(429.22,1762.1) scale(1.02,1.04)" font-size="35" text-anchor="middle" fill="#000" >0.6</text>
<line x1="148.2" y1="1464.02" x2="159.6" y2="1464.02" stroke="#000" stroke-width="2.8" stroke-linecap="butt" />
<text transform="translate(137,1474.62) scale(1.02,1.04)" font-size="35" text-anchor="end" fill="#000" >0.6</text>
<line x1="516.06" y1="1713.5" x2="516.06" y2="1723.4" stroke="#000" stroke-width="2.8" stroke-linecap="butt" />
<text transform="translate(517.26,1762.1) scale(1.02,1.04)" font-size="35" text-anchor="middle" fill="#000" >0.8</text>
<line x1="148.2" y1="1380.86" x2="159.6" y2="1380.86" stroke="#000" stroke-width="2.8" stroke-linecap="butt" />
<text transform="translate(137,1391.46) scale(1.02,1.04)" font-size="35" text-anchor="end" fill="#000" >0.8</text>
<line x1="604.1" y1="1713.5" x2="604.1" y2="1723.4" stroke="#000" stroke-width="2.8" stroke-linecap="butt" />
<text transform="translate(605.3,1762.1) scale(1.02,1.04)" font-size="35" text-anchor="middle" fill="#000" >1.0</text>
<line x1="148.2" y1="1297.7" x2="159.6" y2="1297.7" stroke="#000" stroke-width="2.8" stroke-linecap="butt" />
<text transform="translate(137,1308.3) scale(1.02,1.04)" font-size="35" text-anchor="end" fill="#000" >1.0</text>
<text transform="translate(381.85,1801.5) scale(1.02,1.04)" font-size="34.8" text-anchor="middle" fill="#000" >1-Specificity (FPR)</text>
<text transform="translate(75.9,1507.8) rotate(-90) scale(1,1.07)" font-size="35" text-anchor="middle" fill="#000" >Swnsiticity (TPR)</text>
<text transform="translate(369.6,1840) scale(1.02,1.04)" font-size="34.6" text-anchor="middle" fill="#000" >GSE96804</text>
<text transform="translate(598.5,1638.5) scale(1.02,1.04)" font-size="34.7" text-anchor="end" fill="#000" >COLA2</text>
<text transform="translate(598.5,1673.4) scale(1.02,1.04)" font-size="34.7" text-anchor="end" fill="#000" >AUC:0.905</text>
<text transform="translate(598.5,1708.3) scale(1.02,1.04)" font-size="34.7" text-anchor="end" fill="#000" >CI:0.831-0.979</text>
</g>
<g id="C2">
<clipPath id="cpC2"><rect x="777.6" y="1293.7" width="444.5" height="419.8"/></clipPath>
<g clip-path="url(#cpC2)">
<line x1="781.9" y1="1293.7" x2="781.9" y2="1713.5" stroke="#EBEBEB" stroke-width="3.5" stroke-linecap="butt" />
<line x1="777.6" y1="1713.5" x2="1222.1" y2="1713.5" stroke="#EBEBEB" stroke-width="3.5" stroke-linecap="butt" />
<line x1="825.92" y1="1293.7" x2="825.92" y2="1713.5" stroke="#EBEBEB" stroke-width="1.7" stroke-linecap="butt" />
<line x1="777.6" y1="1671.92" x2="1222.1" y2="1671.92" stroke="#EBEBEB" stroke-width="1.7" stroke-linecap="butt" />
<line x1="869.94" y1="1293.7" x2="869.94" y2="1713.5" stroke="#EBEBEB" stroke-width="3.5" stroke-linecap="butt" />
<line x1="777.6" y1="1630.34" x2="1222.1" y2="1630.34" stroke="#EBEBEB" stroke-width="3.5" stroke-linecap="butt" />
<line x1="913.96" y1="1293.7" x2="913.96" y2="1713.5" stroke="#EBEBEB" stroke-width="1.7" stroke-linecap="butt" />
<line x1="777.6" y1="1588.76" x2="1222.1" y2="1588.76" stroke="#EBEBEB" stroke-width="1.7" stroke-linecap="butt" />
<line x1="957.98" y1="1293.7" x2="957.98" y2="1713.5" stroke="#EBEBEB" stroke-width="3.5" stroke-linecap="butt" />
<line x1="777.6" y1="1547.18" x2="1222.1" y2="1547.18" stroke="#EBEBEB" stroke-width="3.5" stroke-linecap="butt" />
<line x1="1002" y1="1293.7" x2="1002" y2="1713.5" stroke="#EBEBEB" stroke-width="1.7" stroke-linecap="butt" />
<line x1="777.6" y1="1505.6" x2="1222.1" y2="1505.6" stroke="#EBEBEB" stroke-width="1.7" stroke-linecap="butt" />
<line x1="1046.02" y1="1293.7" x2="1046.02" y2="1713.5" stroke="#EBEBEB" stroke-width="3.5" stroke-linecap="butt" />
<line x1="777.6" y1="1464.02" x2="1222.1" y2="1464.02" stroke="#EBEBEB" stroke-width="3.5" stroke-linecap="butt" />
<line x1="1090.04" y1="1293.7" x2="1090.04" y2="1713.5" stroke="#EBEBEB" stroke-width="1.7" stroke-linecap="butt" />
<line x1="777.6" y1="1422.44" x2="1222.1" y2="1422.44" stroke="#EBEBEB" stroke-width="1.7" stroke-linecap="butt" />
<line x1="1134.06" y1="1293.7" x2="1134.06" y2="1713.5" stroke="#EBEBEB" stroke-width="3.5" stroke-linecap="butt" />
<line x1="777.6" y1="1380.86" x2="1222.1" y2="1380.86" stroke="#EBEBEB" stroke-width="3.5" stroke-linecap="butt" />
<line x1="1178.08" y1="1293.7" x2="1178.08" y2="1713.5" stroke="#EBEBEB" stroke-width="1.7" stroke-linecap="butt" />
<line x1="777.6" y1="1339.28" x2="1222.1" y2="1339.28" stroke="#EBEBEB" stroke-width="1.7" stroke-linecap="butt" />
<line x1="1222.1" y1="1293.7" x2="1222.1" y2="1713.5" stroke="#EBEBEB" stroke-width="3.5" stroke-linecap="butt" />
<line x1="777.6" y1="1297.7" x2="1222.1" y2="1297.7" stroke="#EBEBEB" stroke-width="3.5" stroke-linecap="butt" />
<line x1="781.9" y1="1713.5" x2="1222.1" y2="1297.7" stroke="#7f7f7f" stroke-width="2.6" stroke-linecap="butt" stroke-dasharray="11.5 11.5"/>
<path d="M781.9 1713.5 L781.9 1703.36 L803.91 1703.36 L803.91 1612.09 L825.92 1612.09 L825.92 1490.39 L847.93 1490.39 L847.93 1470.1 L891.95 1470.1 L891.95 1449.82 L913.96 1449.82 L913.96 1439.68 L1002 1439.68 L1002 1388.97 L1046.02 1388.97 L1046.02 1378.83 L1112.05 1378.83 L1112.05 1368.69 L1134.06 1368.69 L1134.06 1348.41 L1156.07 1348.41 L1156.07 1338.27 L1222.1 1338.27 L1222.1 1713.5 L781.9 1713.5 Z" fill="#F6B8C5" fill-opacity="0.11" stroke="none"/>
<path d="M781.9 1713.5 L781.9 1703.36 L803.91 1703.36 L803.91 1612.09 L825.92 1612.09 L825.92 1490.39 L847.93 1490.39 L847.93 1470.1 L891.95 1470.1 L891.95 1449.82 L913.96 1449.82 L913.96 1439.68 L1002 1439.68 L1002 1388.97 L1046.02 1388.97 L1046.02 1378.83 L1112.05 1378.83 L1112.05 1368.69 L1134.06 1368.69 L1134.06 1348.41 L1156.07 1348.41 L1156.07 1338.27 L1222.1 1338.27" fill="none" stroke="#F6B8C5" stroke-width="2.7" stroke-linejoin="miter"/>
</g>
<line x1="777.6" y1="1292.35" x2="777.6" y2="1714.9" stroke="#000" stroke-width="3.1" stroke-linecap="butt" />
<line x1="1222.1" y1="1292.35" x2="1222.1" y2="1714.9" stroke="#000" stroke-width="3.1" stroke-linecap="butt" />
<line x1="777.6" y1="1293.7" x2="1222.1" y2="1293.7" stroke="#000" stroke-width="2.7" stroke-linecap="butt" />
<line x1="777.6" y1="1713.5" x2="1222.1" y2="1713.5" stroke="#000" stroke-width="2.8" stroke-linecap="butt" />
<line x1="781.9" y1="1713.5" x2="781.9" y2="1723.4" stroke="#000" stroke-width="2.8" stroke-linecap="butt" />
<text transform="translate(783.1,1762.1) scale(1.02,1.04)" font-size="35" text-anchor="middle" fill="#000" >0.0</text>
<line x1="766.2" y1="1713.5" x2="777.6" y2="1713.5" stroke="#000" stroke-width="2.8" stroke-linecap="butt" />
<text transform="translate(755,1724.1) scale(1.02,1.04)" font-size="35" text-anchor="end" fill="#000" >0.0</text>
<line x1="869.94" y1="1713.5" x2="869.94" y2="1723.4" stroke="#000" stroke-width="2.8" stroke-linecap="butt" />
<text transform="translate(871.14,1762.1) scale(1.02,1.04)" font-size="35" text-anchor="middle" fill="#000" >0.2</text>
<line x1="766.2" y1="1630.34" x2="777.6" y2="1630.34" stroke="#000" stroke-width="2.8" stroke-linecap="butt" />
<text transform="translate(755,1640.94) scale(1.02,1.04)" font-size="35" text-anchor="end" fill="#000" >0.2</text>
<line x1="957.98" y1="1713.5" x2="957.98" y2="1723.4" stroke="#000" stroke-width="2.8" stroke-linecap="butt" />
<text transform="translate(959.18,1762.1) scale(1.02,1.04)" font-size="35" text-anchor="middle" fill="#000" >0.4</text>
<line x1="766.2" y1="1547.18" x2="777.6" y2="1547.18" stroke="#000" stroke-width="2.8" stroke-linecap="butt" />
<text transform="translate(755,1557.78) scale(1.02,1.04)" font-size="35" text-anchor="end" fill="#000" >0.4</text>
<line x1="1046.02" y1="1713.5" x2="1046.02" y2="1723.4" stroke="#000" stroke-width="2.8" stroke-linecap="butt" />
<text transform="translate(1047.22,1762.1) scale(1.02,1.04)" font-size="35" text-anchor="middle" fill="#000" >0.6</text>
<line x1="766.2" y1="1464.02" x2="777.6" y2="1464.02" stroke="#000" stroke-width="2.8" stroke-linecap="butt" />
<text transform="translate(755,1474.62) scale(1.02,1.04)" font-size="35" text-anchor="end" fill="#000" >0.6</text>
<line x1="1134.06" y1="1713.5" x2="1134.06" y2="1723.4" stroke="#000" stroke-width="2.8" stroke-linecap="butt" />
<text transform="translate(1135.26,1762.1) scale(1.02,1.04)" font-size="35" text-anchor="middle" fill="#000" >0.8</text>
<line x1="766.2" y1="1380.86" x2="777.6" y2="1380.86" stroke="#000" stroke-width="2.8" stroke-linecap="butt" />
<text transform="translate(755,1391.46) scale(1.02,1.04)" font-size="35" text-anchor="end" fill="#000" >0.8</text>
<line x1="1222.1" y1="1713.5" x2="1222.1" y2="1723.4" stroke="#000" stroke-width="2.8" stroke-linecap="butt" />
<text transform="translate(1223.3,1762.1) scale(1.02,1.04)" font-size="35" text-anchor="middle" fill="#000" >1.0</text>
<line x1="766.2" y1="1297.7" x2="777.6" y2="1297.7" stroke="#000" stroke-width="2.8" stroke-linecap="butt" />
<text transform="translate(755,1308.3) scale(1.02,1.04)" font-size="35" text-anchor="end" fill="#000" >1.0</text>
<text transform="translate(999.85,1801.5) scale(1.02,1.04)" font-size="34.8" text-anchor="middle" fill="#000" >1-Specificity (FPR)</text>
<text transform="translate(693.9,1507.8) rotate(-90) scale(1,1.07)" font-size="35" text-anchor="middle" fill="#000" >Swnsiticity (TPR)</text>
<text transform="translate(987.6,1840) scale(1.02,1.04)" font-size="34.6" text-anchor="middle" fill="#000" >GSE96804</text>
<text transform="translate(1216.5,1638.5) scale(1.02,1.04)" font-size="34.7" text-anchor="end" fill="#000" >CD163</text>
<text transform="translate(1216.5,1673.4) scale(1.02,1.04)" font-size="34.7" text-anchor="end" fill="#000" >AUC:0.682</text>
<text transform="translate(1216.5,1708.3) scale(1.02,1.04)" font-size="34.7" text-anchor="end" fill="#000" >CI:0.541-0.823</text>
</g>
<g id="C3">
<clipPath id="cpC3"><rect x="1395.7" y="1293.7" width="444.5" height="419.8"/></clipPath>
<g clip-path="url(#cpC3)">
<line x1="1400" y1="1293.7" x2="1400" y2="1713.5" stroke="#EBEBEB" stroke-width="3.5" stroke-linecap="butt" />
<line x1="1395.7" y1="1713.5" x2="1840.2" y2="1713.5" stroke="#EBEBEB" stroke-width="3.5" stroke-linecap="butt" />
<line x1="1444.02" y1="1293.7" x2="1444.02" y2="1713.5" stroke="#EBEBEB" stroke-width="1.7" stroke-linecap="butt" />
<line x1="1395.7" y1="1671.92" x2="1840.2" y2="1671.92" stroke="#EBEBEB" stroke-width="1.7" stroke-linecap="butt" />
<line x1="1488.04" y1="1293.7" x2="1488.04" y2="1713.5" stroke="#EBEBEB" stroke-width="3.5" stroke-linecap="butt" />
<line x1="1395.7" y1="1630.34" x2="1840.2" y2="1630.34" stroke="#EBEBEB" stroke-width="3.5" stroke-linecap="butt" />
<line x1="1532.06" y1="1293.7" x2="1532.06" y2="1713.5" stroke="#EBEBEB" stroke-width="1.7" stroke-linecap="butt" />
<line x1="1395.7" y1="1588.76" x2="1840.2" y2="1588.76" stroke="#EBEBEB" stroke-width="1.7" stroke-linecap="butt" />
<line x1="1576.08" y1="1293.7" x2="1576.08" y2="1713.5" stroke="#EBEBEB" stroke-width="3.5" stroke-linecap="butt" />
<line x1="1395.7" y1="1547.18" x2="1840.2" y2="1547.18" stroke="#EBEBEB" stroke-width="3.5" stroke-linecap="butt" />
<line x1="1620.1" y1="1293.7" x2="1620.1" y2="1713.5" stroke="#EBEBEB" stroke-width="1.7" stroke-linecap="butt" />
<line x1="1395.7" y1="1505.6" x2="1840.2" y2="1505.6" stroke="#EBEBEB" stroke-width="1.7" stroke-linecap="butt" />
<line x1="1664.12" y1="1293.7" x2="1664.12" y2="1713.5" stroke="#EBEBEB" stroke-width="3.5" stroke-linecap="butt" />
<line x1="1395.7" y1="1464.02" x2="1840.2" y2="1464.02" stroke="#EBEBEB" stroke-width="3.5" stroke-linecap="butt" />
<line x1="1708.14" y1="1293.7" x2="1708.14" y2="1713.5" stroke="#EBEBEB" stroke-width="1.7" stroke-linecap="butt" />
<line x1="1395.7" y1="1422.44" x2="1840.2" y2="1422.44" stroke="#EBEBEB" stroke-width="1.7" stroke-linecap="butt" />
<line x1="1752.16" y1="1293.7" x2="1752.16" y2="1713.5" stroke="#EBEBEB" stroke-width="3.5" stroke-linecap="butt" />
<line x1="1395.7" y1="1380.86" x2="1840.2" y2="1380.86" stroke="#EBEBEB" stroke-width="3.5" stroke-linecap="butt" />
<line x1="1796.18" y1="1293.7" x2="1796.18" y2="1713.5" stroke="#EBEBEB" stroke-width="1.7" stroke-linecap="butt" />
<line x1="1395.7" y1="1339.28" x2="1840.2" y2="1339.28" stroke="#EBEBEB" stroke-width="1.7" stroke-linecap="butt" />
<line x1="1840.2" y1="1293.7" x2="1840.2" y2="1713.5" stroke="#EBEBEB" stroke-width="3.5" stroke-linecap="butt" />
<line x1="1395.7" y1="1297.7" x2="1840.2" y2="1297.7" stroke="#EBEBEB" stroke-width="3.5" stroke-linecap="butt" />
<line x1="1400" y1="1713.5" x2="1840.2" y2="1297.7" stroke="#7f7f7f" stroke-width="2.6" stroke-linecap="butt" stroke-dasharray="11.5 11.5"/>
<path d="M1400 1713.5 L1400 1358.55 L1444.02 1358.55 L1444.02 1348.41 L1664.12 1348.41 L1664.12 1338.27 L1686.13 1338.27 L1686.13 1317.98 L1730.15 1317.98 L1730.15 1307.84 L1796.18 1307.84 L1796.18 1297.7 L1840.2 1297.7 L1840.2 1713.5 L1400 1713.5 Z" fill="#E81F18" fill-opacity="0.11" stroke="none"/>
<path d="M1400 1713.5 L1400 1358.55 L1444.02 1358.55 L1444.02 1348.41 L1664.12 1348.41 L1664.12 1338.27 L1686.13 1338.27 L1686.13 1317.98 L1730.15 1317.98 L1730.15 1307.84 L1796.18 1307.84 L1796.18 1297.7 L1840.2 1297.7" fill="none" stroke="#E81F18" stroke-width="2.7" stroke-linejoin="miter"/>
</g>
<line x1="1395.7" y1="1292.35" x2="1395.7" y2="1714.9" stroke="#000" stroke-width="3.1" stroke-linecap="butt" />
<line x1="1840.2" y1="1292.35" x2="1840.2" y2="1714.9" stroke="#000" stroke-width="3.1" stroke-linecap="butt" />
<line x1="1395.7" y1="1293.7" x2="1840.2" y2="1293.7" stroke="#000" stroke-width="2.7" stroke-linecap="butt" />
<line x1="1395.7" y1="1713.5" x2="1840.2" y2="1713.5" stroke="#000" stroke-width="2.8" stroke-linecap="butt" />
<line x1="1400" y1="1713.5" x2="1400" y2="1723.4" stroke="#000" stroke-width="2.8" stroke-linecap="butt" />
<text transform="translate(1401.2,1762.1) scale(1.02,1.04)" font-size="35" text-anchor="middle" fill="#000" >0.0</text>
<line x1="1384.3" y1="1713.5" x2="1395.7" y2="1713.5" stroke="#000" stroke-width="2.8" stroke-linecap="butt" />
<text transform="translate(1373.1,1724.1) scale(1.02,1.04)" font-size="35" text-anchor="end" fill="#000" >0.0</text>
<line x1="1488.04" y1="1713.5" x2="1488.04" y2="1723.4" stroke="#000" stroke-width="2.8" stroke-linecap="butt" />
<text transform="translate(1489.24,1762.1) scale(1.02,1.04)" font-size="35" text-anchor="middle" fill="#000" >0.2</text>
<line x1="1384.3" y1="1630.34" x2="1395.7" y2="1630.34" stroke="#000" stroke-width="2.8" stroke-linecap="butt" />
<text transform="translate(1373.1,1640.94) scale(1.02,1.04)" font-size="35" text-anchor="end" fill="#000" >0.2</text>
<line x1="1576.08" y1="1713.5" x2="1576.08" y2="1723.4" stroke="#000" stroke-width="2.8" stroke-linecap="butt" />
<text transform="translate(1577.28,1762.1) scale(1.02,1.04)" font-size="35" text-anchor="middle" fill="#000" >0.4</text>
<line x1="1384.3" y1="1547.18" x2="1395.7" y2="1547.18" stroke="#000" stroke-width="2.8" stroke-linecap="butt" />
<text transform="translate(1373.1,1557.78) scale(1.02,1.04)" font-size="35" text-anchor="end" fill="#000" >0.4</text>
<line x1="1664.12" y1="1713.5" x2="1664.12" y2="1723.4" stroke="#000" stroke-width="2.8" stroke-linecap="butt" />
<text transform="translate(1665.32,1762.1) scale(1.02,1.04)" font-size="35" text-anchor="middle" fill="#000" >0.6</text>
<line x1="1384.3" y1="1464.02" x2="1395.7" y2="1464.02" stroke="#000" stroke-width="2.8" stroke-linecap="butt" />
<text transform="translate(1373.1,1474.62) scale(1.02,1.04)" font-size="35" text-anchor="end" fill="#000" >0.6</text>
<line x1="1752.16" y1="1713.5" x2="1752.16" y2="1723.4" stroke="#000" stroke-width="2.8" stroke-linecap="butt" />
<text transform="translate(1753.36,1762.1) scale(1.02,1.04)" font-size="35" text-anchor="middle" fill="#000" >0.8</text>
<line x1="1384.3" y1="1380.86" x2="1395.7" y2="1380.86" stroke="#000" stroke-width="2.8" stroke-linecap="butt" />
<text transform="translate(1373.1,1391.46) scale(1.02,1.04)" font-size="35" text-anchor="end" fill="#000" >0.8</text>
<line x1="1840.2" y1="1713.5" x2="1840.2" y2="1723.4" stroke="#000" stroke-width="2.8" stroke-linecap="butt" />
<text transform="translate(1841.4,1762.1) scale(1.02,1.04)" font-size="35" text-anchor="middle" fill="#000" >1.0</text>
<line x1="1384.3" y1="1297.7" x2="1395.7" y2="1297.7" stroke="#000" stroke-width="2.8" stroke-linecap="butt" />
<text transform="translate(1373.1,1308.3) scale(1.02,1.04)" font-size="35" text-anchor="end" fill="#000" >1.0</text>
<text transform="translate(1617.95,1801.5) scale(1.02,1.04)" font-size="34.8" text-anchor="middle" fill="#000" >1-Specificity (FPR)</text>
<text transform="translate(1312,1507.8) rotate(-90) scale(1,1.07)" font-size="35" text-anchor="middle" fill="#000" >Swnsiticity (TPR)</text>
<text transform="translate(1605.7,1840) scale(1.02,1.04)" font-size="34.6" text-anchor="middle" fill="#000" >GSE96804</text>
<text transform="translate(1834.6,1638.5) scale(1.02,1.04)" font-size="34.7" text-anchor="end" fill="#000" >FN1</text>
<text transform="translate(1834.6,1673.4) scale(1.02,1.04)" font-size="34.7" text-anchor="end" fill="#000" >AUC:0.911</text>
<text transform="translate(1834.6,1708.3) scale(1.02,1.04)" font-size="34.7" text-anchor="end" fill="#000" >CI:0.835-0.987</text>
</g>
<g id="C4">
<clipPath id="cpC4"><rect x="2013.9" y="1293.7" width="444.5" height="419.8"/></clipPath>
<g clip-path="url(#cpC4)">
<line x1="2018.2" y1="1293.7" x2="2018.2" y2="1713.5" stroke="#EBEBEB" stroke-width="3.5" stroke-linecap="butt" />
<line x1="2013.9" y1="1713.5" x2="2458.4" y2="1713.5" stroke="#EBEBEB" stroke-width="3.5" stroke-linecap="butt" />
<line x1="2062.22" y1="1293.7" x2="2062.22" y2="1713.5" stroke="#EBEBEB" stroke-width="1.7" stroke-linecap="butt" />
<line x1="2013.9" y1="1671.92" x2="2458.4" y2="1671.92" stroke="#EBEBEB" stroke-width="1.7" stroke-linecap="butt" />
<line x1="2106.24" y1="1293.7" x2="2106.24" y2="1713.5" stroke="#EBEBEB" stroke-width="3.5" stroke-linecap="butt" />
<line x1="2013.9" y1="1630.34" x2="2458.4" y2="1630.34" stroke="#EBEBEB" stroke-width="3.5" stroke-linecap="butt" />
<line x1="2150.26" y1="1293.7" x2="2150.26" y2="1713.5" stroke="#EBEBEB" stroke-width="1.7" stroke-linecap="butt" />
<line x1="2013.9" y1="1588.76" x2="2458.4" y2="1588.76" stroke="#EBEBEB" stroke-width="1.7" stroke-linecap="butt" />
<line x1="2194.28" y1="1293.7" x2="2194.28" y2="1713.5" stroke="#EBEBEB" stroke-width="3.5" stroke-linecap="butt" />
<line x1="2013.9" y1="1547.18" x2="2458.4" y2="1547.18" stroke="#EBEBEB" stroke-width="3.5" stroke-linecap="butt" />
<line x1="2238.3" y1="1293.7" x2="2238.3" y2="1713.5" stroke="#EBEBEB" stroke-width="1.7" stroke-linecap="butt" />
<line x1="2013.9" y1="1505.6" x2="2458.4" y2="1505.6" stroke="#EBEBEB" stroke-width="1.7" stroke-linecap="butt" />
<line x1="2282.32" y1="1293.7" x2="2282.32" y2="1713.5" stroke="#EBEBEB" stroke-width="3.5" stroke-linecap="butt" />
<line x1="2013.9" y1="1464.02" x2="2458.4" y2="1464.02" stroke="#EBEBEB" stroke-width="3.5" stroke-linecap="butt" />
<line x1="2326.34" y1="1293.7" x2="2326.34" y2="1713.5" stroke="#EBEBEB" stroke-width="1.7" stroke-linecap="butt" />
<line x1="2013.9" y1="1422.44" x2="2458.4" y2="1422.44" stroke="#EBEBEB" stroke-width="1.7" stroke-linecap="butt" />
<line x1="2370.36" y1="1293.7" x2="2370.36" y2="1713.5" stroke="#EBEBEB" stroke-width="3.5" stroke-linecap="butt" />
<line x1="2013.9" y1="1380.86" x2="2458.4" y2="1380.86" stroke="#EBEBEB" stroke-width="3.5" stroke-linecap="butt" />
<line x1="2414.38" y1="1293.7" x2="2414.38" y2="1713.5" stroke="#EBEBEB" stroke-width="1.7" stroke-linecap="butt" />
<line x1="2013.9" y1="1339.28" x2="2458.4" y2="1339.28" stroke="#EBEBEB" stroke-width="1.7" stroke-linecap="butt" />
<line x1="2458.4" y1="1293.7" x2="2458.4" y2="1713.5" stroke="#EBEBEB" stroke-width="3.5" stroke-linecap="butt" />
<line x1="2013.9" y1="1297.7" x2="2458.4" y2="1297.7" stroke="#EBEBEB" stroke-width="3.5" stroke-linecap="butt" />
<line x1="2018.2" y1="1713.5" x2="2458.4" y2="1297.7" stroke="#7f7f7f" stroke-width="2.6" stroke-linecap="butt" stroke-dasharray="11.5 11.5"/>
<path d="M2018.2 1713.5 L2018.2 1530.95 L2040.21 1530.95 L2040.21 1520.81 L2106.24 1520.81 L2106.24 1490.39 L2128.25 1490.39 L2128.25 1429.54 L2172.27 1429.54 L2172.27 1409.26 L2194.28 1409.26 L2194.28 1378.83 L2216.29 1378.83 L2216.29 1368.69 L2260.31 1368.69 L2260.31 1358.55 L2282.32 1358.55 L2282.32 1328.12 L2370.36 1328.12 L2370.36 1317.98 L2414.38 1317.98 L2414.38 1307.84 L2436.39 1307.84 L2436.39 1297.7 L2458.4 1297.7 L2458.4 1713.5 L2018.2 1713.5 Z" fill="#AC9FD0" fill-opacity="0.11" stroke="none"/>
<path d="M2018.2 1713.5 L2018.2 1530.95 L2040.21 1530.95 L2040.21 1520.81 L2106.24 1520.81 L2106.24 1490.39 L2128.25 1490.39 L2128.25 1429.54 L2172.27 1429.54 L2172.27 1409.26 L2194.28 1409.26 L2194.28 1378.83 L2216.29 1378.83 L2216.29 1368.69 L2260.31 1368.69 L2260.31 1358.55 L2282.32 1358.55 L2282.32 1328.12 L2370.36 1328.12 L2370.36 1317.98 L2414.38 1317.98 L2414.38 1307.84 L2436.39 1307.84 L2436.39 1297.7 L2458.4 1297.7" fill="none" stroke="#AC9FD0" stroke-width="2.7" stroke-linejoin="miter"/>
</g>
<line x1="2013.9" y1="1292.35" x2="2013.9" y2="1714.9" stroke="#000" stroke-width="3.1" stroke-linecap="butt" />
<line x1="2458.4" y1="1292.35" x2="2458.4" y2="1714.9" stroke="#000" stroke-width="3.1" stroke-linecap="butt" />
<line x1="2013.9" y1="1293.7" x2="2458.4" y2="1293.7" stroke="#000" stroke-width="2.7" stroke-linecap="butt" />
<line x1="2013.9" y1="1713.5" x2="2458.4" y2="1713.5" stroke="#000" stroke-width="2.8" stroke-linecap="butt" />
<line x1="2018.2" y1="1713.5" x2="2018.2" y2="1723.4" stroke="#000" stroke-width="2.8" stroke-linecap="butt" />
<text transform="translate(2019.4,1762.1) scale(1.02,1.04)" font-size="35" text-anchor="middle" fill="#000" >0.0</text>
<line x1="2002.5" y1="1713.5" x2="2013.9" y2="1713.5" stroke="#000" stroke-width="2.8" stroke-linecap="butt" />
<text transform="translate(1991.3,1724.1) scale(1.02,1.04)" font-size="35" text-anchor="end" fill="#000" >0.0</text>
<line x1="2106.24" y1="1713.5" x2="2106.24" y2="1723.4" stroke="#000" stroke-width="2.8" stroke-linecap="butt" />
<text transform="translate(2107.44,1762.1) scale(1.02,1.04)" font-size="35" text-anchor="middle" fill="#000" >0.2</text>
<line x1="2002.5" y1="1630.34" x2="2013.9" y2="1630.34" stroke="#000" stroke-width="2.8" stroke-linecap="butt" />
<text transform="translate(1991.3,1640.94) scale(1.02,1.04)" font-size="35" text-anchor="end" fill="#000" >0.2</text>
<line x1="2194.28" y1="1713.5" x2="2194.28" y2="1723.4" stroke="#000" stroke-width="2.8" stroke-linecap="butt" />
<text transform="translate(2195.48,1762.1) scale(1.02,1.04)" font-size="35" text-anchor="middle" fill="#000" >0.4</text>
<line x1="2002.5" y1="1547.18" x2="2013.9" y2="1547.18" stroke="#000" stroke-width="2.8" stroke-linecap="butt" />
<text transform="translate(1991.3,1557.78) scale(1.02,1.04)" font-size="35" text-anchor="end" fill="#000" >0.4</text>
<line x1="2282.32" y1="1713.5" x2="2282.32" y2="1723.4" stroke="#000" stroke-width="2.8" stroke-linecap="butt" />
<text transform="translate(2283.52,1762.1) scale(1.02,1.04)" font-size="35" text-anchor="middle" fill="#000" >0.6</text>
<line x1="2002.5" y1="1464.02" x2="2013.9" y2="1464.02" stroke="#000" stroke-width="2.8" stroke-linecap="butt" />
<text transform="translate(1991.3,1474.62) scale(1.02,1.04)" font-size="35" text-anchor="end" fill="#000" >0.6</text>
<line x1="2370.36" y1="1713.5" x2="2370.36" y2="1723.4" stroke="#000" stroke-width="2.8" stroke-linecap="butt" />
<text transform="translate(2371.56,1762.1) scale(1.02,1.04)" font-size="35" text-anchor="middle" fill="#000" >0.8</text>
<line x1="2002.5" y1="1380.86" x2="2013.9" y2="1380.86" stroke="#000" stroke-width="2.8" stroke-linecap="butt" />
<text transform="translate(1991.3,1391.46) scale(1.02,1.04)" font-size="35" text-anchor="end" fill="#000" >0.8</text>
<line x1="2458.4" y1="1713.5" x2="2458.4" y2="1723.4" stroke="#000" stroke-width="2.8" stroke-linecap="butt" />
<text transform="translate(2459.6,1762.1) scale(1.02,1.04)" font-size="35" text-anchor="middle" fill="#000" >1.0</text>
<line x1="2002.5" y1="1297.7" x2="2013.9" y2="1297.7" stroke="#000" stroke-width="2.8" stroke-linecap="butt" />
<text transform="translate(1991.3,1308.3) scale(1.02,1.04)" font-size="35" text-anchor="end" fill="#000" >1.0</text>
<text transform="translate(2236.15,1801.5) scale(1.02,1.04)" font-size="34.8" text-anchor="middle" fill="#000" >1-Specificity (FPR)</text>
<text transform="translate(1930.2,1507.8) rotate(-90) scale(1,1.07)" font-size="35" text-anchor="middle" fill="#000" >Swnsiticity (TPR)</text>
<text transform="translate(2223.9,1840) scale(1.02,1.04)" font-size="34.6" text-anchor="middle" fill="#000" >GSE96804</text>
<text transform="translate(2452.8,1638.5) scale(1.02,1.04)" font-size="34.7" text-anchor="end" fill="#000" >CCL2</text>
<text transform="translate(2452.8,1673.4) scale(1.02,1.04)" font-size="34.7" text-anchor="end" fill="#000" >AUC:0.768</text>
<text transform="translate(2452.8,1708.3) scale(1.02,1.04)" font-size="34.7" text-anchor="end" fill="#000" >CI:0.648-0.888</text>
</g>
<g id="D1">
<clipPath id="cpD1"><rect x="159.6" y="1911.2" width="444.5" height="420"/></clipPath>
<g clip-path="url(#cpD1)">
<line x1="163.9" y1="1911.2" x2="163.9" y2="2331.2" stroke="#EBEBEB" stroke-width="3.5" stroke-linecap="butt" />
<line x1="159.6" y1="2331.2" x2="604.1" y2="2331.2" stroke="#EBEBEB" stroke-width="3.5" stroke-linecap="butt" />
<line x1="207.92" y1="1911.2" x2="207.92" y2="2331.2" stroke="#EBEBEB" stroke-width="1.7" stroke-linecap="butt" />
<line x1="159.6" y1="2289.6" x2="604.1" y2="2289.6" stroke="#EBEBEB" stroke-width="1.7" stroke-linecap="butt" />
<line x1="251.94" y1="1911.2" x2="251.94" y2="2331.2" stroke="#EBEBEB" stroke-width="3.5" stroke-linecap="butt" />
<line x1="159.6" y1="2248" x2="604.1" y2="2248" stroke="#EBEBEB" stroke-width="3.5" stroke-linecap="butt" />
<line x1="295.96" y1="1911.2" x2="295.96" y2="2331.2" stroke="#EBEBEB" stroke-width="1.7" stroke-linecap="butt" />
<line x1="159.6" y1="2206.4" x2="604.1" y2="2206.4" stroke="#EBEBEB" stroke-width="1.7" stroke-linecap="butt" />
<line x1="339.98" y1="1911.2" x2="339.98" y2="2331.2" stroke="#EBEBEB" stroke-width="3.5" stroke-linecap="butt" />
<line x1="159.6" y1="2164.8" x2="604.1" y2="2164.8" stroke="#EBEBEB" stroke-width="3.5" stroke-linecap="butt" />
<line x1="384" y1="1911.2" x2="384" y2="2331.2" stroke="#EBEBEB" stroke-width="1.7" stroke-linecap="butt" />
<line x1="159.6" y1="2123.2" x2="604.1" y2="2123.2" stroke="#EBEBEB" stroke-width="1.7" stroke-linecap="butt" />
<line x1="428.02" y1="1911.2" x2="428.02" y2="2331.2" stroke="#EBEBEB" stroke-width="3.5" stroke-linecap="butt" />
<line x1="159.6" y1="2081.6" x2="604.1" y2="2081.6" stroke="#EBEBEB" stroke-width="3.5" stroke-linecap="butt" />
<line x1="472.04" y1="1911.2" x2="472.04" y2="2331.2" stroke="#EBEBEB" stroke-width="1.7" stroke-linecap="butt" />
<line x1="159.6" y1="2040" x2="604.1" y2="2040" stroke="#EBEBEB" stroke-width="1.7" stroke-linecap="butt" />
<line x1="516.06" y1="1911.2" x2="516.06" y2="2331.2" stroke="#EBEBEB" stroke-width="3.5" stroke-linecap="butt" />
<line x1="159.6" y1="1998.4" x2="604.1" y2="1998.4" stroke="#EBEBEB" stroke-width="3.5" stroke-linecap="butt" />
<line x1="560.08" y1="1911.2" x2="560.08" y2="2331.2" stroke="#EBEBEB" stroke-width="1.7" stroke-linecap="butt" />
<line x1="159.6" y1="1956.8" x2="604.1" y2="1956.8" stroke="#EBEBEB" stroke-width="1.7" stroke-linecap="butt" />
<line x1="604.1" y1="1911.2" x2="604.1" y2="2331.2" stroke="#EBEBEB" stroke-width="3.5" stroke-linecap="butt" />
<line x1="159.6" y1="1915.2" x2="604.1" y2="1915.2" stroke="#EBEBEB" stroke-width="3.5" stroke-linecap="butt" />
<line x1="163.9" y1="2331.2" x2="604.1" y2="1915.2" stroke="#7f7f7f" stroke-width="2.6" stroke-linecap="butt" stroke-dasharray="11.5 11.5"/>
<path d="M163.9 2331.2 L163.9 2068.46 L172.7 2068.46 L172.7 2024.67 L199.12 2024.67 L199.12 1980.88 L322.37 1980.88 L322.37 1958.99 L410.41 1958.99 L410.41 1915.2 L604.1 1915.2 L604.1 2331.2 L163.9 2331.2 Z" fill="#F5A11A" fill-opacity="0.11" stroke="none"/>
<path d="M163.9 2331.2 L163.9 2068.46 L172.7 2068.46 L172.7 2024.67 L199.12 2024.67 L199.12 1980.88 L322.37 1980.88 L322.37 1958.99 L410.41 1958.99 L410.41 1915.2 L604.1 1915.2" fill="none" stroke="#F5A11A" stroke-width="2.7" stroke-linejoin="miter"/>
</g>
<line x1="159.6" y1="1909.85" x2="159.6" y2="2332.6" stroke="#000" stroke-width="3.1" stroke-linecap="butt" />
<line x1="604.1" y1="1909.85" x2="604.1" y2="2332.6" stroke="#000" stroke-width="3.1" stroke-linecap="butt" />
<line x1="159.6" y1="1911.2" x2="604.1" y2="1911.2" stroke="#000" stroke-width="2.7" stroke-linecap="butt" />
<line x1="159.6" y1="2331.2" x2="604.1" y2="2331.2" stroke="#000" stroke-width="2.8" stroke-linecap="butt" />
<line x1="163.9" y1="2331.2" x2="163.9" y2="2341.1" stroke="#000" stroke-width="2.8" stroke-linecap="butt" />
<text transform="translate(165.1,2379.8) scale(1.02,1.04)" font-size="35" text-anchor="middle" fill="#000" >0.0</text>
<line x1="148.2" y1="2331.2" x2="159.6" y2="2331.2" stroke="#000" stroke-width="2.8" stroke-linecap="butt" />
<text transform="translate(137,2341.8) scale(1.02,1.04)" font-size="35" text-anchor="end" fill="#000" >0.0</text>
<line x1="251.94" y1="2331.2" x2="251.94" y2="2341.1" stroke="#000" stroke-width="2.8" stroke-linecap="butt" />
<text transform="translate(253.14,2379.8) scale(1.02,1.04)" font-size="35" text-anchor="middle" fill="#000" >0.2</text>
<line x1="148.2" y1="2248" x2="159.6" y2="2248" stroke="#000" stroke-width="2.8" stroke-linecap="butt" />
<text transform="translate(137,2258.6) scale(1.02,1.04)" font-size="35" text-anchor="end" fill="#000" >0.2</text>
<line x1="339.98" y1="2331.2" x2="339.98" y2="2341.1" stroke="#000" stroke-width="2.8" stroke-linecap="butt" />
<text transform="translate(341.18,2379.8) scale(1.02,1.04)" font-size="35" text-anchor="middle" fill="#000" >0.4</text>
<line x1="148.2" y1="2164.8" x2="159.6" y2="2164.8" stroke="#000" stroke-width="2.8" stroke-linecap="butt" />
<text transform="translate(137,2175.4) scale(1.02,1.04)" font-size="35" text-anchor="end" fill="#000" >0.4</text>
<line x1="428.02" y1="2331.2" x2="428.02" y2="2341.1" stroke="#000" stroke-width="2.8" stroke-linecap="butt" />
<text transform="translate(429.22,2379.8) scale(1.02,1.04)" font-size="35" text-anchor="middle" fill="#000" >0.6</text>
<line x1="148.2" y1="2081.6" x2="159.6" y2="2081.6" stroke="#000" stroke-width="2.8" stroke-linecap="butt" />
<text transform="translate(137,2092.2) scale(1.02,1.04)" font-size="35" text-anchor="end" fill="#000" >0.6</text>
<line x1="516.06" y1="2331.2" x2="516.06" y2="2341.1" stroke="#000" stroke-width="2.8" stroke-linecap="butt" />
<text transform="translate(517.26,2379.8) scale(1.02,1.04)" font-size="35" text-anchor="middle" fill="#000" >0.8</text>
<line x1="148.2" y1="1998.4" x2="159.6" y2="1998.4" stroke="#000" stroke-width="2.8" stroke-linecap="butt" />
<text transform="translate(137,2009) scale(1.02,1.04)" font-size="35" text-anchor="end" fill="#000" >0.8</text>
<line x1="604.1" y1="2331.2" x2="604.1" y2="2341.1" stroke="#000" stroke-width="2.8" stroke-linecap="butt" />
<text transform="translate(605.3,2379.8) scale(1.02,1.04)" font-size="35" text-anchor="middle" fill="#000" >1.0</text>
<line x1="148.2" y1="1915.2" x2="159.6" y2="1915.2" stroke="#000" stroke-width="2.8" stroke-linecap="butt" />
<text transform="translate(137,1925.8) scale(1.02,1.04)" font-size="35" text-anchor="end" fill="#000" >1.0</text>
<text transform="translate(381.85,2419.2) scale(1.02,1.04)" font-size="34.8" text-anchor="middle" fill="#000" >1-Specificity (FPR)</text>
<text transform="translate(75.9,2125.4) rotate(-90) scale(1,1.07)" font-size="35" text-anchor="middle" fill="#000" >Swnsiticity (TPR)</text>
<text transform="translate(369.6,2457.7) scale(1.02,1.04)" font-size="34.6" text-anchor="middle" fill="#000" >GSE30122</text>
<text transform="translate(598.5,2256.2) scale(1.02,1.04)" font-size="34.7" text-anchor="end" fill="#000" >COLA2</text>
<text transform="translate(598.5,2291.1) scale(1.02,1.04)" font-size="34.7" text-anchor="end" fill="#000" >AUC:0.912</text>
<text transform="translate(598.5,2326) scale(1.02,1.04)" font-size="34.7" text-anchor="end" fill="#000" >CI:0.824-0.999</text>
</g>
<g id="D2">
<clipPath id="cpD2"><rect x="777.6" y="1911.2" width="444.5" height="420"/></clipPath>
<g clip-path="url(#cpD2)">
<line x1="781.9" y1="1911.2" x2="781.9" y2="2331.2" stroke="#EBEBEB" stroke-width="3.5" stroke-linecap="butt" />
<line x1="777.6" y1="2331.2" x2="1222.1" y2="2331.2" stroke="#EBEBEB" stroke-width="3.5" stroke-linecap="butt" />
<line x1="825.92" y1="1911.2" x2="825.92" y2="2331.2" stroke="#EBEBEB" stroke-width="1.7" stroke-linecap="butt" />
<line x1="777.6" y1="2289.6" x2="1222.1" y2="2289.6" stroke="#EBEBEB" stroke-width="1.7" stroke-linecap="butt" />
<line x1="869.94" y1="1911.2" x2="869.94" y2="2331.2" stroke="#EBEBEB" stroke-width="3.5" stroke-linecap="butt" />
<line x1="777.6" y1="2248" x2="1222.1" y2="2248" stroke="#EBEBEB" stroke-width="3.5" stroke-linecap="butt" />
<line x1="913.96" y1="1911.2" x2="913.96" y2="2331.2" stroke="#EBEBEB" stroke-width="1.7" stroke-linecap="butt" />
<line x1="777.6" y1="2206.4" x2="1222.1" y2="2206.4" stroke="#EBEBEB" stroke-width="1.7" stroke-linecap="butt" />
<line x1="957.98" y1="1911.2" x2="957.98" y2="2331.2" stroke="#EBEBEB" stroke-width="3.5" stroke-linecap="butt" />
<line x1="777.6" y1="2164.8" x2="1222.1" y2="2164.8" stroke="#EBEBEB" stroke-width="3.5" stroke-linecap="butt" />
<line x1="1002" y1="1911.2" x2="1002" y2="2331.2" stroke="#EBEBEB" stroke-width="1.7" stroke-linecap="butt" />
<line x1="777.6" y1="2123.2" x2="1222.1" y2="2123.2" stroke="#EBEBEB" stroke-width="1.7" stroke-linecap="butt" />
<line x1="1046.02" y1="1911.2" x2="1046.02" y2="2331.2" stroke="#EBEBEB" stroke-width="3.5" stroke-linecap="butt" />
<line x1="777.6" y1="2081.6" x2="1222.1" y2="2081.6" stroke="#EBEBEB" stroke-width="3.5" stroke-linecap="butt" />
<line x1="1090.04" y1="1911.2" x2="1090.04" y2="2331.2" stroke="#EBEBEB" stroke-width="1.7" stroke-linecap="butt" />
<line x1="777.6" y1="2040" x2="1222.1" y2="2040" stroke="#EBEBEB" stroke-width="1.7" stroke-linecap="butt" />
<line x1="1134.06" y1="1911.2" x2="1134.06" y2="2331.2" stroke="#EBEBEB" stroke-width="3.5" stroke-linecap="butt" />
<line x1="777.6" y1="1998.4" x2="1222.1" y2="1998.4" stroke="#EBEBEB" stroke-width="3.5" stroke-linecap="butt" />
<line x1="1178.08" y1="1911.2" x2="1178.08" y2="2331.2" stroke="#EBEBEB" stroke-width="1.7" stroke-linecap="butt" />
<line x1="777.6" y1="1956.8" x2="1222.1" y2="1956.8" stroke="#EBEBEB" stroke-width="1.7" stroke-linecap="butt" />
<line x1="1222.1" y1="1911.2" x2="1222.1" y2="2331.2" stroke="#EBEBEB" stroke-width="3.5" stroke-linecap="butt" />
<line x1="777.6" y1="1915.2" x2="1222.1" y2="1915.2" stroke="#EBEBEB" stroke-width="3.5" stroke-linecap="butt" />
<line x1="781.9" y1="2331.2" x2="1222.1" y2="1915.2" stroke="#7f7f7f" stroke-width="2.6" stroke-linecap="butt" stroke-dasharray="11.5 11.5"/>
<path d="M781.9 2331.2 L781.9 2046.57 L790.7 2046.57 L790.7 2024.67 L817.12 2024.67 L817.12 2002.78 L843.53 2002.78 L843.53 1980.88 L931.57 1980.88 L931.57 1958.99 L975.59 1958.99 L975.59 1915.2 L1222.1 1915.2 L1222.1 2331.2 L781.9 2331.2 Z" fill="#F6B8C5" fill-opacity="0.11" stroke="none"/>
<path d="M781.9 2331.2 L781.9 2046.57 L790.7 2046.57 L790.7 2024.67 L817.12 2024.67 L817.12 2002.78 L843.53 2002.78 L843.53 1980.88 L931.57 1980.88 L931.57 1958.99 L975.59 1958.99 L975.59 1915.2 L1222.1 1915.2" fill="none" stroke="#F6B8C5" stroke-width="2.7" stroke-linejoin="miter"/>
</g>
<line x1="777.6" y1="1909.85" x2="777.6" y2="2332.6" stroke="#000" stroke-width="3.1" stroke-linecap="butt" />
<line x1="1222.1" y1="1909.85" x2="1222.1" y2="2332.6" stroke="#000" stroke-width="3.1" stroke-linecap="butt" />
<line x1="777.6" y1="1911.2" x2="1222.1" y2="1911.2" stroke="#000" stroke-width="2.7" stroke-linecap="butt" />
<line x1="777.6" y1="2331.2" x2="1222.1" y2="2331.2" stroke="#000" stroke-width="2.8" stroke-linecap="butt" />
<line x1="781.9" y1="2331.2" x2="781.9" y2="2341.1" stroke="#000" stroke-width="2.8" stroke-linecap="butt" />
<text transform="translate(783.1,2379.8) scale(1.02,1.04)" font-size="35" text-anchor="middle" fill="#000" >0.0</text>
<line x1="766.2" y1="2331.2" x2="777.6" y2="2331.2" stroke="#000" stroke-width="2.8" stroke-linecap="butt" />
<text transform="translate(755,2341.8) scale(1.02,1.04)" font-size="35" text-anchor="end" fill="#000" >0.0</text>
<line x1="869.94" y1="2331.2" x2="869.94" y2="2341.1" stroke="#000" stroke-width="2.8" stroke-linecap="butt" />
<text transform="translate(871.14,2379.8) scale(1.02,1.04)" font-size="35" text-anchor="middle" fill="#000" >0.2</text>
<line x1="766.2" y1="2248" x2="777.6" y2="2248" stroke="#000" stroke-width="2.8" stroke-linecap="butt" />
<text transform="translate(755,2258.6) scale(1.02,1.04)" font-size="35" text-anchor="end" fill="#000" >0.2</text>
<line x1="957.98" y1="2331.2" x2="957.98" y2="2341.1" stroke="#000" stroke-width="2.8" stroke-linecap="butt" />
<text transform="translate(959.18,2379.8) scale(1.02,1.04)" font-size="35" text-anchor="middle" fill="#000" >0.4</text>
<line x1="766.2" y1="2164.8" x2="777.6" y2="2164.8" stroke="#000" stroke-width="2.8" stroke-linecap="butt" />
<text transform="translate(755,2175.4) scale(1.02,1.04)" font-size="35" text-anchor="end" fill="#000" >0.4</text>
<line x1="1046.02" y1="2331.2" x2="1046.02" y2="2341.1" stroke="#000" stroke-width="2.8" stroke-linecap="butt" />
<text transform="translate(1047.22,2379.8) scale(1.02,1.04)" font-size="35" text-anchor="middle" fill="#000" >0.6</text>
<line x1="766.2" y1="2081.6" x2="777.6" y2="2081.6" stroke="#000" stroke-width="2.8" stroke-linecap="butt" />
<text transform="translate(755,2092.2) scale(1.02,1.04)" font-size="35" text-anchor="end" fill="#000" >0.6</text>
<line x1="1134.06" y1="2331.2" x2="1134.06" y2="2341.1" stroke="#000" stroke-width="2.8" stroke-linecap="butt" />
<text transform="translate(1135.26,2379.8) scale(1.02,1.04)" font-size="35" text-anchor="middle" fill="#000" >0.8</text>
<line x1="766.2" y1="1998.4" x2="777.6" y2="1998.4" stroke="#000" stroke-width="2.8" stroke-linecap="butt" />
<text transform="translate(755,2009) scale(1.02,1.04)" font-size="35" text-anchor="end" fill="#000" >0.8</text>
<line x1="1222.1" y1="2331.2" x2="1222.1" y2="2341.1" stroke="#000" stroke-width="2.8" stroke-linecap="butt" />
<text transform="translate(1223.3,2379.8) scale(1.02,1.04)" font-size="35" text-anchor="middle" fill="#000" >1.0</text>
<line x1="766.2" y1="1915.2" x2="777.6" y2="1915.2" stroke="#000" stroke-width="2.8" stroke-linecap="butt" />
<text transform="translate(755,1925.8) scale(1.02,1.04)" font-size="35" text-anchor="end" fill="#000" >1.0</text>
<text transform="translate(999.85,2419.2) scale(1.02,1.04)" font-size="34.8" text-anchor="middle" fill="#000" >1-Specificity (FPR)</text>
<text transform="translate(693.9,2125.4) rotate(-90) scale(1,1.07)" font-size="35" text-anchor="middle" fill="#000" >Swnsiticity (TPR)</text>
<text transform="translate(987.6,2457.7) scale(1.02,1.04)" font-size="34.6" text-anchor="middle" fill="#000" >GSE30122</text>
<text transform="translate(1216.5,2256.2) scale(1.02,1.04)" font-size="34.7" text-anchor="end" fill="#000" >CD163</text>
<text transform="translate(1216.5,2291.1) scale(1.02,1.04)" font-size="34.7" text-anchor="end" fill="#000" >AUC:0.923</text>
<text transform="translate(1216.5,2326) scale(1.02,1.04)" font-size="34.7" text-anchor="end" fill="#000" >CI:0.850-0.997</text>
</g>
<g id="D3">
<clipPath id="cpD3"><rect x="1395.7" y="1911.2" width="444.5" height="420"/></clipPath>
<g clip-path="url(#cpD3)">
<line x1="1400" y1="1911.2" x2="1400" y2="2331.2" stroke="#EBEBEB" stroke-width="3.5" stroke-linecap="butt" />
<line x1="1395.7" y1="2331.2" x2="1840.2" y2="2331.2" stroke="#EBEBEB" stroke-width="3.5" stroke-linecap="butt" />
<line x1="1444.02" y1="1911.2" x2="1444.02" y2="2331.2" stroke="#EBEBEB" stroke-width="1.7" stroke-linecap="butt" />
<line x1="1395.7" y1="2289.6" x2="1840.2" y2="2289.6" stroke="#EBEBEB" stroke-width="1.7" stroke-linecap="butt" />
<line x1="1488.04" y1="1911.2" x2="1488.04" y2="2331.2" stroke="#EBEBEB" stroke-width="3.5" stroke-linecap="butt" />
<line x1="1395.7" y1="2248" x2="1840.2" y2="2248" stroke="#EBEBEB" stroke-width="3.5" stroke-linecap="butt" />
<line x1="1532.06" y1="1911.2" x2="1532.06" y2="2331.2" stroke="#EBEBEB" stroke-width="1.7" stroke-linecap="butt" />
<line x1="1395.7" y1="2206.4" x2="1840.2" y2="2206.4" stroke="#EBEBEB" stroke-width="1.7" stroke-linecap="butt" />
<line x1="1576.08" y1="1911.2" x2="1576.08" y2="2331.2" stroke="#EBEBEB" stroke-width="3.5" stroke-linecap="butt" />
<line x1="1395.7" y1="2164.8" x2="1840.2" y2="2164.8" stroke="#EBEBEB" stroke-width="3.5" stroke-linecap="butt" />
<line x1="1620.1" y1="1911.2" x2="1620.1" y2="2331.2" stroke="#EBEBEB" stroke-width="1.7" stroke-linecap="butt" />
<line x1="1395.7" y1="2123.2" x2="1840.2" y2="2123.2" stroke="#EBEBEB" stroke-width="1.7" stroke-linecap="butt" />
<line x1="1664.12" y1="1911.2" x2="1664.12" y2="2331.2" stroke="#EBEBEB" stroke-width="3.5" stroke-linecap="butt" />
<line x1="1395.7" y1="2081.6" x2="1840.2" y2="2081.6" stroke="#EBEBEB" stroke-width="3.5" stroke-linecap="butt" />
<line x1="1708.14" y1="1911.2" x2="1708.14" y2="2331.2" stroke="#EBEBEB" stroke-width="1.7" stroke-linecap="butt" />
<line x1="1395.7" y1="2040" x2="1840.2" y2="2040" stroke="#EBEBEB" stroke-width="1.7" stroke-linecap="butt" />
<line x1="1752.16" y1="1911.2" x2="1752.16" y2="2331.2" stroke="#EBEBEB" stroke-width="3.5" stroke-linecap="butt" />
<line x1="1395.7" y1="1998.4" x2="1840.2" y2="1998.4" stroke="#EBEBEB" stroke-width="3.5" stroke-linecap="butt" />
<line x1="1796.18" y1="1911.2" x2="1796.18" y2="2331.2" stroke="#EBEBEB" stroke-width="1.7" stroke-linecap="butt" />
<line x1="1395.7" y1="1956.8" x2="1840.2" y2="1956.8" stroke="#EBEBEB" stroke-width="1.7" stroke-linecap="butt" />
<line x1="1840.2" y1="1911.2" x2="1840.2" y2="2331.2" stroke="#EBEBEB" stroke-width="3.5" stroke-linecap="butt" />
<line x1="1395.7" y1="1915.2" x2="1840.2" y2="1915.2" stroke="#EBEBEB" stroke-width="3.5" stroke-linecap="butt" />
<line x1="1400" y1="2331.2" x2="1840.2" y2="1915.2" stroke="#7f7f7f" stroke-width="2.6" stroke-linecap="butt" stroke-dasharray="11.5 11.5"/>
<path d="M1400 2331.2 L1400 2221.73 L1426.41 2221.73 L1426.41 2177.94 L1452.82 2177.94 L1452.82 2024.67 L1470.43 2024.67 L1470.43 2002.78 L1496.84 2002.78 L1496.84 1937.09 L1620.1 1937.09 L1620.1 1915.2 L1840.2 1915.2 L1840.2 2331.2 L1400 2331.2 Z" fill="#E81F18" fill-opacity="0.11" stroke="none"/>
<path d="M1400 2331.2 L1400 2221.73 L1426.41 2221.73 L1426.41 2177.94 L1452.82 2177.94 L1452.82 2024.67 L1470.43 2024.67 L1470.43 2002.78 L1496.84 2002.78 L1496.84 1937.09 L1620.1 1937.09 L1620.1 1915.2 L1840.2 1915.2" fill="none" stroke="#E81F18" stroke-width="2.7" stroke-linejoin="miter"/>
</g>
<line x1="1395.7" y1="1909.85" x2="1395.7" y2="2332.6" stroke="#000" stroke-width="3.1" stroke-linecap="butt" />
<line x1="1840.2" y1="1909.85" x2="1840.2" y2="2332.6" stroke="#000" stroke-width="3.1" stroke-linecap="butt" />
<line x1="1395.7" y1="1911.2" x2="1840.2" y2="1911.2" stroke="#000" stroke-width="2.7" stroke-linecap="butt" />
<line x1="1395.7" y1="2331.2" x2="1840.2" y2="2331.2" stroke="#000" stroke-width="2.8" stroke-linecap="butt" />
<line x1="1400" y1="2331.2" x2="1400" y2="2341.1" stroke="#000" stroke-width="2.8" stroke-linecap="butt" />
<text transform="translate(1401.2,2379.8) scale(1.02,1.04)" font-size="35" text-anchor="middle" fill="#000" >0.0</text>
<line x1="1384.3" y1="2331.2" x2="1395.7" y2="2331.2" stroke="#000" stroke-width="2.8" stroke-linecap="butt" />
<text transform="translate(1373.1,2341.8) scale(1.02,1.04)" font-size="35" text-anchor="end" fill="#000" >0.0</text>
<line x1="1488.04" y1="2331.2" x2="1488.04" y2="2341.1" stroke="#000" stroke-width="2.8" stroke-linecap="butt" />
<text transform="translate(1489.24,2379.8) scale(1.02,1.04)" font-size="35" text-anchor="middle" fill="#000" >0.2</text>
<line x1="1384.3" y1="2248" x2="1395.7" y2="2248" stroke="#000" stroke-width="2.8" stroke-linecap="butt" />
<text transform="translate(1373.1,2258.6) scale(1.02,1.04)" font-size="35" text-anchor="end" fill="#000" >0.2</text>
<line x1="1576.08" y1="2331.2" x2="1576.08" y2="2341.1" stroke="#000" stroke-width="2.8" stroke-linecap="butt" />
<text transform="translate(1577.28,2379.8) scale(1.02,1.04)" font-size="35" text-anchor="middle" fill="#000" >0.4</text>
<line x1="1384.3" y1="2164.8" x2="1395.7" y2="2164.8" stroke="#000" stroke-width="2.8" stroke-linecap="butt" />
<text transform="translate(1373.1,2175.4) scale(1.02,1.04)" font-size="35" text-anchor="end" fill="#000" >0.4</text>
<line x1="1664.12" y1="2331.2" x2="1664.12" y2="2341.1" stroke="#000" stroke-width="2.8" stroke-linecap="butt" />
<text transform="translate(1665.32,2379.8) scale(1.02,1.04)" font-size="35" text-anchor="middle" fill="#000" >0.6</text>
<line x1="1384.3" y1="2081.6" x2="1395.7" y2="2081.6" stroke="#000" stroke-width="2.8" stroke-linecap="butt" />
<text transform="translate(1373.1,2092.2) scale(1.02,1.04)" font-size="35" text-anchor="end" fill="#000" >0.6</text>
<line x1="1752.16" y1="2331.2" x2="1752.16" y2="2341.1" stroke="#000" stroke-width="2.8" stroke-linecap="butt" />
<text transform="translate(1753.36,2379.8) scale(1.02,1.04)" font-size="35" text-anchor="middle" fill="#000" >0.8</text>
<line x1="1384.3" y1="1998.4" x2="1395.7" y2="1998.4" stroke="#000" stroke-width="2.8" stroke-linecap="butt" />
<text transform="translate(1373.1,2009) scale(1.02,1.04)" font-size="35" text-anchor="end" fill="#000" >0.8</text>
<line x1="1840.2" y1="2331.2" x2="1840.2" y2="2341.1" stroke="#000" stroke-width="2.8" stroke-linecap="butt" />
<text transform="translate(1841.4,2379.8) scale(1.02,1.04)" font-size="35" text-anchor="middle" fill="#000" >1.0</text>
<line x1="1384.3" y1="1915.2" x2="1395.7" y2="1915.2" stroke="#000" stroke-width="2.8" stroke-linecap="butt" />
<text transform="translate(1373.1,1925.8) scale(1.02,1.04)" font-size="35" text-anchor="end" fill="#000" >1.0</text>
<text transform="translate(1617.95,2419.2) scale(1.02,1.04)" font-size="34.8" text-anchor="middle" fill="#000" >1-Specificity (FPR)</text>
<text transform="translate(1312,2125.4) rotate(-90) scale(1,1.07)" font-size="35" text-anchor="middle" fill="#000" >Swnsiticity (TPR)</text>
<text transform="translate(1605.7,2457.7) scale(1.02,1.04)" font-size="34.6" text-anchor="middle" fill="#000" >GSE30122</text>
<text transform="translate(1834.6,2256.2) scale(1.02,1.04)" font-size="34.7" text-anchor="end" fill="#000" >FN1</text>
<text transform="translate(1834.6,2291.1) scale(1.02,1.04)" font-size="34.7" text-anchor="end" fill="#000" >AUC:0.880</text>
<text transform="translate(1834.6,2326) scale(1.02,1.04)" font-size="34.7" text-anchor="end" fill="#000" >CI:0.798-0.962</text>
</g>
<g id="D4">
<clipPath id="cpD4"><rect x="2013.9" y="1911.2" width="444.5" height="420"/></clipPath>
<g clip-path="url(#cpD4)">
<line x1="2018.2" y1="1911.2" x2="2018.2" y2="2331.2" stroke="#EBEBEB" stroke-width="3.5" stroke-linecap="butt" />
<line x1="2013.9" y1="2331.2" x2="2458.4" y2="2331.2" stroke="#EBEBEB" stroke-width="3.5" stroke-linecap="butt" />
<line x1="2062.22" y1="1911.2" x2="2062.22" y2="2331.2" stroke="#EBEBEB" stroke-width="1.7" stroke-linecap="butt" />
<line x1="2013.9" y1="2289.6" x2="2458.4" y2="2289.6" stroke="#EBEBEB" stroke-width="1.7" stroke-linecap="butt" />
<line x1="2106.24" y1="1911.2" x2="2106.24" y2="2331.2" stroke="#EBEBEB" stroke-width="3.5" stroke-linecap="butt" />
<line x1="2013.9" y1="2248" x2="2458.4" y2="2248" stroke="#EBEBEB" stroke-width="3.5" stroke-linecap="butt" />
<line x1="2150.26" y1="1911.2" x2="2150.26" y2="2331.2" stroke="#EBEBEB" stroke-width="1.7" stroke-linecap="butt" />
<line x1="2013.9" y1="2206.4" x2="2458.4" y2="2206.4" stroke="#EBEBEB" stroke-width="1.7" stroke-linecap="butt" />
<line x1="2194.28" y1="1911.2" x2="2194.28" y2="2331.2" stroke="#EBEBEB" stroke-width="3.5" stroke-linecap="butt" />
<line x1="2013.9" y1="2164.8" x2="2458.4" y2="2164.8" stroke="#EBEBEB" stroke-width="3.5" stroke-linecap="butt" />
<line x1="2238.3" y1="1911.2" x2="2238.3" y2="2331.2" stroke="#EBEBEB" stroke-width="1.7" stroke-linecap="butt" />
<line x1="2013.9" y1="2123.2" x2="2458.4" y2="2123.2" stroke="#EBEBEB" stroke-width="1.7" stroke-linecap="butt" />
<line x1="2282.32" y1="1911.2" x2="2282.32" y2="2331.2" stroke="#EBEBEB" stroke-width="3.5" stroke-linecap="butt" />
<line x1="2013.9" y1="2081.6" x2="2458.4" y2="2081.6" stroke="#EBEBEB" stroke-width="3.5" stroke-linecap="butt" />
<line x1="2326.34" y1="1911.2" x2="2326.34" y2="2331.2" stroke="#EBEBEB" stroke-width="1.7" stroke-linecap="butt" />
<line x1="2013.9" y1="2040" x2="2458.4" y2="2040" stroke="#EBEBEB" stroke-width="1.7" stroke-linecap="butt" />
<line x1="2370.36" y1="1911.2" x2="2370.36" y2="2331.2" stroke="#EBEBEB" stroke-width="3.5" stroke-linecap="butt" />
<line x1="2013.9" y1="1998.4" x2="2458.4" y2="1998.4" stroke="#EBEBEB" stroke-width="3.5" stroke-linecap="butt" />
<line x1="2414.38" y1="1911.2" x2="2414.38" y2="2331.2" stroke="#EBEBEB" stroke-width="1.7" stroke-linecap="butt" />
<line x1="2013.9" y1="1956.8" x2="2458.4" y2="1956.8" stroke="#EBEBEB" stroke-width="1.7" stroke-linecap="butt" />
<line x1="2458.4" y1="1911.2" x2="2458.4" y2="2331.2" stroke="#EBEBEB" stroke-width="3.5" stroke-linecap="butt" />
<line x1="2013.9" y1="1915.2" x2="2458.4" y2="1915.2" stroke="#EBEBEB" stroke-width="3.5" stroke-linecap="butt" />
<line x1="2018.2" y1="2331.2" x2="2458.4" y2="1915.2" stroke="#7f7f7f" stroke-width="2.6" stroke-linecap="butt" stroke-dasharray="11.5 11.5"/>
<path d="M2018.2 2331.2 L2018.2 2287.41 L2035.81 2287.41 L2035.81 2112.25 L2044.61 2112.25 L2044.61 2068.46 L2097.44 2068.46 L2097.44 2024.67 L2132.65 2024.67 L2132.65 2002.78 L2141.46 2002.78 L2141.46 1980.88 L2247.1 1980.88 L2247.1 1937.09 L2282.32 1937.09 L2282.32 1915.2 L2458.4 1915.2 L2458.4 2331.2 L2018.2 2331.2 Z" fill="#AC9FD0" fill-opacity="0.11" stroke="none"/>
<path d="M2018.2 2331.2 L2018.2 2287.41 L2035.81 2287.41 L2035.81 2112.25 L2044.61 2112.25 L2044.61 2068.46 L2097.44 2068.46 L2097.44 2024.67 L2132.65 2024.67 L2132.65 2002.78 L2141.46 2002.78 L2141.46 1980.88 L2247.1 1980.88 L2247.1 1937.09 L2282.32 1937.09 L2282.32 1915.2 L2458.4 1915.2" fill="none" stroke="#AC9FD0" stroke-width="2.7" stroke-linejoin="miter"/>
</g>
<line x1="2013.9" y1="1909.85" x2="2013.9" y2="2332.6" stroke="#000" stroke-width="3.1" stroke-linecap="butt" />
<line x1="2458.4" y1="1909.85" x2="2458.4" y2="2332.6" stroke="#000" stroke-width="3.1" stroke-linecap="butt" />
<line x1="2013.9" y1="1911.2" x2="2458.4" y2="1911.2" stroke="#000" stroke-width="2.7" stroke-linecap="butt" />
<line x1="2013.9" y1="2331.2" x2="2458.4" y2="2331.2" stroke="#000" stroke-width="2.8" stroke-linecap="butt" />
<line x1="2018.2" y1="2331.2" x2="2018.2" y2="2341.1" stroke="#000" stroke-width="2.8" stroke-linecap="butt" />
<text transform="translate(2019.4,2379.8) scale(1.02,1.04)" font-size="35" text-anchor="middle" fill="#000" >0.0</text>
<line x1="2002.5" y1="2331.2" x2="2013.9" y2="2331.2" stroke="#000" stroke-width="2.8" stroke-linecap="butt" />
<text transform="translate(1991.3,2341.8) scale(1.02,1.04)" font-size="35" text-anchor="end" fill="#000" >0.0</text>
<line x1="2106.24" y1="2331.2" x2="2106.24" y2="2341.1" stroke="#000" stroke-width="2.8" stroke-linecap="butt" />
<text transform="translate(2107.44,2379.8) scale(1.02,1.04)" font-size="35" text-anchor="middle" fill="#000" >0.2</text>
<line x1="2002.5" y1="2248" x2="2013.9" y2="2248" stroke="#000" stroke-width="2.8" stroke-linecap="butt" />
<text transform="translate(1991.3,2258.6) scale(1.02,1.04)" font-size="35" text-anchor="end" fill="#000" >0.2</text>
<line x1="2194.28" y1="2331.2" x2="2194.28" y2="2341.1" stroke="#000" stroke-width="2.8" stroke-linecap="butt" />
<text transform="translate(2195.48,2379.8) scale(1.02,1.04)" font-size="35" text-anchor="middle" fill="#000" >0.4</text>
<line x1="2002.5" y1="2164.8" x2="2013.9" y2="2164.8" stroke="#000" stroke-width="2.8" stroke-linecap="butt" />
<text transform="translate(1991.3,2175.4) scale(1.02,1.04)" font-size="35" text-anchor="end" fill="#000" >0.4</text>
<line x1="2282.32" y1="2331.2" x2="2282.32" y2="2341.1" stroke="#000" stroke-width="2.8" stroke-linecap="butt" />
<text transform="translate(2283.52,2379.8) scale(1.02,1.04)" font-size="35" text-anchor="middle" fill="#000" >0.6</text>
<line x1="2002.5" y1="2081.6" x2="2013.9" y2="2081.6" stroke="#000" stroke-width="2.8" stroke-linecap="butt" />
<text transform="translate(1991.3,2092.2) scale(1.02,1.04)" font-size="35" text-anchor="end" fill="#000" >0.6</text>
<line x1="2370.36" y1="2331.2" x2="2370.36" y2="2341.1" stroke="#000" stroke-width="2.8" stroke-linecap="butt" />
<text transform="translate(2371.56,2379.8) scale(1.02,1.04)" font-size="35" text-anchor="middle" fill="#000" >0.8</text>
<line x1="2002.5" y1="1998.4" x2="2013.9" y2="1998.4" stroke="#000" stroke-width="2.8" stroke-linecap="butt" />
<text transform="translate(1991.3,2009) scale(1.02,1.04)" font-size="35" text-anchor="end" fill="#000" >0.8</text>
<line x1="2458.4" y1="2331.2" x2="2458.4" y2="2341.1" stroke="#000" stroke-width="2.8" stroke-linecap="butt" />
<text transform="translate(2459.6,2379.8) scale(1.02,1.04)" font-size="35" text-anchor="middle" fill="#000" >1.0</text>
<line x1="2002.5" y1="1915.2" x2="2013.9" y2="1915.2" stroke="#000" stroke-width="2.8" stroke-linecap="butt" />
<text transform="translate(1991.3,1925.8) scale(1.02,1.04)" font-size="35" text-anchor="end" fill="#000" >1.0</text>
<text transform="translate(2236.15,2419.2) scale(1.02,1.04)" font-size="34.8" text-anchor="middle" fill="#000" >1-Specificity (FPR)</text>
<text transform="translate(1930.2,2125.4) rotate(-90) scale(1,1.07)" font-size="35" text-anchor="middle" fill="#000" >Swnsiticity (TPR)</text>
<text transform="translate(2223.9,2457.7) scale(1.02,1.04)" font-size="34.6" text-anchor="middle" fill="#000" >GSE30122</text>
<text transform="translate(2452.8,2256.2) scale(1.02,1.04)" font-size="34.7" text-anchor="end" fill="#000" >CCL2</text>
<text transform="translate(2452.8,2291.1) scale(1.02,1.04)" font-size="34.7" text-anchor="end" fill="#000" >AUC:0.843</text>
<text transform="translate(2452.8,2326) scale(1.02,1.04)" font-size="34.7" text-anchor="end" fill="#000" >CI:0.740-0.946</text>
</g>
<text transform="translate(12.4,54.5) scale(1,1.04)" font-size="54.2" text-anchor="start" fill="#000" >A</text>
<text transform="translate(15.7,672.7) scale(1,1.04)" font-size="54.2" text-anchor="start" fill="#000" >B</text>
<text transform="translate(12.35,1284.4) scale(1,1.04)" font-size="54.2" text-anchor="start" fill="#000" >C</text>
<text transform="translate(12.7,1902.5) scale(1,1.04)" font-size="54.2" text-anchor="start" fill="#000" >D</text>
</svg></body></html>
